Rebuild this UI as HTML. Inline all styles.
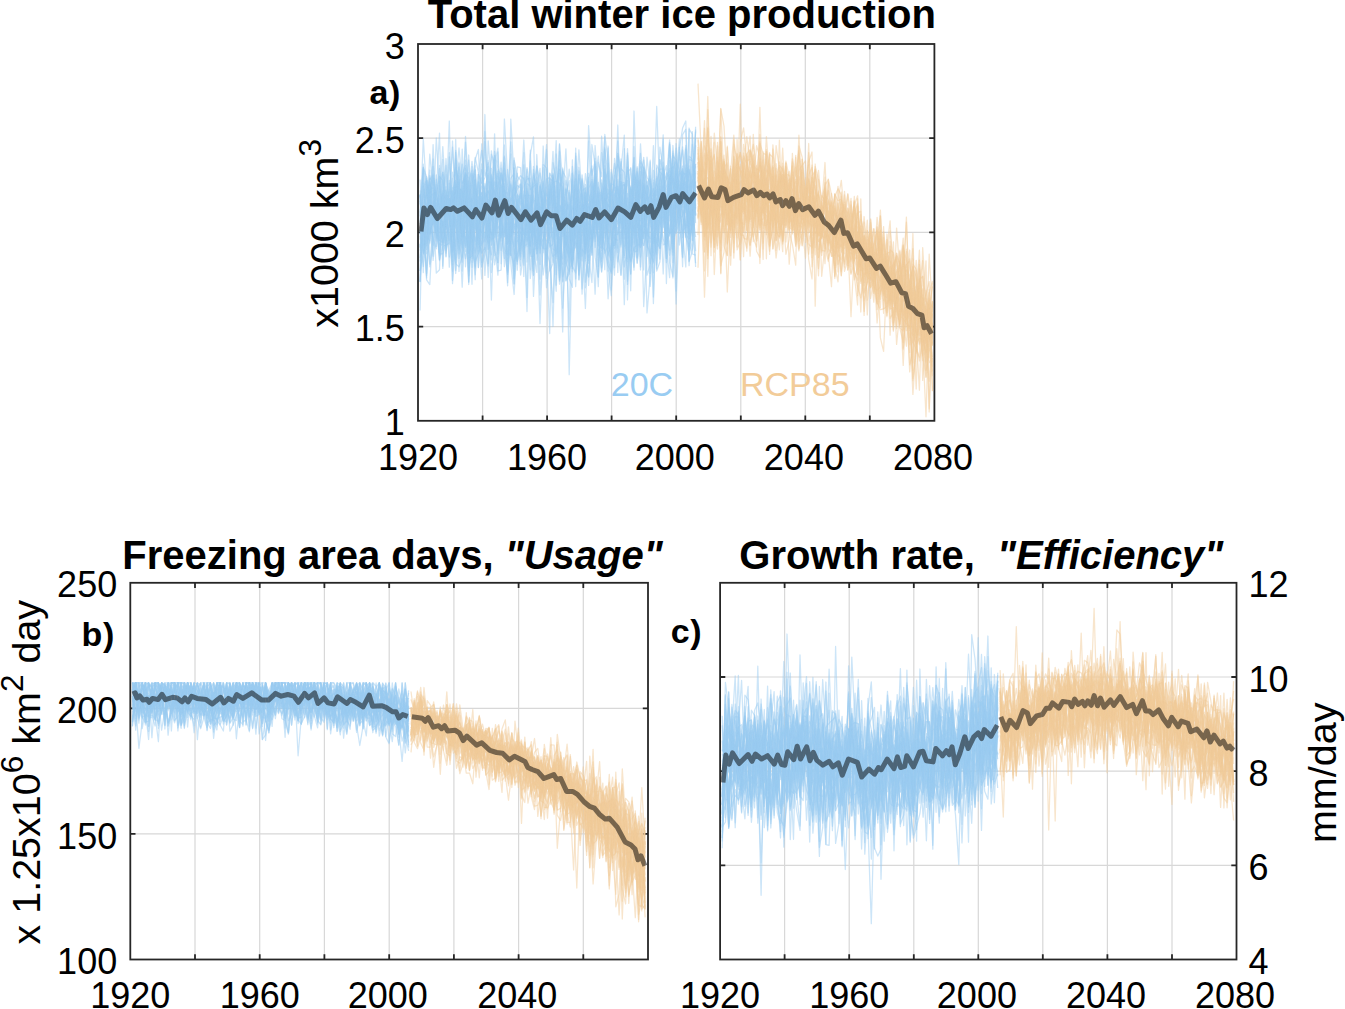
<!DOCTYPE html>
<html><head><meta charset="utf-8"><style>
html,body{margin:0;padding:0;background:#fff;}
body{width:1345px;height:1009px;overflow:hidden;}
svg{display:block;}
text{font-family:"Liberation Sans", sans-serif;fill:#000;}
.tk{font-size:36px;}
.yl{font-size:39.5px;}
.ti{font-size:40px;font-weight:bold;}
.pl{font-size:34px;font-weight:bold;letter-spacing:0.6px;}
</style></head><body>
<svg width="1345" height="1009" viewBox="0 0 1345 1009">
<rect width="1345" height="1009" fill="#fff"/>
<path d="M482.6 44V420.8M547.1 44V420.8M611.6 44V420.8M676.2 44V420.8M740.8 44V420.8M805.3 44V420.8M869.8 44V420.8M418 326.6H934.4M418 232.4H934.4M418 138.2H934.4" stroke="#d8d8d8" stroke-width="1.2" fill="none"/>
<path d="M195 582.8V959.5M259.7 582.8V959.5M324.4 582.8V959.5M389.2 582.8V959.5M453.9 582.8V959.5M518.6 582.8V959.5M583.3 582.8V959.5M130.3 833.9H648M130.3 708.4H648" stroke="#d8d8d8" stroke-width="1.2" fill="none"/>
<path d="M784.6 582.8V959.5M849.2 582.8V959.5M913.8 582.8V959.5M978.3 582.8V959.5M1042.8 582.8V959.5M1107.4 582.8V959.5M1172 582.8V959.5M720.1 865.3H1236.5M720.1 771.1H1236.5M720.1 677H1236.5" stroke="#d8d8d8" stroke-width="1.2" fill="none"/>
<path d="M482.6 420.8v-5.2M482.6 44v5.2M547.1 420.8v-5.2M547.1 44v5.2M611.6 420.8v-5.2M611.6 44v5.2M676.2 420.8v-5.2M676.2 44v5.2M740.8 420.8v-5.2M740.8 44v5.2M805.3 420.8v-5.2M805.3 44v5.2M869.8 420.8v-5.2M869.8 44v5.2M418 326.6h5.2M934.4 326.6h-5.2M418 232.4h5.2M934.4 232.4h-5.2M418 138.2h5.2M934.4 138.2h-5.2" stroke="#262626" stroke-width="1.8" fill="none"/>
<rect x="418" y="44" width="516.4" height="376.8" stroke="#262626" stroke-width="1.8" fill="none"/>
<path d="M195 959.5v-5.2M195 582.8v5.2M259.7 959.5v-5.2M259.7 582.8v5.2M324.4 959.5v-5.2M324.4 582.8v5.2M389.2 959.5v-5.2M389.2 582.8v5.2M453.9 959.5v-5.2M453.9 582.8v5.2M518.6 959.5v-5.2M518.6 582.8v5.2M583.3 959.5v-5.2M583.3 582.8v5.2M130.3 833.9h5.2M648 833.9h-5.2M130.3 708.4h5.2M648 708.4h-5.2" stroke="#262626" stroke-width="1.8" fill="none"/>
<rect x="130.3" y="582.8" width="517.7" height="376.7" stroke="#262626" stroke-width="1.8" fill="none"/>
<path d="M784.6 959.5v-5.2M784.6 582.8v5.2M849.2 959.5v-5.2M849.2 582.8v5.2M913.8 959.5v-5.2M913.8 582.8v5.2M978.3 959.5v-5.2M978.3 582.8v5.2M1042.8 959.5v-5.2M1042.8 582.8v5.2M1107.4 959.5v-5.2M1107.4 582.8v5.2M1172 959.5v-5.2M1172 582.8v5.2M720.1 865.3h5.2M1236.5 865.3h-5.2M720.1 771.1h5.2M1236.5 771.1h-5.2M720.1 677h5.2M1236.5 677h-5.2" stroke="#262626" stroke-width="1.8" fill="none"/>
<rect x="720.1" y="582.8" width="516.4" height="376.7" stroke="#262626" stroke-width="1.8" fill="none"/>
<g fill="none" stroke="rgb(153,204,242)" stroke-opacity="0.5" stroke-width="1.25" stroke-linejoin="round">
<path d="M420.1 190.2L423.3 252.9L426.6 187.9L429.8 201.6L433.1 209.3L436.3 195.4L439.5 176.3L442.8 233.1L446 220.3L449.3 152.6L452.5 283.6L455.7 240.9L459 188.5L462.2 237.7L465.5 195.8L468.7 211.1L472 241.6L475.2 174.4L478.4 231.7L481.7 262.5L484.9 250.3L488.2 199.4L491.4 241L494.6 155.6L497.9 207.3L501.1 223.7L504.4 162.8L507.6 209.2L510.8 263.8L514.1 294.5L517.3 239.8L520.6 245.6L523.8 186.8L527 179.2L530.3 178.2L533.5 234.5L536.8 237.4L540 203.8L543.2 183.2L546.5 220.3L549.7 224.5L553 211.9L556.2 256.7L559.5 224L562.7 223.2L565.9 189L569.2 226.8L572.4 268.1L575.7 222L578.9 222.6L582.1 232.1L585.4 223.8L588.6 233L591.9 234.4L595.1 230.8L598.3 193.3L601.6 224.8L604.8 165.7L608.1 224.5L611.3 183.1L614.5 212L617.8 223.5L621 197.7L624.3 214.8L627.5 166.9L630.7 192.5L634 231.3L637.2 173.2L640.5 231.9L643.7 167.6L647 184.1L650.2 175.6L653.4 216.5L656.7 228.9L659.9 174L663.2 189.5L666.4 258.6L669.6 191.6L672.9 173.2L676.1 208.3L679.4 194.5L682.6 173.4L685.8 145.3L689.1 227.6L692.3 181L695.6 192.9"/>
<path d="M420.1 200.7L423.3 254.1L426.6 237.1L429.8 240.5L433.1 208.3L436.3 231.8L439.5 244.5L442.8 245.1L446 218.7L449.3 207.5L452.5 198.1L455.7 188.1L459 182.5L462.2 220.4L465.5 202.3L468.7 155L472 211.8L475.2 244.9L478.4 205.2L481.7 163.9L484.9 204.4L488.2 233.2L491.4 218.6L494.6 190.3L497.9 271L501.1 270.1L504.4 198.9L507.6 237.6L510.8 221.1L514.1 235.7L517.3 261.4L520.6 245.3L523.8 217.4L527 195.3L530.3 195.6L533.5 216.4L536.8 250.4L540 232.5L543.2 220.5L546.5 220.3L549.7 215.7L553 233.2L556.2 183.5L559.5 169.4L562.7 212.8L565.9 187.8L569.2 274.1L572.4 220.4L575.7 212.8L578.9 175.7L582.1 227.2L585.4 196.8L588.6 252L591.9 244.2L595.1 188.5L598.3 229.5L601.6 136.2L604.8 192.6L608.1 255.8L611.3 245L614.5 219.6L617.8 207.5L621 168.6L624.3 172.2L627.5 221.6L630.7 273.7L634 146.3L637.2 226.8L640.5 230.4L643.7 238.3L647 185.2L650.2 192L653.4 217.8L656.7 182L659.9 169.2L663.2 169.1L666.4 204.6L669.6 212.8L672.9 196.2L676.1 198.4L679.4 181.1L682.6 172.9L685.8 233.3L689.1 199.8L692.3 195.1L695.6 222.9"/>
<path d="M420.1 271.1L423.3 253.2L426.6 226.2L429.8 207.6L433.1 220.7L436.3 222.6L439.5 260.7L442.8 221.7L446 229.1L449.3 208.4L452.5 252.4L455.7 150.3L459 222.7L462.2 233L465.5 175.8L468.7 281.7L472 212L475.2 206.2L478.4 181.9L481.7 245.8L484.9 215.2L488.2 190.9L491.4 219.4L494.6 224.6L497.9 250.8L501.1 216.2L504.4 173.8L507.6 195.4L510.8 141.9L514.1 189.5L517.3 238.4L520.6 233.9L523.8 211.5L527 204.4L530.3 269.8L533.5 226.2L536.8 242.4L540 235.5L543.2 199.4L546.5 261.8L549.7 178.6L553 181L556.2 203.6L559.5 205.5L562.7 209L565.9 203.8L569.2 254L572.4 226.8L575.7 231.4L578.9 174.3L582.1 193.6L585.4 249.6L588.6 181.2L591.9 255L595.1 181.1L598.3 225.9L601.6 190.6L604.8 218.5L608.1 189.8L611.3 212.3L614.5 267.6L617.8 197.5L621 274.9L624.3 198.3L627.5 180.3L630.7 219.8L634 197.4L637.2 262.9L640.5 238.7L643.7 245.7L647 230.7L650.2 286.5L653.4 241.7L656.7 228.8L659.9 180.8L663.2 168.4L666.4 212.6L669.6 232.7L672.9 232.6L676.1 168.5L679.4 218L682.6 200L685.8 165L689.1 217.8L692.3 131.7L695.6 201.3"/>
<path d="M420.1 310.6L423.3 182.9L426.6 213.8L429.8 154.2L433.1 189.6L436.3 241L439.5 185.7L442.8 211.3L446 198.4L449.3 198.3L452.5 214.6L455.7 225.4L459 249.9L462.2 235.5L465.5 193L468.7 258.1L472 256.3L475.2 165.7L478.4 234.5L481.7 244.1L484.9 239L488.2 225.6L491.4 174.5L494.6 194.9L497.9 151.9L501.1 204.7L504.4 266.7L507.6 233.4L510.8 235.3L514.1 195.8L517.3 185.4L520.6 188L523.8 218.6L527 191L530.3 200.6L533.5 253.8L536.8 165.7L540 184.8L543.2 204L546.5 209.1L549.7 210.8L553 175.2L556.2 222.3L559.5 223L562.7 236.5L565.9 189.7L569.2 374.7L572.4 232.1L575.7 200.9L578.9 214L582.1 202.1L585.4 258.3L588.6 125.6L591.9 175.3L595.1 161.5L598.3 205.4L601.6 195.5L604.8 200.2L608.1 238.9L611.3 172.3L614.5 189.5L617.8 201.9L621 174.9L624.3 223.5L627.5 225L630.7 196.8L634 157.9L637.2 258L640.5 226.2L643.7 221.4L647 212.8L650.2 207.2L653.4 242.9L656.7 211.3L659.9 186.6L663.2 217.4L666.4 208.6L669.6 178.4L672.9 170.6L676.1 233.2L679.4 221.2L682.6 257L685.8 182.1L689.1 179.8L692.3 210.5L695.6 237"/>
<path d="M420.1 250.6L423.3 226.3L426.6 273.6L429.8 187.5L433.1 175.3L436.3 195.3L439.5 206.8L442.8 224.3L446 241.4L449.3 222.2L452.5 257.2L455.7 185.9L459 271.5L462.2 185.3L465.5 246.8L468.7 185.6L472 227.3L475.2 212.5L478.4 229.8L481.7 241.7L484.9 201.8L488.2 206.1L491.4 219.8L494.6 164.8L497.9 190.7L501.1 162.2L504.4 201.9L507.6 282.7L510.8 232.3L514.1 185.6L517.3 194.4L520.6 250.3L523.8 200.9L527 167.6L530.3 189.5L533.5 186.6L536.8 183.7L540 244.5L543.2 221.1L546.5 168.9L549.7 198.9L553 182.7L556.2 181L559.5 183L562.7 281.1L565.9 212.2L569.2 240.8L572.4 252.8L575.7 208.9L578.9 237.4L582.1 235.5L585.4 222L588.6 285.5L591.9 226.3L595.1 204.3L598.3 237L601.6 272.1L604.8 244L608.1 202.1L611.3 194.8L614.5 187L617.8 189.2L621 222.1L624.3 238.7L627.5 148.6L630.7 216.8L634 177.2L637.2 228.6L640.5 240.4L643.7 185.3L647 197.4L650.2 179.8L653.4 228.8L656.7 165.1L659.9 172.2L663.2 174.9L666.4 245.9L669.6 277.7L672.9 197.5L676.1 160.2L679.4 203.3L682.6 168.6L685.8 212.1L689.1 169.1L692.3 186.8L695.6 192.5"/>
<path d="M420.1 248.1L423.3 210.2L426.6 253.7L429.8 213.1L433.1 158.9L436.3 246.4L439.5 207.5L442.8 192.9L446 256.9L449.3 180.4L452.5 210.8L455.7 189.2L459 253.8L462.2 198.3L465.5 216.9L468.7 172.5L472 262.2L475.2 179.9L478.4 242.4L481.7 253.3L484.9 247.5L488.2 266.1L491.4 178.2L494.6 215.5L497.9 216.3L501.1 222.7L504.4 236.9L507.6 215.1L510.8 184.9L514.1 207.9L517.3 264.1L520.6 184.8L523.8 217.2L527 185.8L530.3 254.6L533.5 169.4L536.8 203.4L540 219.3L543.2 222.6L546.5 287.6L549.7 264.3L553 185.8L556.2 285.2L559.5 192.1L562.7 170.9L565.9 177.7L569.2 228.9L572.4 242.1L575.7 156L578.9 234.3L582.1 210.5L585.4 237.5L588.6 204.9L591.9 246L595.1 229L598.3 182.3L601.6 261.4L604.8 219L608.1 239.3L611.3 260.1L614.5 185.8L617.8 205.9L621 185.9L624.3 184.3L627.5 222.9L630.7 228.2L634 251.8L637.2 251.1L640.5 210.5L643.7 183.6L647 312.9L650.2 276.1L653.4 213.2L656.7 106.4L659.9 192.6L663.2 203.7L666.4 242.9L669.6 231.8L672.9 210.8L676.1 188.7L679.4 206.3L682.6 184.8L685.8 199.7L689.1 198.4L692.3 214.3L695.6 138.3"/>
<path d="M420.1 221.5L423.3 204L426.6 180.4L429.8 204.1L433.1 180.9L436.3 197.6L439.5 207.6L442.8 205L446 192.1L449.3 244.6L452.5 214.9L455.7 220.2L459 218L462.2 189.5L465.5 183.8L468.7 239.7L472 206.1L475.2 159.5L478.4 149.5L481.7 224.8L484.9 186.7L488.2 206.1L491.4 196.3L494.6 190.9L497.9 206.9L501.1 173.1L504.4 201.2L507.6 243.1L510.8 230.8L514.1 160.3L517.3 176L520.6 180.4L523.8 207.4L527 241.6L530.3 229.5L533.5 166.3L536.8 215.1L540 248.7L543.2 205.8L546.5 273L549.7 195.6L553 253.2L556.2 291.3L559.5 189.7L562.7 215.8L565.9 239.5L569.2 325.2L572.4 173.2L575.7 238.2L578.9 229.4L582.1 205.9L585.4 190.7L588.6 200.8L591.9 208.5L595.1 174.1L598.3 266.7L601.6 183L604.8 199.8L608.1 196.7L611.3 207.7L614.5 217L617.8 186.4L621 202.9L624.3 266.8L627.5 248.2L630.7 209L634 238.3L637.2 184.4L640.5 218.4L643.7 166.5L647 177.3L650.2 182.3L653.4 255.9L656.7 219.1L659.9 222.4L663.2 199.6L666.4 218.4L669.6 214.2L672.9 221.4L676.1 201L679.4 174.4L682.6 170.9L685.8 236.2L689.1 246.6L692.3 215.4L695.6 145.2"/>
<path d="M420.1 281.9L423.3 222.8L426.6 211L429.8 209.7L433.1 200.7L436.3 273.1L439.5 269.8L442.8 181.5L446 203.2L449.3 219L452.5 249.3L455.7 139.4L459 240.3L462.2 262.2L465.5 199.7L468.7 211.3L472 256.1L475.2 222.6L478.4 174.2L481.7 183.4L484.9 177.7L488.2 166.5L491.4 211.6L494.6 187.2L497.9 212.8L501.1 231.5L504.4 258.5L507.6 218L510.8 154L514.1 254.8L517.3 211L520.6 255.9L523.8 201.1L527 223.5L530.3 214.7L533.5 216L536.8 253.7L540 203.4L543.2 223.6L546.5 218.6L549.7 202.7L553 151.3L556.2 226.7L559.5 143.7L562.7 181L565.9 207.3L569.2 235.6L572.4 252.1L575.7 246.1L578.9 238.9L582.1 207.1L585.4 253.3L588.6 207.8L591.9 252.7L595.1 145.5L598.3 188.1L601.6 198L604.8 211.6L608.1 146L611.3 245.3L614.5 245.3L617.8 233.1L621 194.3L624.3 257.8L627.5 198.1L630.7 245.9L634 207.1L637.2 205.7L640.5 206.2L643.7 206.8L647 245.6L650.2 253L653.4 261.6L656.7 240.4L659.9 225.8L663.2 208.7L666.4 262.6L669.6 187.5L672.9 178L676.1 196.9L679.4 152.1L682.6 186.5L685.8 195.2L689.1 171.1L692.3 180.3L695.6 214.7"/>
<path d="M420.1 224.4L423.3 214.4L426.6 245.8L429.8 190.8L433.1 177.8L436.3 215.2L439.5 229.1L442.8 159.3L446 229.2L449.3 199.7L452.5 196.1L455.7 184.4L459 204.7L462.2 239.3L465.5 225.8L468.7 238.4L472 205.4L475.2 261.5L478.4 253.7L481.7 216.8L484.9 131.5L488.2 209.7L491.4 300.1L494.6 200.8L497.9 182L501.1 263.7L504.4 183.6L507.6 227.2L510.8 232.9L514.1 167.8L517.3 218.8L520.6 257.1L523.8 205L527 235L530.3 218.3L533.5 250L536.8 272.4L540 190.9L543.2 210.4L546.5 224.6L549.7 196.1L553 191.6L556.2 205.9L559.5 218.8L562.7 206.1L565.9 231.6L569.2 248.2L572.4 248.9L575.7 241.8L578.9 258.5L582.1 178.6L585.4 211.5L588.6 222.1L591.9 234.1L595.1 164.1L598.3 276.5L601.6 189.4L604.8 220.6L608.1 239.5L611.3 254.5L614.5 194.1L617.8 192.7L621 221.6L624.3 230.4L627.5 243.6L630.7 215.7L634 189.1L637.2 168L640.5 267L643.7 168.1L647 232.9L650.2 216.4L653.4 240.8L656.7 242.4L659.9 248.2L663.2 193.1L666.4 219.5L669.6 144.2L672.9 198.4L676.1 169.7L679.4 196.6L682.6 233.5L685.8 200.9L689.1 236.5L692.3 191.8L695.6 205.8"/>
<path d="M420.1 219.6L423.3 138.8L426.6 192.6L429.8 201.5L433.1 216.7L436.3 217.1L439.5 212.5L442.8 242.9L446 228.9L449.3 197.9L452.5 236.6L455.7 152.5L459 202.5L462.2 204.8L465.5 251.3L468.7 197.5L472 173.9L475.2 216.8L478.4 267.7L481.7 211.9L484.9 205.5L488.2 202.4L491.4 214.1L494.6 244.7L497.9 275.1L501.1 224.8L504.4 199.1L507.6 271.3L510.8 212.2L514.1 213.3L517.3 204.9L520.6 210.3L523.8 222.8L527 206.4L530.3 233L533.5 220.6L536.8 231.6L540 212.3L543.2 213.5L546.5 220.3L549.7 217.2L553 219.4L556.2 254L559.5 196.1L562.7 169.3L565.9 244.9L569.2 215.9L572.4 268.7L575.7 218.1L578.9 186.9L582.1 288.9L585.4 228.2L588.6 203.4L591.9 195.9L595.1 229.5L598.3 197.1L601.6 228.1L604.8 249.9L608.1 176.1L611.3 209.8L614.5 229.8L617.8 261.9L621 239.9L624.3 198.8L627.5 261.6L630.7 207.3L634 204.9L637.2 219.2L640.5 179.7L643.7 306.6L647 249.1L650.2 214.8L653.4 200.1L656.7 178.5L659.9 217.1L663.2 217.3L666.4 195.4L669.6 195.4L672.9 215L676.1 194.4L679.4 147.4L682.6 215.4L685.8 205.5L689.1 225L692.3 175.9L695.6 131.5"/>
<path d="M420.1 195.5L423.3 222.2L426.6 279.9L429.8 284.6L433.1 221.4L436.3 174.8L439.5 206.4L442.8 226.8L446 222.9L449.3 212.5L452.5 251.5L455.7 183.9L459 147.8L462.2 183.6L465.5 175.8L468.7 284.5L472 211.1L475.2 169.6L478.4 233.1L481.7 250.1L484.9 209.9L488.2 214.4L491.4 245L494.6 219.3L497.9 191.7L501.1 228.3L504.4 231.6L507.6 222.6L510.8 236.7L514.1 229.6L517.3 208.1L520.6 214.9L523.8 234.4L527 198.3L530.3 256.1L533.5 256.3L536.8 154.5L540 221L543.2 197.1L546.5 193.7L549.7 219.2L553 210.9L556.2 234.2L559.5 237.1L562.7 332L565.9 198.5L569.2 212.4L572.4 271.8L575.7 148.2L578.9 275.3L582.1 202L585.4 252.7L588.6 140.9L591.9 205.1L595.1 238.2L598.3 221.2L601.6 247.7L604.8 186.8L608.1 199.7L611.3 200.8L614.5 230.3L617.8 223.2L621 206.2L624.3 204L627.5 206L630.7 220.2L634 181.8L637.2 205.1L640.5 207L643.7 192.3L647 194L650.2 254.7L653.4 198.5L656.7 225L659.9 248.7L663.2 218.5L666.4 207.4L669.6 233.3L672.9 155.6L676.1 160.2L679.4 189.5L682.6 187.4L685.8 194.6L689.1 261.6L692.3 251.6L695.6 191.8"/>
<path d="M420.1 239.7L423.3 186.2L426.6 223.4L429.8 170.2L433.1 256.3L436.3 201.8L439.5 233.8L442.8 174.5L446 253.2L449.3 228.8L452.5 271.2L455.7 212.1L459 163.5L462.2 186.1L465.5 173L468.7 263.4L472 198.2L475.2 189.1L478.4 232.3L481.7 226.2L484.9 223.8L488.2 193.5L491.4 154.2L494.6 163.3L497.9 148.2L501.1 250.3L504.4 230.9L507.6 200.7L510.8 228.6L514.1 232.3L517.3 235.3L520.6 236.1L523.8 243L527 216.9L530.3 154.8L533.5 136.9L536.8 253.8L540 242.1L543.2 146L546.5 217.7L549.7 189.1L553 199.8L556.2 140.6L559.5 251.4L562.7 222.7L565.9 247.3L569.2 257.3L572.4 266.4L575.7 272.9L578.9 229.7L582.1 225.2L585.4 196.4L588.6 233.1L591.9 210.4L595.1 176.9L598.3 254.9L601.6 238.2L604.8 134.3L608.1 161.8L611.3 213.4L614.5 175.1L617.8 247.9L621 215.8L624.3 230.2L627.5 244.9L630.7 260.8L634 201.5L637.2 227.3L640.5 219.7L643.7 234.1L647 228.8L650.2 253.7L653.4 234.1L656.7 198.3L659.9 209.3L663.2 162.1L666.4 217.5L669.6 250L672.9 179.7L676.1 148.2L679.4 199.1L682.6 179.5L685.8 197.9L689.1 184.7L692.3 200.6L695.6 163.7"/>
<path d="M420.1 282.1L423.3 206.4L426.6 230.3L429.8 234.2L433.1 207.6L436.3 232L439.5 209.3L442.8 199.8L446 202.7L449.3 225.6L452.5 172.1L455.7 184L459 187.6L462.2 192.9L465.5 247.3L468.7 212.5L472 208L475.2 216.2L478.4 248L481.7 196.5L484.9 241.7L488.2 140.8L491.4 187L494.6 250.9L497.9 262.8L501.1 216.4L504.4 190.2L507.6 239.1L510.8 197.6L514.1 261.6L517.3 254.1L520.6 244.9L523.8 191.2L527 246.8L530.3 213.1L533.5 211.6L536.8 202.3L540 220.8L543.2 236.4L546.5 240.8L549.7 243.3L553 326.5L556.2 207.7L559.5 265.8L562.7 207.5L565.9 217.2L569.2 190.3L572.4 265.9L575.7 230.5L578.9 226.6L582.1 216.7L585.4 246.8L588.6 203.6L591.9 232.4L595.1 294.2L598.3 214.3L601.6 199.1L604.8 184.9L608.1 244.5L611.3 224.4L614.5 194.4L617.8 186.4L621 213.3L624.3 184.8L627.5 284.4L630.7 214.1L634 206.4L637.2 206.4L640.5 160.7L643.7 168L647 202.2L650.2 209.2L653.4 182.6L656.7 268.9L659.9 222.2L663.2 238.9L666.4 247L669.6 196.6L672.9 277.9L676.1 202.5L679.4 148.4L682.6 128.1L685.8 121L689.1 232.1L692.3 202.5L695.6 251.3"/>
<path d="M420.1 225.2L423.3 233.3L426.6 239.5L429.8 181.5L433.1 224L436.3 231.3L439.5 253.8L442.8 253.9L446 243L449.3 189.5L452.5 234.7L455.7 246.9L459 214.2L462.2 235.5L465.5 236.6L468.7 253.4L472 221.3L475.2 228.7L478.4 222L481.7 222.3L484.9 192.4L488.2 200.5L491.4 181.7L494.6 199.1L497.9 236.3L501.1 231.5L504.4 228L507.6 210.4L510.8 255.4L514.1 199.5L517.3 241.7L520.6 234.6L523.8 195L527 195.9L530.3 245.3L533.5 220.6L536.8 224.2L540 323.6L543.2 239.2L546.5 218.2L549.7 240.4L553 200.4L556.2 213.1L559.5 243.3L562.7 203.6L565.9 222.5L569.2 219.2L572.4 230.9L575.7 171.1L578.9 279.4L582.1 217.9L585.4 234.9L588.6 188.3L591.9 181.6L595.1 214.3L598.3 209.2L601.6 238.4L604.8 187.6L608.1 189.6L611.3 232.8L614.5 238.9L617.8 240.3L621 211.3L624.3 222.5L627.5 193.6L630.7 261.9L634 248.2L637.2 244.6L640.5 166.9L643.7 238.5L647 191.5L650.2 225.5L653.4 232.4L656.7 253.1L659.9 201.5L663.2 186.9L666.4 179.5L669.6 168.5L672.9 217.7L676.1 171.6L679.4 224.6L682.6 184.7L685.8 182.9L689.1 234.2L692.3 227L695.6 166.1"/>
<path d="M420.1 228.4L423.3 214.1L426.6 236.4L429.8 189.6L433.1 201.1L436.3 215.2L439.5 239.9L442.8 242.7L446 194.7L449.3 267.1L452.5 223.9L455.7 188.4L459 167.2L462.2 196L465.5 142.1L468.7 220.4L472 235.8L475.2 253.2L478.4 230.8L481.7 169.7L484.9 201.3L488.2 232L491.4 150.8L494.6 180.3L497.9 233.4L501.1 212.7L504.4 145L507.6 198.4L510.8 210.8L514.1 278.7L517.3 203.6L520.6 194.2L523.8 224.1L527 226.5L530.3 238.9L533.5 264.8L536.8 212.9L540 184.6L543.2 221.8L546.5 214.2L549.7 247.1L553 244.2L556.2 196.3L559.5 253L562.7 258.8L565.9 217.3L569.2 254.4L572.4 232.1L575.7 227.5L578.9 217.6L582.1 245.6L585.4 308.5L588.6 225.1L591.9 185.2L595.1 205.9L598.3 201.1L601.6 227.3L604.8 209.7L608.1 298.8L611.3 245.3L614.5 275.2L617.8 189.5L621 205.3L624.3 279.2L627.5 167.5L630.7 223.7L634 166L637.2 257.6L640.5 171.7L643.7 200.7L647 206.9L650.2 160.1L653.4 296.9L656.7 208.4L659.9 259.2L663.2 176.1L666.4 165.7L669.6 209.3L672.9 204.5L676.1 290.9L679.4 171.8L682.6 149.9L685.8 178.3L689.1 212.6L692.3 217.1L695.6 172.6"/>
<path d="M420.1 222.7L423.3 231.4L426.6 249.4L429.8 193.1L433.1 217L436.3 138L439.5 189.1L442.8 227.3L446 209.6L449.3 205L452.5 261.3L455.7 202.6L459 179.9L462.2 216.8L465.5 217.2L468.7 180.8L472 249.6L475.2 266.7L478.4 197.2L481.7 193.5L484.9 206.7L488.2 249.2L491.4 196.9L494.6 182.6L497.9 195.9L501.1 218.3L504.4 209.8L507.6 207.7L510.8 248.4L514.1 284L517.3 199.3L520.6 253.6L523.8 224.6L527 311.6L530.3 194.8L533.5 208.4L536.8 218L540 182.7L543.2 213.9L546.5 236.2L549.7 173.7L553 221.1L556.2 274.6L559.5 210.5L562.7 200.3L565.9 148.8L569.2 220.4L572.4 178.9L575.7 239.2L578.9 274.3L582.1 237.3L585.4 193.1L588.6 238.3L591.9 204.7L595.1 179.3L598.3 202.9L601.6 224.1L604.8 202.7L608.1 234L611.3 289.6L614.5 234.9L617.8 233.8L621 191.5L624.3 255.4L627.5 226.9L630.7 250.8L634 187.7L637.2 215.3L640.5 143.8L643.7 198.5L647 186.9L650.2 179.1L653.4 272.8L656.7 168.1L659.9 201.4L663.2 191.4L666.4 224.6L669.6 234L672.9 151.1L676.1 180.9L679.4 181.2L682.6 216.9L685.8 228.1L689.1 190.2L692.3 182.4L695.6 164.1"/>
<path d="M420.1 243.9L423.3 266.5L426.6 225.9L429.8 189.2L433.1 187.8L436.3 196.7L439.5 168.6L442.8 268.4L446 211.5L449.3 200.1L452.5 280.5L455.7 217.4L459 258.4L462.2 218L465.5 245.1L468.7 215.6L472 206L475.2 224.4L478.4 236.6L481.7 253L484.9 214.8L488.2 201.2L491.4 201.7L494.6 212.9L497.9 198.1L501.1 200.1L504.4 219.4L507.6 230.7L510.8 225.1L514.1 189.4L517.3 173.3L520.6 228.2L523.8 218.6L527 203.6L530.3 226.1L533.5 244.7L536.8 207.7L540 236L543.2 190.8L546.5 205.9L549.7 190.7L553 174L556.2 230.3L559.5 144.6L562.7 223.6L565.9 246.3L569.2 235.4L572.4 180.3L575.7 228L578.9 167.4L582.1 192.7L585.4 260.9L588.6 221.3L591.9 255.1L595.1 179.3L598.3 156.1L601.6 193.5L604.8 253.3L608.1 245.6L611.3 254.1L614.5 209.9L617.8 205.9L621 204L624.3 304.7L627.5 217.4L630.7 274.1L634 204.3L637.2 251.1L640.5 179.9L643.7 193.6L647 222.2L650.2 191.1L653.4 204.8L656.7 207.5L659.9 189.6L663.2 244.9L666.4 243.4L669.6 160.6L672.9 252.3L676.1 195.3L679.4 200.6L682.6 189.5L685.8 226L689.1 224.8L692.3 182.9L695.6 195.2"/>
<path d="M420.1 194.1L423.3 272.6L426.6 189.1L429.8 184L433.1 191.3L436.3 222.1L439.5 240.8L442.8 202.8L446 210.4L449.3 121L452.5 250.7L455.7 218.1L459 162.1L462.2 257.1L465.5 221.1L468.7 275.6L472 199.4L475.2 197.4L478.4 209.1L481.7 177.8L484.9 198.2L488.2 249.4L491.4 235.7L494.6 133.8L497.9 254.2L501.1 221.9L504.4 229.1L507.6 214L510.8 215.8L514.1 213.7L517.3 217.7L520.6 190L523.8 249.2L527 222.4L530.3 232.6L533.5 229.4L536.8 205.5L540 222.2L543.2 181.1L546.5 221.6L549.7 224.6L553 209.8L556.2 167.2L559.5 270.7L562.7 221.2L565.9 221.7L569.2 214.4L572.4 208.8L575.7 209.4L578.9 189.1L582.1 202.3L585.4 282.2L588.6 255.1L591.9 282.5L595.1 194L598.3 162.5L601.6 176.7L604.8 136.7L608.1 251.9L611.3 260.2L614.5 218.7L617.8 221.7L621 222.8L624.3 209.4L627.5 239L630.7 189L634 197.5L637.2 203.5L640.5 162.8L643.7 179.7L647 225.6L650.2 219.7L653.4 145.7L656.7 242.3L659.9 217.3L663.2 220.6L666.4 205.9L669.6 220.8L672.9 160.4L676.1 190.7L679.4 171.1L682.6 179.8L685.8 236.1L689.1 254.7L692.3 199.8L695.6 181.1"/>
<path d="M420.1 257.7L423.3 228.3L426.6 275.8L429.8 230.5L433.1 144.6L436.3 219.9L439.5 207.7L442.8 190.1L446 214.2L449.3 212.3L452.5 199.3L455.7 259.2L459 223.6L462.2 223L465.5 215.6L468.7 253L472 185.1L475.2 250.7L478.4 207.4L481.7 266.4L484.9 254.7L488.2 225.2L491.4 200.1L494.6 212.9L497.9 224.4L501.1 168.1L504.4 193.4L507.6 192.4L510.8 253.7L514.1 266.3L517.3 194.9L520.6 204.9L523.8 177.5L527 223.8L530.3 246.2L533.5 275.6L536.8 177.2L540 253.8L543.2 215.6L546.5 192.2L549.7 205.5L553 194.6L556.2 231.4L559.5 227.8L562.7 264.1L565.9 206.8L569.2 169.2L572.4 197.3L575.7 232L578.9 178.5L582.1 197.4L585.4 232.9L588.6 177.3L591.9 245.1L595.1 222.7L598.3 200.3L601.6 214.7L604.8 198.5L608.1 205.2L611.3 211L614.5 215.4L617.8 206.5L621 189L624.3 184L627.5 281.2L630.7 186.2L634 205.5L637.2 245.8L640.5 243.5L643.7 187.6L647 275.2L650.2 264.5L653.4 207.9L656.7 176.7L659.9 225.8L663.2 190.2L666.4 198.9L669.6 178.1L672.9 180.3L676.1 201.9L679.4 230.4L682.6 134.6L685.8 129.4L689.1 232.9L692.3 173.8L695.6 215.7"/>
<path d="M420.1 235.7L423.3 253L426.6 242.9L429.8 201.8L433.1 207.5L436.3 227.8L439.5 240.5L442.8 194.9L446 165.5L449.3 213.3L452.5 207.9L455.7 206L459 182.3L462.2 228.9L465.5 160.1L468.7 199.5L472 258.4L475.2 179.5L478.4 227.3L481.7 232.9L484.9 222.5L488.2 160.4L491.4 245.2L494.6 208.1L497.9 228.5L501.1 220L504.4 204.6L507.6 251.4L510.8 255.4L514.1 157.8L517.3 193.2L520.6 215.1L523.8 152.7L527 262L530.3 197.6L533.5 236.1L536.8 221.3L540 217.5L543.2 190.6L546.5 202.5L549.7 218.5L553 241.8L556.2 211.1L559.5 216.2L562.7 219L565.9 263.8L569.2 232.8L572.4 206.5L575.7 184.6L578.9 209.4L582.1 192.8L585.4 203.8L588.6 260.5L591.9 240.4L595.1 219.4L598.3 230.3L601.6 271.3L604.8 180.3L608.1 231.3L611.3 214.8L614.5 219.6L617.8 211.8L621 201.6L624.3 230L627.5 153L630.7 227.7L634 232L637.2 180.1L640.5 183.9L643.7 269.9L647 185.6L650.2 197.5L653.4 195L656.7 195.1L659.9 186.5L663.2 134.8L666.4 283.6L669.6 180.8L672.9 210.1L676.1 194.6L679.4 245L682.6 216.9L685.8 234.4L689.1 239.6L692.3 225.3L695.6 195"/>
<path d="M420.1 261.5L423.3 167.5L426.6 242.5L429.8 232.4L433.1 222.1L436.3 179.4L439.5 259.4L442.8 193.8L446 229.6L449.3 156.8L452.5 204.2L455.7 192.1L459 188.9L462.2 190.5L465.5 266.8L468.7 212.7L472 228.1L475.2 279.7L478.4 172.8L481.7 267.3L484.9 198.2L488.2 190.8L491.4 201.1L494.6 151.3L497.9 168.5L501.1 177.4L504.4 186.3L507.6 235.1L510.8 244L514.1 200.8L517.3 227.5L520.6 233.7L523.8 208.8L527 222.3L530.3 202.8L533.5 235.6L536.8 207.5L540 224.9L543.2 227.7L546.5 217.4L549.7 194.5L553 177.5L556.2 214.8L559.5 211L562.7 210.5L565.9 218.7L569.2 202.5L572.4 239.9L575.7 233.5L578.9 194.9L582.1 230.6L585.4 187.8L588.6 239.7L591.9 237.6L595.1 211.2L598.3 245.2L601.6 248.3L604.8 226.8L608.1 163.5L611.3 224.4L614.5 220.9L617.8 234.5L621 181.8L624.3 234.5L627.5 226.1L630.7 230.7L634 173.9L637.2 182.2L640.5 247.6L643.7 234.6L647 208.4L650.2 242.3L653.4 225L656.7 200.1L659.9 159.6L663.2 227.3L666.4 202.9L669.6 208.5L672.9 145.3L676.1 180.5L679.4 210.6L682.6 186.8L685.8 176.3L689.1 169.5L692.3 204.3L695.6 182.4"/>
<path d="M420.1 221.8L423.3 204.1L426.6 194.6L429.8 199.6L433.1 193.8L436.3 217.7L439.5 176.4L442.8 180.7L446 209.5L449.3 204.4L452.5 213.3L455.7 273.5L459 234.1L462.2 244.6L465.5 222.5L468.7 209.3L472 193.3L475.2 157.3L478.4 172.4L481.7 150.4L484.9 175.7L488.2 162.3L491.4 184.2L494.6 201.9L497.9 200L501.1 237.2L504.4 230.1L507.6 243.8L510.8 235.7L514.1 219L517.3 200L520.6 233.2L523.8 207.4L527 208.4L530.3 232L533.5 185.7L536.8 166.4L540 233.1L543.2 275L546.5 247.4L549.7 333.6L553 175.3L556.2 197.4L559.5 160.5L562.7 200.4L565.9 281.1L569.2 273.5L572.4 195.8L575.7 210.8L578.9 196.6L582.1 179.5L585.4 207.9L588.6 206.6L591.9 220.2L595.1 219.2L598.3 238.4L601.6 258.7L604.8 209.9L608.1 209.9L611.3 219.9L614.5 228.1L617.8 204.6L621 181.3L624.3 196.7L627.5 237.8L630.7 187.8L634 235L637.2 166.7L640.5 230.4L643.7 226.5L647 204.4L650.2 206.7L653.4 209.6L656.7 265L659.9 192.3L663.2 173.8L666.4 218.6L669.6 235.9L672.9 207.5L676.1 191.7L679.4 233.4L682.6 172L685.8 175L689.1 165.9L692.3 235.8L695.6 129.5"/>
<path d="M420.1 194.5L423.3 220.3L426.6 226.1L429.8 264.1L433.1 224.9L436.3 202.7L439.5 259.7L442.8 246.1L446 245.3L449.3 243L452.5 224.6L455.7 168.2L459 180.2L462.2 271.1L465.5 210.7L468.7 160.1L472 218L475.2 241.3L478.4 225.6L481.7 218.1L484.9 141.5L488.2 209.9L491.4 208.1L494.6 255.6L497.9 211.9L501.1 207.7L504.4 189L507.6 207.9L510.8 217L514.1 195.9L517.3 189.4L520.6 183.4L523.8 218.2L527 203.9L530.3 209.8L533.5 173.4L536.8 189.9L540 168.4L543.2 248.7L546.5 249L549.7 227.1L553 212.1L556.2 230.4L559.5 183.8L562.7 186.8L565.9 258L569.2 192.3L572.4 223.2L575.7 200.5L578.9 149.9L582.1 198.5L585.4 240.5L588.6 257.1L591.9 144.5L595.1 165.5L598.3 199.3L601.6 246.2L604.8 250.4L608.1 265.8L611.3 272.6L614.5 201.5L617.8 179.6L621 238.6L624.3 203.9L627.5 215L630.7 206.7L634 197.6L637.2 235.3L640.5 181.7L643.7 157.3L647 189.9L650.2 210.1L653.4 207L656.7 207.2L659.9 147.1L663.2 168.9L666.4 240.1L669.6 195.2L672.9 176.6L676.1 230.8L679.4 184L682.6 216.7L685.8 203.2L689.1 213.3L692.3 229.4L695.6 263.3"/>
<path d="M420.1 270.9L423.3 187.1L426.6 180.2L429.8 198.6L433.1 205.4L436.3 237.8L439.5 215.7L442.8 217.4L446 158.5L449.3 206.6L452.5 224L455.7 262.7L459 234.2L462.2 210.5L465.5 174L468.7 211.4L472 215.2L475.2 205.5L478.4 216.7L481.7 232.3L484.9 220.7L488.2 277.5L491.4 182.5L494.6 156L497.9 222.8L501.1 172.4L504.4 194.3L507.6 207.7L510.8 183.7L514.1 234.3L517.3 233.7L520.6 221.8L523.8 232.2L527 240.2L530.3 208.6L533.5 234.3L536.8 215.9L540 221.2L543.2 203.8L546.5 265.7L549.7 223.1L553 173L556.2 229.9L559.5 151.3L562.7 231.8L565.9 243.6L569.2 265.6L572.4 229.7L575.7 198L578.9 280.1L582.1 249.2L585.4 254.1L588.6 207L591.9 235.4L595.1 158.3L598.3 229.4L601.6 152.5L604.8 180.6L608.1 171.6L611.3 254L614.5 241.3L617.8 189.5L621 247L624.3 212L627.5 155.2L630.7 204.2L634 157.4L637.2 206.9L640.5 220.4L643.7 184.5L647 234.1L650.2 238.7L653.4 188.4L656.7 227.7L659.9 200L663.2 184.6L666.4 258.3L669.6 178.4L672.9 184.6L676.1 192.1L679.4 217.1L682.6 216.4L685.8 168.3L689.1 243.1L692.3 254L695.6 255.2"/>
<path d="M420.1 234.9L423.3 196L426.6 180.4L429.8 218.3L433.1 207.6L436.3 213.4L439.5 196.3L442.8 146.6L446 198.7L449.3 202.6L452.5 196.2L455.7 167.1L459 200.9L462.2 202.9L465.5 175L468.7 231.7L472 213.7L475.2 213.5L478.4 224.1L481.7 208.8L484.9 114.5L488.2 223.4L491.4 234.8L494.6 229.6L497.9 205.1L501.1 232.3L504.4 236.7L507.6 169.5L510.8 195.4L514.1 208.6L517.3 213.6L520.6 275L523.8 251.1L527 209.1L530.3 214.6L533.5 175.5L536.8 183.6L540 264.5L543.2 167.7L546.5 230.9L549.7 193L553 205.7L556.2 212.1L559.5 284.1L562.7 234.9L565.9 236.3L569.2 253.9L572.4 159.8L575.7 278.9L578.9 171L582.1 196.6L585.4 236.1L588.6 179.7L591.9 165.9L595.1 247.5L598.3 206.6L601.6 244.6L604.8 227.1L608.1 209.8L611.3 273.4L614.5 206.1L617.8 272.5L621 183.5L624.3 182.3L627.5 194.2L630.7 224.5L634 176L637.2 186.2L640.5 257L643.7 213.6L647 247.3L650.2 219.1L653.4 199.3L656.7 189.5L659.9 210.8L663.2 197L666.4 191.6L669.6 184.7L672.9 243.3L676.1 229.3L679.4 210.7L682.6 184.1L685.8 185.4L689.1 265.6L692.3 180.4L695.6 266.9"/>
<path d="M420.1 212.6L423.3 169.6L426.6 277.9L429.8 206L433.1 260.4L436.3 231.1L439.5 209.2L442.8 242.6L446 200.4L449.3 223.3L452.5 204.5L455.7 159L459 223.2L462.2 193.5L465.5 205.2L468.7 226L472 175.3L475.2 228.1L478.4 231.7L481.7 279L484.9 234.2L488.2 218.9L491.4 193.3L494.6 201.9L497.9 171L501.1 222.1L504.4 195.8L507.6 200.8L510.8 208.7L514.1 224.8L517.3 222.8L520.6 184.6L523.8 256.4L527 214.8L530.3 229.2L533.5 216.8L536.8 185.7L540 230.7L543.2 206.9L546.5 186.9L549.7 217.8L553 239L556.2 234.7L559.5 232.1L562.7 206.8L565.9 211.1L569.2 217.8L572.4 183.3L575.7 244.9L578.9 222.4L582.1 180.8L585.4 261.6L588.6 276.5L591.9 179.4L595.1 205.2L598.3 191.6L601.6 238.7L604.8 172L608.1 230.6L611.3 231L614.5 248.3L617.8 153.2L621 186.9L624.3 204.9L627.5 243.8L630.7 219.2L634 232L637.2 220.2L640.5 184.5L643.7 203.7L647 198.1L650.2 197.4L653.4 189L656.7 234.6L659.9 213.4L663.2 139.1L666.4 228.9L669.6 183.6L672.9 153.3L676.1 233.1L679.4 199.3L682.6 203.8L685.8 192.4L689.1 199.2L692.3 144.5L695.6 215.6"/>
<path d="M420.1 209.2L423.3 211.8L426.6 209.6L429.8 180.2L433.1 174.3L436.3 211.3L439.5 255.1L442.8 192.3L446 190.2L449.3 211L452.5 190.7L455.7 250.2L459 223.9L462.2 287.2L465.5 215.2L468.7 282.3L472 198.5L475.2 217.2L478.4 182L481.7 205.9L484.9 198.4L488.2 226.9L491.4 254.8L494.6 194.8L497.9 169.9L501.1 209L504.4 196.5L507.6 197.3L510.8 235.7L514.1 246.6L517.3 194.8L520.6 198.7L523.8 140L527 196.3L530.3 246L533.5 191L536.8 242.6L540 244.8L543.2 239.1L546.5 232.9L549.7 212.9L553 249.1L556.2 250.7L559.5 238.8L562.7 225.1L565.9 263.7L569.2 271.3L572.4 207.9L575.7 248L578.9 223.5L582.1 294.1L585.4 206.9L588.6 199.4L591.9 192.1L595.1 241.5L598.3 187.2L601.6 237.2L604.8 198.7L608.1 260.2L611.3 271.3L614.5 251.9L617.8 153.5L621 169.1L624.3 135.1L627.5 299.9L630.7 201.5L634 198.7L637.2 209.7L640.5 231.9L643.7 199.6L647 214L650.2 208.6L653.4 180L656.7 271.1L659.9 261.7L663.2 197.2L666.4 204.3L669.6 262.4L672.9 276.5L676.1 199.3L679.4 222L682.6 183.5L685.8 209.8L689.1 129.1L692.3 134.2L695.6 209.2"/>
<path d="M420.1 227.7L423.3 227.1L426.6 217.7L429.8 230.4L433.1 221.7L436.3 213.8L439.5 231.6L442.8 195.1L446 256.1L449.3 183.1L452.5 199.1L455.7 241.1L459 202.1L462.2 242L465.5 258.6L468.7 240.6L472 206L475.2 274.6L478.4 230.7L481.7 192.3L484.9 275.4L488.2 216.9L491.4 234.9L494.6 234.5L497.9 199.7L501.1 241.2L504.4 168.5L507.6 185.9L510.8 200L514.1 283.7L517.3 237.3L520.6 259.5L523.8 205L527 234.7L530.3 160.8L533.5 212.8L536.8 230.7L540 209.6L543.2 164.4L546.5 167.7L549.7 238.3L553 262.3L556.2 208.3L559.5 281.2L562.7 190.4L565.9 244.3L569.2 235.3L572.4 261.9L575.7 179.3L578.9 255.4L582.1 224.8L585.4 192.5L588.6 205.4L591.9 213.4L595.1 222.7L598.3 193.9L601.6 192.3L604.8 217.4L608.1 217L611.3 237.9L614.5 245.2L617.8 156.2L621 208.8L624.3 220.9L627.5 217.6L630.7 187.5L634 233.6L637.2 263.1L640.5 207.2L643.7 185.9L647 236.4L650.2 209L653.4 221L656.7 219.9L659.9 192.4L663.2 195.1L666.4 186.3L669.6 144.2L672.9 231L676.1 205.8L679.4 199.5L682.6 237.7L685.8 193.4L689.1 238.1L692.3 224.6L695.6 184.9"/>
<path d="M420.1 195.4L423.3 228.3L426.6 220.9L429.8 242.1L433.1 166.7L436.3 213.6L439.5 223.9L442.8 223.8L446 212.9L449.3 219.6L452.5 141L455.7 201.1L459 191.3L462.2 164.1L465.5 213.4L468.7 201.7L472 182.8L475.2 170.4L478.4 223.9L481.7 143.8L484.9 205.5L488.2 175.6L491.4 216.7L494.6 264.8L497.9 245.1L501.1 207.8L504.4 250.6L507.6 272.6L510.8 241L514.1 270.9L517.3 222.4L520.6 240.1L523.8 212.7L527 203.7L530.3 220.6L533.5 195L536.8 211.1L540 295L543.2 242.6L546.5 207.1L549.7 271L553 263.2L556.2 185.5L559.5 207L562.7 282L565.9 225.1L569.2 229.2L572.4 210.4L575.7 188.4L578.9 258.3L582.1 195.3L585.4 233.3L588.6 277.1L591.9 235.5L595.1 205.6L598.3 237.6L601.6 234.2L604.8 199.5L608.1 225.4L611.3 184.9L614.5 163.3L617.8 193L621 158.9L624.3 193.7L627.5 211.4L630.7 223.9L634 270.1L637.2 180L640.5 198.1L643.7 194.6L647 181.1L650.2 273.4L653.4 193.6L656.7 204.9L659.9 199.8L663.2 274L666.4 197.7L669.6 178.2L672.9 237.1L676.1 176.4L679.4 138.8L682.6 230.5L685.8 227.6L689.1 159.1L692.3 160.8L695.6 191.6"/>
<path d="M420.1 202.6L423.3 167.2L426.6 177.3L429.8 266.8L433.1 245.9L436.3 184.6L439.5 210.7L442.8 214.9L446 197.8L449.3 207.2L452.5 264.6L455.7 189.9L459 186.5L462.2 206.3L465.5 188.1L468.7 198.4L472 201.9L475.2 179.9L478.4 251.2L481.7 196.5L484.9 249.7L488.2 181.3L491.4 183.4L494.6 209.1L497.9 202.4L501.1 235.2L504.4 222.1L507.6 285.8L510.8 119.2L514.1 178L517.3 211.9L520.6 211L523.8 211.3L527 297.4L530.3 150.1L533.5 237.6L536.8 204.7L540 221.4L543.2 252.6L546.5 208.5L549.7 238.7L553 256.4L556.2 253.6L559.5 169.2L562.7 203.9L565.9 180.4L569.2 197.1L572.4 217.4L575.7 286.6L578.9 199.1L582.1 207.3L585.4 207.8L588.6 263.3L591.9 198.4L595.1 223.6L598.3 241.1L601.6 231.7L604.8 149.3L608.1 174.5L611.3 239.3L614.5 158.4L617.8 198.8L621 161.7L624.3 221.4L627.5 209.9L630.7 167.6L634 198.4L637.2 171.5L640.5 191L643.7 245.3L647 215.8L650.2 214.6L653.4 262.9L656.7 211.3L659.9 244.1L663.2 203.8L666.4 211.6L669.6 186.4L672.9 168.5L676.1 161.6L679.4 169.7L682.6 207L685.8 206.9L689.1 172.9L692.3 233.9L695.6 170.5"/>
<path d="M420.1 216.4L423.3 168.1L426.6 184.8L429.8 233.9L433.1 222.1L436.3 194.7L439.5 252.6L442.8 207L446 207.6L449.3 240.1L452.5 219.9L455.7 196.7L459 175.9L462.2 247.3L465.5 136.3L468.7 191.2L472 161.3L475.2 190.2L478.4 237.2L481.7 204.5L484.9 192.1L488.2 203.3L491.4 272.5L494.6 243.9L497.9 215.7L501.1 187.1L504.4 186.8L507.6 219.1L510.8 198.4L514.1 204L517.3 181L520.6 175.7L523.8 179.1L527 218.6L530.3 188.9L533.5 296.4L536.8 228.3L540 241.2L543.2 248.5L546.5 178.8L549.7 177.6L553 206.7L556.2 233L559.5 242.5L562.7 276.7L565.9 264.9L569.2 255.1L572.4 260.7L575.7 228L578.9 247.6L582.1 209.8L585.4 202.6L588.6 246.8L591.9 169.1L595.1 257L598.3 277.4L601.6 202L604.8 237.9L608.1 223L611.3 192.6L614.5 227.9L617.8 227.6L621 244.8L624.3 204.1L627.5 221.4L630.7 201.7L634 244.3L637.2 206.1L640.5 241.6L643.7 190.4L647 216.9L650.2 183.4L653.4 196.9L656.7 250.2L659.9 201.8L663.2 194.5L666.4 232.9L669.6 179.4L672.9 262.2L676.1 175.5L679.4 191.8L682.6 266.7L685.8 149.4L689.1 261L692.3 212.6L695.6 212"/>
<path d="M420.1 203L423.3 220.5L426.6 178.3L429.8 243.7L433.1 206.3L436.3 199.7L439.5 203.6L442.8 209.6L446 242.2L449.3 223L452.5 187.8L455.7 186L459 181.9L462.2 236.1L465.5 226.5L468.7 181.7L472 170.1L475.2 210.4L478.4 197.5L481.7 235.9L484.9 205.6L488.2 221.2L491.4 239.2L494.6 237.3L497.9 206.4L501.1 233.2L504.4 119L507.6 177.1L510.8 216.6L514.1 250L517.3 261.2L520.6 217.7L523.8 164.9L527 225.1L530.3 213.3L533.5 237.6L536.8 248.2L540 210.4L543.2 198.3L546.5 200.8L549.7 194.8L553 186.8L556.2 223L559.5 205.3L562.7 216.9L565.9 211.3L569.2 204.5L572.4 244.2L575.7 206.4L578.9 217.6L582.1 243.4L585.4 210.3L588.6 173.4L591.9 203L595.1 196.7L598.3 235.9L601.6 267.7L604.8 217.8L608.1 211.4L611.3 265.7L614.5 193.2L617.8 217.2L621 224.2L624.3 209.4L627.5 208.3L630.7 222.2L634 256.8L637.2 224.1L640.5 193.2L643.7 216.2L647 240.3L650.2 263.3L653.4 241.1L656.7 217.1L659.9 248.1L663.2 222.1L666.4 210.4L669.6 180.8L672.9 198.7L676.1 225.2L679.4 169.3L682.6 146.8L685.8 212.8L689.1 156.2L692.3 159.1L695.6 186"/>
<path d="M420.1 223.6L423.3 213L426.6 217.2L429.8 224.6L433.1 207.3L436.3 191.7L439.5 133.1L442.8 250.3L446 232.1L449.3 227.4L452.5 206.2L455.7 182.8L459 223.8L462.2 205L465.5 168.4L468.7 243.5L472 173.4L475.2 196.5L478.4 267.1L481.7 192.4L484.9 211.5L488.2 239.5L491.4 210.2L494.6 159.9L497.9 195.5L501.1 205.6L504.4 156.2L507.6 254.6L510.8 216.1L514.1 230.7L517.3 220.6L520.6 228.3L523.8 201.7L527 169.2L530.3 237.6L533.5 215.5L536.8 260.2L540 186.7L543.2 221L546.5 278.3L549.7 173L553 178.6L556.2 220.1L559.5 277.5L562.7 187.9L565.9 219.9L569.2 214.1L572.4 205.9L575.7 209.7L578.9 255.8L582.1 219.1L585.4 173.7L588.6 195L591.9 216.7L595.1 167.1L598.3 192.9L601.6 200.1L604.8 147.9L608.1 271.2L611.3 169.5L614.5 212.3L617.8 199.8L621 188.7L624.3 246.4L627.5 212.6L630.7 189.6L634 242.6L637.2 220.3L640.5 177.5L643.7 160.1L647 234.7L650.2 199.8L653.4 170.3L656.7 225.3L659.9 159.6L663.2 171.1L666.4 179.3L669.6 139.8L672.9 214.9L676.1 304L679.4 217.6L682.6 202.9L685.8 186.4L689.1 195.9L692.3 202.6L695.6 209.1"/>
<path d="M420.1 213.6L423.3 210.4L426.6 203.8L429.8 223.6L433.1 238.3L436.3 248.9L439.5 200.4L442.8 195.8L446 228.1L449.3 199.4L452.5 200.1L455.7 222.4L459 220.5L462.2 249.3L465.5 172.4L468.7 247L472 201.2L475.2 230.9L478.4 174.2L481.7 212.6L484.9 188.7L488.2 263.5L491.4 183.4L494.6 238L497.9 187.4L501.1 175.8L504.4 210.5L507.6 244.4L510.8 205.9L514.1 228.9L517.3 221.5L520.6 216.6L523.8 258.2L527 213.7L530.3 246.3L533.5 183L536.8 207.3L540 252.6L543.2 205L546.5 149.4L549.7 238.2L553 233.9L556.2 207.5L559.5 230L562.7 215.3L565.9 233.4L569.2 257.7L572.4 235L575.7 217.5L578.9 206.3L582.1 213.6L585.4 200.4L588.6 247.3L591.9 186.7L595.1 194.2L598.3 227.7L601.6 226.2L604.8 220.5L608.1 204L611.3 226.5L614.5 172.9L617.8 164.5L621 172.9L624.3 224.3L627.5 258.7L630.7 205.4L634 193.6L637.2 198.8L640.5 269.9L643.7 215.6L647 214.6L650.2 192L653.4 233.3L656.7 254.6L659.9 212.2L663.2 172.5L666.4 250L669.6 201.4L672.9 255.2L676.1 166.5L679.4 197.9L682.6 203.7L685.8 147.8L689.1 205.8L692.3 218.5L695.6 190.4"/>
<path d="M420.1 246.9L423.3 219.4L426.6 189.8L429.8 233.4L433.1 190.7L436.3 209L439.5 195.5L442.8 233.7L446 195.9L449.3 196.3L452.5 147.2L455.7 202.5L459 243.1L462.2 149.1L465.5 221.8L468.7 212.2L472 166.6L475.2 199.3L478.4 244.1L481.7 218L484.9 219.8L488.2 244L491.4 203.3L494.6 230.9L497.9 176.4L501.1 184.9L504.4 248.5L507.6 255.4L510.8 239.1L514.1 168.1L517.3 209.1L520.6 194.1L523.8 276.5L527 176.2L530.3 183.2L533.5 200.9L536.8 224.8L540 207.1L543.2 211.2L546.5 222.6L549.7 216.6L553 162.7L556.2 181L559.5 279.9L562.7 228L565.9 280.3L569.2 270.2L572.4 261.7L575.7 223.8L578.9 270.8L582.1 206.7L585.4 287.8L588.6 236.8L591.9 238.3L595.1 201.9L598.3 202.2L601.6 210.4L604.8 199.8L608.1 193.5L611.3 191.4L614.5 223.3L617.8 249.4L621 275.3L624.3 239.4L627.5 214.6L630.7 240.5L634 267.1L637.2 214.9L640.5 247L643.7 224.2L647 218.8L650.2 194.9L653.4 243.2L656.7 191.8L659.9 180L663.2 209.9L666.4 241.8L669.6 234.4L672.9 227.9L676.1 191L679.4 201L682.6 233.6L685.8 267L689.1 128L692.3 240.1L695.6 204.1"/>
<path d="M420.1 233.9L423.3 195L426.6 198.6L429.8 178.1L433.1 223.8L436.3 192.3L439.5 214L442.8 172.5L446 250L449.3 234.3L452.5 178.1L455.7 227.8L459 202.2L462.2 186.9L465.5 214.9L468.7 242.8L472 267.4L475.2 222.6L478.4 253.6L481.7 242.4L484.9 232.7L488.2 242.3L491.4 175.9L494.6 194.1L497.9 262.4L501.1 173.5L504.4 180.2L507.6 274.4L510.8 181.8L514.1 217.4L517.3 226.1L520.6 213L523.8 246.8L527 244.2L530.3 201.2L533.5 275L536.8 191.8L540 212L543.2 216.5L546.5 220.3L549.7 184.3L553 225L556.2 154L559.5 213.5L562.7 200.1L565.9 201.5L569.2 220.4L572.4 232.9L575.7 198.7L578.9 221L582.1 174.8L585.4 203.7L588.6 245.1L591.9 196.9L595.1 201.4L598.3 215L601.6 239.9L604.8 222.9L608.1 210.3L611.3 190.1L614.5 220.6L617.8 125L621 221.9L624.3 189.1L627.5 233.4L630.7 214.4L634 250.4L637.2 187.2L640.5 153.3L643.7 207.3L647 195.2L650.2 203.3L653.4 252.2L656.7 184.6L659.9 224.5L663.2 221.1L666.4 238.8L669.6 142.4L672.9 200L676.1 174.7L679.4 192.9L682.6 169.1L685.8 186.7L689.1 229.4L692.3 250L695.6 213.3"/>
<path d="M420.1 195.1L423.3 250.2L426.6 176.6L429.8 197L433.1 245.5L436.3 198.8L439.5 237L442.8 203.4L446 174.5L449.3 214.5L452.5 191.9L455.7 263.8L459 266.9L462.2 256.8L465.5 179.1L468.7 271.2L472 224.8L475.2 225.6L478.4 218.2L481.7 201L484.9 210.9L488.2 234.6L491.4 259.8L494.6 219.5L497.9 211.3L501.1 194.7L504.4 191.7L507.6 261.6L510.8 229.2L514.1 216.9L517.3 166.9L520.6 167.6L523.8 234.8L527 233L530.3 253.2L533.5 222.3L536.8 193.6L540 172.9L543.2 191.5L546.5 144.7L549.7 222.7L553 229.5L556.2 258.4L559.5 173.3L562.7 183.6L565.9 239.3L569.2 231.5L572.4 166.3L575.7 198.5L578.9 222L582.1 205.8L585.4 225.3L588.6 215.7L591.9 199.8L595.1 221.6L598.3 212.7L601.6 250.4L604.8 169.1L608.1 207.8L611.3 198.7L614.5 205.5L617.8 219.6L621 228.6L624.3 148.6L627.5 249.6L630.7 232.8L634 224.2L637.2 207.3L640.5 239.6L643.7 219.4L647 157.2L650.2 186.7L653.4 207.5L656.7 199.8L659.9 190.4L663.2 212.4L666.4 172.9L669.6 177.6L672.9 166.7L676.1 193.5L679.4 213.2L682.6 166.1L685.8 208L689.1 184.1L692.3 240.6L695.6 126.7"/>
<path d="M420.1 229.5L423.3 247.2L426.6 201L429.8 175.6L433.1 184.8L436.3 232.8L439.5 198.7L442.8 244.4L446 208.7L449.3 191.8L452.5 194.5L455.7 223.6L459 241.5L462.2 184.3L465.5 173.9L468.7 177.8L472 230.2L475.2 267.9L478.4 197.1L481.7 238.1L484.9 195.6L488.2 236.7L491.4 168.3L494.6 220.8L497.9 173.3L501.1 183.9L504.4 211.5L507.6 203.9L510.8 205.8L514.1 226.7L517.3 220.4L520.6 265.9L523.8 238L527 188.8L530.3 216.4L533.5 200.5L536.8 200.9L540 279.2L543.2 195.6L546.5 252.1L549.7 262.1L553 302.6L556.2 215.8L559.5 234.5L562.7 234.3L565.9 210.2L569.2 278.8L572.4 287.4L575.7 153.1L578.9 210.6L582.1 256L585.4 184.5L588.6 195.5L591.9 217.7L595.1 210.1L598.3 210.4L601.6 210.5L604.8 269.7L608.1 147.8L611.3 204.2L614.5 180.1L617.8 215.2L621 196.1L624.3 226.3L627.5 214L630.7 290.8L634 170.1L637.2 191.9L640.5 238.6L643.7 196L647 214.5L650.2 161.9L653.4 238.4L656.7 207.2L659.9 222.1L663.2 167L666.4 189.7L669.6 174.6L672.9 249.3L676.1 143.5L679.4 213.5L682.6 200.8L685.8 237.2L689.1 209.2L692.3 166.1L695.6 208.1"/>
<path d="M420.1 179.6L423.3 245.2L426.6 208.7L429.8 186L433.1 195.5L436.3 234.3L439.5 165.5L442.8 266.1L446 186.6L449.3 257L452.5 212.5L455.7 270.5L459 173.4L462.2 235.8L465.5 206.2L468.7 192.8L472 242L475.2 202.5L478.4 190.2L481.7 209.8L484.9 183.7L488.2 200L491.4 209.3L494.6 236.1L497.9 207.6L501.1 185L504.4 224.6L507.6 199.2L510.8 178.4L514.1 173.5L517.3 270.2L520.6 214.1L523.8 265.2L527 183.6L530.3 186.2L533.5 271.1L536.8 204L540 215.5L543.2 210.4L546.5 179.9L549.7 245.7L553 178.1L556.2 238.8L559.5 193.2L562.7 308.2L565.9 242.6L569.2 256.4L572.4 173.2L575.7 229.5L578.9 199.8L582.1 190.6L585.4 188.2L588.6 240.9L591.9 216.6L595.1 194.4L598.3 196.6L601.6 194.3L604.8 194.3L608.1 205.8L611.3 183.9L614.5 185.3L617.8 140.9L621 206.8L624.3 228.1L627.5 197.9L630.7 260.3L634 111L637.2 205.8L640.5 246.7L643.7 213.8L647 185.2L650.2 217L653.4 202.7L656.7 246L659.9 227.8L663.2 186.4L666.4 221.8L669.6 255.2L672.9 231.7L676.1 222L679.4 193.9L682.6 174.9L685.8 173.7L689.1 233L692.3 164.2L695.6 204.3"/>
<path d="M420.1 281.6L423.3 164.2L426.6 222.9L429.8 178.4L433.1 206.2L436.3 232L439.5 185.4L442.8 172.1L446 195.3L449.3 214.4L452.5 195.4L455.7 180.3L459 231L462.2 174.3L465.5 165.5L468.7 214.5L472 284.3L475.2 194.5L478.4 209.1L481.7 186.1L484.9 188.6L488.2 173.3L491.4 219.4L494.6 181.2L497.9 187.2L501.1 237.8L504.4 157.5L507.6 239.9L510.8 201.7L514.1 182.3L517.3 212.5L520.6 209.4L523.8 223.2L527 206.4L530.3 278.5L533.5 249.7L536.8 248L540 186.1L543.2 207.3L546.5 249L549.7 232.4L553 215L556.2 212.3L559.5 259.3L562.7 168L565.9 194.6L569.2 180.7L572.4 261.1L575.7 178.5L578.9 211.3L582.1 260.9L585.4 205L588.6 224.3L591.9 217.2L595.1 232L598.3 286.6L601.6 179.9L604.8 209.8L608.1 268.6L611.3 295.7L614.5 206.9L617.8 252.4L621 230.7L624.3 231.3L627.5 172L630.7 168.8L634 212.9L637.2 202.4L640.5 207.5L643.7 172.5L647 256.5L650.2 201.3L653.4 303.6L656.7 204.3L659.9 216.3L663.2 218.5L666.4 195.9L669.6 170.7L672.9 179.7L676.1 195.8L679.4 185.7L682.6 257.8L685.8 181.7L689.1 226L692.3 223.4L695.6 198.6"/>
</g>
<g fill="none" stroke="rgb(242,204,153)" stroke-opacity="0.5" stroke-width="1.25" stroke-linejoin="round">
<path d="M698 152.8L701.2 207.6L704.5 228.4L707.8 195.8L711 195.7L714.3 133.2L717.5 165.2L720.8 183.5L724 194.7L727.3 221L730.6 190.2L733.8 202.3L737.1 167L740.3 213.1L743.6 211.3L746.8 188.6L750.1 219.1L753.3 181.9L756.6 181.7L759.9 184.7L763.1 249.2L766.4 151.1L769.6 202.9L772.9 184.9L776.1 204.4L779.4 161.9L782.7 224.4L785.9 217.4L789.2 199.4L792.4 189.4L795.7 211.6L798.9 227.4L802.2 172.3L805.5 242.4L808.7 199.6L812 231.3L815.2 196L818.5 257.5L821.7 223.9L825 263.7L828.3 212.1L831.5 215.5L834.8 257.5L838 241.9L841.3 230.2L844.5 262L847.8 243.7L851 234.1L854.3 205.6L857.6 195.8L860.8 266.1L864.1 269.8L867.3 239.7L870.6 273.4L873.8 260.7L877.1 270.1L880.4 291.6L883.6 237.7L886.9 287.1L890.1 297L893.4 279.1L896.6 288.9L899.9 262.5L903.2 298.8L906.4 316.7L909.7 330.7L912.9 291.4L916.2 337.7L919.4 325.1L922.7 341.7L926 326.8L929.2 351L932.5 341.7"/>
<path d="M698 267.7L701.2 183.5L704.5 236.3L707.8 191.3L711 152.5L714.3 213.4L717.5 237L720.8 213.9L724 214.5L727.3 176.3L730.6 209.6L733.8 159.4L737.1 249.9L740.3 241.5L743.6 162.8L746.8 182.3L750.1 159.1L753.3 170.9L756.6 184.3L759.9 162.2L763.1 183.9L766.4 212.5L769.6 191.3L772.9 214.1L776.1 198.3L779.4 203.6L782.7 174.3L785.9 225.3L789.2 178.5L792.4 191.9L795.7 179.4L798.9 217.1L802.2 184.6L805.5 223L808.7 254.1L812 220.2L815.2 164L818.5 235.4L821.7 222.4L825 237.7L828.3 235.5L831.5 256.3L834.8 255.4L838 225.2L841.3 196.3L844.5 232.5L847.8 251.9L851 201.4L854.3 250.3L857.6 206.4L860.8 277.7L864.1 301L867.3 281L870.6 251.2L873.8 285.1L877.1 302.6L880.4 309.7L883.6 308.9L886.9 306.3L890.1 261.1L893.4 281.6L896.6 297.5L899.9 292.3L903.2 245.6L906.4 294.7L909.7 289.9L912.9 316.4L916.2 324.3L919.4 276L922.7 299.9L926 333.2L929.2 300.2L932.5 334.4"/>
<path d="M698 161.8L701.2 171.4L704.5 228.2L707.8 188L711 180.2L714.3 247.1L717.5 189.5L720.8 189.5L724 191L727.3 292L730.6 219.6L733.8 224.4L737.1 187L740.3 221L743.6 224.6L746.8 160.7L750.1 205.5L753.3 237.9L756.6 247.2L759.9 200.9L763.1 259.5L766.4 177.6L769.6 227.2L772.9 209.9L776.1 175.8L779.4 227.8L782.7 174.6L785.9 185.8L789.2 205.3L792.4 171.8L795.7 240.9L798.9 194.5L802.2 180.7L805.5 216.2L808.7 208.2L812 187.4L815.2 203.9L818.5 233.9L821.7 238.2L825 189L828.3 249L831.5 252.8L834.8 259.1L838 217L841.3 207.1L844.5 232.9L847.8 220.8L851 236.8L854.3 234.3L857.6 240L860.8 240.9L864.1 258.1L867.3 264.4L870.6 255.3L873.8 254L877.1 309.7L880.4 291.6L883.6 285.9L886.9 259L890.1 300.6L893.4 280.5L896.6 301.2L899.9 297.8L903.2 365.4L906.4 300.2L909.7 282.4L912.9 342.4L916.2 348.7L919.4 357.1L922.7 247.6L926 301.3L929.2 307.3L932.5 286.3"/>
<path d="M698 191.7L701.2 214.5L704.5 234.8L707.8 109.6L711 197.5L714.3 247.7L717.5 206.6L720.8 108.5L724 180.8L727.3 177.4L730.6 210.1L733.8 185.8L737.1 187.3L740.3 235.7L743.6 169.5L746.8 153.9L750.1 198.8L753.3 208.3L756.6 191.9L759.9 192.3L763.1 179L766.4 158.5L769.6 177.1L772.9 165.6L776.1 233.3L779.4 192.8L782.7 241.3L785.9 196.6L789.2 182.4L792.4 204.1L795.7 214.4L798.9 236.1L802.2 159.3L805.5 197.5L808.7 215.9L812 192.9L815.2 217L818.5 204L821.7 250.1L825 251.1L828.3 179L831.5 194.7L834.8 213.9L838 223.4L841.3 217.9L844.5 221.7L847.8 246.5L851 260.2L854.3 247.4L857.6 237.5L860.8 250.3L864.1 236.7L867.3 278L870.6 279.1L873.8 243.4L877.1 303.8L880.4 264.9L883.6 292L886.9 276.5L890.1 277.7L893.4 300.9L896.6 259.2L899.9 282.8L903.2 262.7L906.4 311.1L909.7 300.5L912.9 299.5L916.2 297.4L919.4 333.5L922.7 327.5L926 319.7L929.2 315.4L932.5 390.8"/>
<path d="M698 235.1L701.2 156.9L704.5 237L707.8 207.2L711 204.8L714.3 210.4L717.5 157.1L720.8 265.8L724 252.3L727.3 199.5L730.6 199.4L733.8 201.7L737.1 177.1L740.3 210.7L743.6 189.3L746.8 161.8L750.1 178L753.3 172L756.6 178.2L759.9 183L763.1 211.6L766.4 182.4L769.6 154L772.9 231.4L776.1 185.5L779.4 236.7L782.7 211.1L785.9 213.9L789.2 184.1L792.4 201.6L795.7 199.9L798.9 201.6L802.2 219.8L805.5 198.3L808.7 226.1L812 177.5L815.2 189.4L818.5 220.8L821.7 228.9L825 246.6L828.3 261.4L831.5 238.6L834.8 248L838 230.7L841.3 224.9L844.5 230.8L847.8 235.4L851 228.2L854.3 242.1L857.6 262.9L860.8 261.4L864.1 282.5L867.3 248L870.6 251.2L873.8 274.6L877.1 249L880.4 246.3L883.6 286.8L886.9 269.8L890.1 304L893.4 284.2L896.6 272.1L899.9 263L903.2 325.5L906.4 294.6L909.7 282.7L912.9 267.5L916.2 277.2L919.4 301.8L922.7 356L926 298.5L929.2 336.9L932.5 338.9"/>
<path d="M698 83.6L701.2 150.8L704.5 221.8L707.8 127.3L711 228.5L714.3 194.9L717.5 145.8L720.8 244.1L724 182.8L727.3 243.5L730.6 202.5L733.8 173.2L737.1 226.4L740.3 244.6L743.6 224.7L746.8 156.3L750.1 206.7L753.3 155.4L756.6 176.2L759.9 227.1L763.1 154.2L766.4 258.8L769.6 154.1L772.9 157.2L776.1 218.6L779.4 192L782.7 199.1L785.9 174.4L789.2 221.9L792.4 202.9L795.7 205.3L798.9 181.4L802.2 170.2L805.5 205.4L808.7 152.7L812 193.3L815.2 227.2L818.5 224.9L821.7 205.6L825 162.5L828.3 235.2L831.5 246.6L834.8 230.5L838 251.8L841.3 242.7L844.5 194.9L847.8 225.9L851 227.6L854.3 279.9L857.6 267.4L860.8 250.1L864.1 266.5L867.3 277.4L870.6 241.4L873.8 258L877.1 263.6L880.4 254.7L883.6 262L886.9 280.2L890.1 249.9L893.4 252.7L896.6 301.4L899.9 328.4L903.2 342.6L906.4 249.2L909.7 314.7L912.9 283L916.2 294.5L919.4 305L922.7 328.6L926 340.6L929.2 254.2L932.5 312.1"/>
<path d="M698 218L701.2 191.5L704.5 145.8L707.8 157.5L711 167.8L714.3 225.4L717.5 249L720.8 153.5L724 201.1L727.3 186.4L730.6 212.8L733.8 187L737.1 160.6L740.3 173L743.6 168.5L746.8 230.2L750.1 167.3L753.3 202.2L756.6 168.5L759.9 170.8L763.1 197.7L766.4 175.3L769.6 246.7L772.9 225.5L776.1 168.3L779.4 209.8L782.7 241L785.9 166.5L789.2 192.3L792.4 233.9L795.7 186.2L798.9 216.1L802.2 203.7L805.5 209.3L808.7 179L812 206.3L815.2 201.6L818.5 249.6L821.7 229.1L825 222L828.3 221.6L831.5 241.5L834.8 193.9L838 200.9L841.3 199L844.5 212.9L847.8 194.4L851 249.1L854.3 232.1L857.6 270.6L860.8 244L864.1 243.9L867.3 265.5L870.6 266.2L873.8 254.6L877.1 278.7L880.4 294.2L883.6 258.2L886.9 306.2L890.1 274.3L893.4 301.4L896.6 278.4L899.9 276.1L903.2 297.3L906.4 264.7L909.7 260.8L912.9 303.4L916.2 301.5L919.4 278.8L922.7 380.4L926 334.5L929.2 303.6L932.5 345.5"/>
<path d="M698 198.7L701.2 174.8L704.5 186.2L707.8 130.5L711 197.6L714.3 252.2L717.5 228.8L720.8 216.9L724 167.9L727.3 162.9L730.6 221.4L733.8 201.7L737.1 186.3L740.3 181.9L743.6 213.6L746.8 205.7L750.1 174.8L753.3 183L756.6 145.7L759.9 156.8L763.1 206.6L766.4 178L769.6 170.8L772.9 197.5L776.1 230.8L779.4 174.4L782.7 193.5L785.9 190.4L789.2 264.2L792.4 221.9L795.7 213L798.9 165.6L802.2 223.9L805.5 218.5L808.7 198.7L812 190.2L815.2 201.1L818.5 170.3L821.7 205.3L825 209L828.3 201.9L831.5 218.7L834.8 194.4L838 247.3L841.3 215.1L844.5 204.7L847.8 247.2L851 249.8L854.3 231.4L857.6 212.5L860.8 245L864.1 262.7L867.3 270.1L870.6 277.8L873.8 281.3L877.1 232L880.4 265.5L883.6 226.6L886.9 297.4L890.1 288.6L893.4 303.2L896.6 280.1L899.9 285.2L903.2 275.4L906.4 222.1L909.7 297.4L912.9 378.8L916.2 345.5L919.4 303.8L922.7 324.9L926 335.4L929.2 307.8L932.5 328.9"/>
<path d="M698 191.8L701.2 171.5L704.5 207.8L707.8 225.2L711 216.9L714.3 201L717.5 188.1L720.8 207L724 169.6L727.3 176L730.6 233.1L733.8 182.8L737.1 154.2L740.3 215.6L743.6 207.3L746.8 220.1L750.1 185.4L753.3 218.5L756.6 188.1L759.9 162.1L763.1 186.9L766.4 197.6L769.6 165.8L772.9 186.2L776.1 204.9L779.4 186L782.7 204.6L785.9 197L789.2 183.1L792.4 205.5L795.7 221.4L798.9 152.8L802.2 190.2L805.5 225.3L808.7 215L812 165.1L815.2 218L818.5 241.5L821.7 235.3L825 238L828.3 220.8L831.5 228.8L834.8 205.4L838 224.1L841.3 271.3L844.5 231.1L847.8 211.9L851 250.8L854.3 200.5L857.6 295.6L860.8 262.7L864.1 248.1L867.3 249.1L870.6 238L873.8 265.5L877.1 267.5L880.4 230.9L883.6 294.9L886.9 267.6L890.1 256.2L893.4 305.4L896.6 301.5L899.9 274L903.2 275.6L906.4 326.6L909.7 295.2L912.9 313L916.2 351.2L919.4 279.7L922.7 276.2L926 300.9L929.2 311.4L932.5 333.4"/>
<path d="M698 216.5L701.2 177.3L704.5 251.4L707.8 196.4L711 136.4L714.3 195.2L717.5 218.8L720.8 222.2L724 168.1L727.3 194.8L730.6 265.2L733.8 201.2L737.1 170L740.3 152.4L743.6 178L746.8 202L750.1 161.4L753.3 227.6L756.6 174.7L759.9 141.6L763.1 212.4L766.4 195.1L769.6 191.6L772.9 227.4L776.1 186.1L779.4 218L782.7 192.1L785.9 242L789.2 206.2L792.4 200.7L795.7 224.7L798.9 202L802.2 220.1L805.5 202.9L808.7 221.8L812 212.9L815.2 202.8L818.5 224.8L821.7 228.5L825 199.5L828.3 218.9L831.5 193.3L834.8 234.2L838 244.2L841.3 275.9L844.5 240L847.8 257.1L851 274.4L854.3 262.7L857.6 204.9L860.8 240.2L864.1 263.7L867.3 265.9L870.6 262.5L873.8 245.1L877.1 227.7L880.4 275.9L883.6 300.7L886.9 266.7L890.1 296.8L893.4 270.5L896.6 280.1L899.9 275.7L903.2 316.2L906.4 274.6L909.7 311.5L912.9 335.2L916.2 312.2L919.4 281.2L922.7 332L926 321.7L929.2 292.6L932.5 328.8"/>
<path d="M698 177.3L701.2 211.4L704.5 184.1L707.8 194L711 214.6L714.3 142.5L717.5 228L720.8 190L724 161.2L727.3 202.6L730.6 230.2L733.8 178.5L737.1 181.1L740.3 234.6L743.6 235.4L746.8 248.2L750.1 193.3L753.3 165.1L756.6 170L759.9 184.4L763.1 169.3L766.4 206.1L769.6 231.2L772.9 167L776.1 239.9L779.4 177.5L782.7 188.5L785.9 166.8L789.2 224.5L792.4 198.3L795.7 211L798.9 135.2L802.2 195.3L805.5 215.8L808.7 143.5L812 257.4L815.2 222.6L818.5 236.9L821.7 211.1L825 243.7L828.3 254.4L831.5 286.6L834.8 210.4L838 271.9L841.3 200.1L844.5 237.9L847.8 226L851 238.1L854.3 205.8L857.6 239.5L860.8 225.6L864.1 252.4L867.3 266.3L870.6 262.4L873.8 263.6L877.1 303.7L880.4 276.4L883.6 288.4L886.9 312.5L890.1 282.7L893.4 287.3L896.6 303L899.9 284.9L903.2 329.7L906.4 283.6L909.7 303.6L912.9 307L916.2 306L919.4 316.4L922.7 308.7L926 260.9L929.2 412L932.5 323.1"/>
<path d="M698 212L701.2 161.4L704.5 218.8L707.8 154.6L711 243L714.3 194.9L717.5 186.3L720.8 108.9L724 126.1L727.3 185.3L730.6 182.3L733.8 180.7L737.1 182.5L740.3 223.3L743.6 180L746.8 181.4L750.1 171.9L753.3 161.7L756.6 205.6L759.9 181.6L763.1 185.5L766.4 202.3L769.6 199.5L772.9 214.8L776.1 221L779.4 167.5L782.7 186L785.9 225.2L789.2 196.9L792.4 215.9L795.7 189.1L798.9 146L802.2 157.3L805.5 192.4L808.7 197.2L812 266.8L815.2 232.9L818.5 228.1L821.7 239.1L825 188.2L828.3 227.2L831.5 227.5L834.8 275.9L838 211.7L841.3 192L844.5 235.9L847.8 230.1L851 243.8L854.3 252.1L857.6 249.3L860.8 237.4L864.1 247.1L867.3 314.9L870.6 247.1L873.8 278.1L877.1 247.7L880.4 230.4L883.6 295.8L886.9 283.9L890.1 318.4L893.4 312.5L896.6 292.7L899.9 274L903.2 349.6L906.4 303.2L909.7 371.9L912.9 333.5L916.2 344.1L919.4 338.3L922.7 339.6L926 326.4L929.2 408.8L932.5 313.8"/>
<path d="M698 147L701.2 207.9L704.5 185.2L707.8 228.6L711 196.6L714.3 240.8L717.5 207.3L720.8 173.3L724 186.2L727.3 225.9L730.6 188L733.8 180.1L737.1 197.1L740.3 210.1L743.6 231.6L746.8 209.9L750.1 221.7L753.3 190.8L756.6 251.3L759.9 257.4L763.1 183.5L766.4 206.2L769.6 199.9L772.9 207.8L776.1 199L779.4 187.5L782.7 178.1L785.9 193.1L789.2 211.4L792.4 230.4L795.7 228.7L798.9 198.7L802.2 198.1L805.5 177.8L808.7 227.5L812 217.8L815.2 233.3L818.5 233L821.7 234.1L825 224.5L828.3 222.8L831.5 211.5L834.8 221.9L838 238.6L841.3 275.3L844.5 228.3L847.8 242.1L851 316.6L854.3 251.5L857.6 240.5L860.8 253.7L864.1 253.2L867.3 220.1L870.6 282.3L873.8 228.6L877.1 258.4L880.4 259.4L883.6 285.1L886.9 274.1L890.1 273.4L893.4 264.2L896.6 291.1L899.9 282.4L903.2 276.5L906.4 264.7L909.7 285.4L912.9 313.4L916.2 270.7L919.4 318.7L922.7 322.6L926 361.6L929.2 309.5L932.5 304.6"/>
<path d="M698 182.1L701.2 179L704.5 120.6L707.8 227.2L711 201.6L714.3 200.2L717.5 173.1L720.8 199L724 179.9L727.3 244.7L730.6 218.6L733.8 237.9L737.1 161.1L740.3 169.8L743.6 178.1L746.8 174.1L750.1 235.5L753.3 199.2L756.6 165.6L759.9 184.7L763.1 243.1L766.4 185.4L769.6 212.9L772.9 149L776.1 186.4L779.4 195.2L782.7 198.3L785.9 199.8L789.2 213.9L792.4 227.4L795.7 167.2L798.9 204.4L802.2 225L805.5 212.9L808.7 233L812 207.4L815.2 204.3L818.5 192.1L821.7 237.3L825 193.7L828.3 215L831.5 227.2L834.8 244.2L838 218.5L841.3 201.2L844.5 245.2L847.8 208L851 224L854.3 201.9L857.6 247L860.8 251.5L864.1 216.5L867.3 252L870.6 270.7L873.8 248.1L877.1 230L880.4 262.3L883.6 284.4L886.9 234L890.1 301.6L893.4 278.7L896.6 304.9L899.9 262L903.2 316L906.4 303.7L909.7 326.3L912.9 308L916.2 338.2L919.4 307.3L922.7 305.1L926 294.6L929.2 281.7L932.5 333.1"/>
<path d="M698 172.9L701.2 185.4L704.5 186.9L707.8 198.5L711 193.9L714.3 177.4L717.5 217.8L720.8 250.7L724 161.8L727.3 183.6L730.6 213L733.8 174.9L737.1 223.5L740.3 174.2L743.6 155.8L746.8 164.4L750.1 219.4L753.3 134.3L756.6 197L759.9 134.5L763.1 213.5L766.4 203.7L769.6 214.1L772.9 248.8L776.1 199.6L779.4 229.5L782.7 220.9L785.9 227.5L789.2 188.4L792.4 228.6L795.7 203.8L798.9 241.3L802.2 233.4L805.5 211.9L808.7 223.2L812 226.3L815.2 222.9L818.5 275.8L821.7 201.8L825 195.7L828.3 199.4L831.5 226.7L834.8 233.7L838 243.7L841.3 247L844.5 242.2L847.8 240.1L851 224.2L854.3 272.4L857.6 280.2L860.8 251.1L864.1 276.3L867.3 248.6L870.6 263L873.8 271.1L877.1 293.4L880.4 238.6L883.6 277.6L886.9 303.8L890.1 295.5L893.4 304.2L896.6 228.1L899.9 272.3L903.2 286.5L906.4 282L909.7 250L912.9 343.1L916.2 323.3L919.4 264.4L922.7 309.3L926 330.9L929.2 362.7L932.5 358"/>
<path d="M698 158.2L701.2 174.4L704.5 208.1L707.8 224.7L711 184.6L714.3 181.1L717.5 217.7L720.8 195.7L724 233L727.3 215L730.6 231L733.8 144.1L737.1 160L740.3 154.2L743.6 173.1L746.8 203.2L750.1 185.5L753.3 205.4L756.6 175.8L759.9 220.2L763.1 219L766.4 149.3L769.6 170.3L772.9 178.6L776.1 223.3L779.4 220.4L782.7 251.7L785.9 163L789.2 211.6L792.4 199.6L795.7 203.2L798.9 200.4L802.2 159.2L805.5 215.1L808.7 196.6L812 181.7L815.2 247.7L818.5 195.2L821.7 222.3L825 206.7L828.3 190.6L831.5 218.4L834.8 238L838 203.6L841.3 232.5L844.5 271.3L847.8 259.8L851 233.4L854.3 228.2L857.6 265.7L860.8 219.4L864.1 232.5L867.3 300.1L870.6 268.7L873.8 276.7L877.1 262.1L880.4 337.9L883.6 351.4L886.9 274.6L890.1 305.2L893.4 277.1L896.6 297.3L899.9 327.9L903.2 331.1L906.4 293.4L909.7 321L912.9 394.4L916.2 344L919.4 361L922.7 340.7L926 326.6L929.2 300.2L932.5 307.4"/>
<path d="M698 138.2L701.2 161.3L704.5 174.6L707.8 217.5L711 148.7L714.3 213.6L717.5 142.4L720.8 273.8L724 175.2L727.3 206L730.6 255.6L733.8 194.6L737.1 202L740.3 202.2L743.6 209.8L746.8 180.7L750.1 245L753.3 225.5L756.6 202L759.9 229.5L763.1 195.2L766.4 182.8L769.6 197.7L772.9 209.4L776.1 163.7L779.4 194.2L782.7 219.9L785.9 175.1L789.2 217L792.4 174.7L795.7 217.4L798.9 204.3L802.2 219.7L805.5 192.8L808.7 161.9L812 152L815.2 306.2L818.5 179.3L821.7 199.2L825 186.8L828.3 258.9L831.5 247.1L834.8 252.6L838 202.4L841.3 246.6L844.5 218.1L847.8 263.5L851 240L854.3 196.4L857.6 243.3L860.8 231.7L864.1 315.5L867.3 230.1L870.6 253.6L873.8 259L877.1 250.1L880.4 250.8L883.6 271.2L886.9 286.9L890.1 273.1L893.4 276.7L896.6 283.9L899.9 266.2L903.2 287.7L906.4 299.1L909.7 337.7L912.9 329.5L916.2 328L919.4 343.2L922.7 297.9L926 362.9L929.2 318.9L932.5 329.8"/>
<path d="M698 173.5L701.2 213.6L704.5 178.8L707.8 209.9L711 184.9L714.3 182.2L717.5 210L720.8 163.9L724 226.3L727.3 177.4L730.6 185.1L733.8 233.3L737.1 153.6L740.3 221.2L743.6 192L746.8 194.1L750.1 197L753.3 164.5L756.6 240.9L759.9 207.1L763.1 212.5L766.4 215.7L769.6 223.1L772.9 201.8L776.1 176.2L779.4 165.7L782.7 169.7L785.9 188.2L789.2 230.6L792.4 166.4L795.7 200.4L798.9 217.6L802.2 199.5L805.5 200.8L808.7 180.2L812 213.8L815.2 200L818.5 193.9L821.7 206.8L825 229.6L828.3 245.9L831.5 202.3L834.8 241.1L838 200.4L841.3 180.3L844.5 217.4L847.8 232.8L851 237.8L854.3 252.7L857.6 198.8L860.8 281.3L864.1 273.4L867.3 272.9L870.6 222.5L873.8 273.9L877.1 255.4L880.4 254.1L883.6 270.5L886.9 239.6L890.1 308.8L893.4 307.9L896.6 303.2L899.9 326.2L903.2 249.1L906.4 288.5L909.7 296.6L912.9 273.9L916.2 335.1L919.4 390.2L922.7 288.7L926 343.2L929.2 330.8L932.5 337.5"/>
<path d="M698 188L701.2 212.7L704.5 178.3L707.8 177.7L711 247.2L714.3 196.6L717.5 196.4L720.8 137.5L724 202.8L727.3 216.1L730.6 206.5L733.8 243.3L737.1 139.5L740.3 220L743.6 144.3L746.8 161.8L750.1 136.1L753.3 211.9L756.6 190.3L759.9 179.3L763.1 194.4L766.4 136.7L769.6 179.6L772.9 197.4L776.1 184L779.4 196.2L782.7 163.1L785.9 202.6L789.2 196.1L792.4 203L795.7 246.3L798.9 203.2L802.2 192L805.5 215.1L808.7 178.2L812 247.5L815.2 212.4L818.5 209L821.7 226.1L825 192.1L828.3 222L831.5 221.3L834.8 276.6L838 254.5L841.3 259.8L844.5 231.3L847.8 233.5L851 261.7L854.3 228L857.6 221.6L860.8 283.4L864.1 263.3L867.3 266.5L870.6 218.8L873.8 251.8L877.1 254.6L880.4 247.6L883.6 276.2L886.9 253.2L890.1 252.1L893.4 329.9L896.6 292.2L899.9 260.8L903.2 348.2L906.4 309.7L909.7 313.5L912.9 233.5L916.2 353.2L919.4 316.6L922.7 354.7L926 377.1L929.2 289.6L932.5 391.2"/>
<path d="M698 211.2L701.2 193.1L704.5 128.4L707.8 252.2L711 204.3L714.3 215.4L717.5 162L720.8 207L724 205.8L727.3 242.9L730.6 172L733.8 135.1L737.1 177.9L740.3 166.2L743.6 197.2L746.8 186.4L750.1 196.6L753.3 224.8L756.6 240.8L759.9 193.2L763.1 151.8L766.4 192.8L769.6 191.1L772.9 190.6L776.1 196.3L779.4 197.7L782.7 148.2L785.9 212.7L789.2 216.8L792.4 206.3L795.7 205L798.9 223.5L802.2 166.4L805.5 203.4L808.7 218.2L812 198.2L815.2 210.7L818.5 232.1L821.7 211L825 200.6L828.3 212.1L831.5 234.4L834.8 206.9L838 223.1L841.3 210.7L844.5 231.8L847.8 247.3L851 254.3L854.3 244.4L857.6 246.7L860.8 265.3L864.1 236L867.3 259.3L870.6 231.9L873.8 291.3L877.1 267.7L880.4 235.9L883.6 258.7L886.9 292.8L890.1 286.6L893.4 241.8L896.6 326.5L899.9 292.6L903.2 300.7L906.4 287.2L909.7 283.6L912.9 266.5L916.2 314.1L919.4 311.3L922.7 310.1L926 346.8L929.2 336.7L932.5 301"/>
<path d="M698 170.9L701.2 224.5L704.5 155.1L707.8 255.3L711 177.1L714.3 274.5L717.5 208.8L720.8 141.7L724 200.8L727.3 199L730.6 185.5L733.8 197.1L737.1 196L740.3 104.1L743.6 209.8L746.8 182.5L750.1 190.9L753.3 208.3L756.6 193.5L759.9 158.9L763.1 215.6L766.4 184.5L769.6 202.5L772.9 174.4L776.1 196.4L779.4 173.7L782.7 244L785.9 173.3L789.2 228.8L792.4 153.3L795.7 215.1L798.9 196L802.2 231.5L805.5 212.8L808.7 259.5L812 278.9L815.2 201.7L818.5 226.4L821.7 195.7L825 200.7L828.3 223.1L831.5 248L834.8 245.4L838 221.1L841.3 246L844.5 208L847.8 213.6L851 238.5L854.3 206.6L857.6 275L860.8 246.6L864.1 247.8L867.3 268.5L870.6 230L873.8 261.6L877.1 230.9L880.4 262.6L883.6 274.5L886.9 316.7L890.1 282.4L893.4 317.5L896.6 282.8L899.9 250.2L903.2 313.9L906.4 299.5L909.7 292L912.9 335.3L916.2 283.9L919.4 303.8L922.7 341L926 352.3L929.2 310.4L932.5 343.1"/>
<path d="M698 188.1L701.2 211.1L704.5 191L707.8 128.4L711 184.3L714.3 244.1L717.5 173.1L720.8 183.1L724 214.1L727.3 191.7L730.6 168.5L733.8 196.3L737.1 190.5L740.3 170.8L743.6 186.1L746.8 153.9L750.1 149.3L753.3 159.7L756.6 190.1L759.9 192.7L763.1 179.2L766.4 223.1L769.6 213.4L772.9 195.5L776.1 230.9L779.4 238.1L782.7 223.6L785.9 186.9L789.2 227.4L792.4 229.6L795.7 220.6L798.9 201.6L802.2 216L805.5 216.8L808.7 164.8L812 248.8L815.2 216.5L818.5 257.7L821.7 219.5L825 205.5L828.3 244.3L831.5 231.5L834.8 251.8L838 216.9L841.3 212.8L844.5 219.4L847.8 219.1L851 250.6L854.3 219L857.6 248.9L860.8 275.7L864.1 235L867.3 253.9L870.6 242.6L873.8 256L877.1 271.6L880.4 283.4L883.6 293.5L886.9 262.1L890.1 299.4L893.4 268L896.6 255.7L899.9 265.7L903.2 244.7L906.4 298.1L909.7 258.9L912.9 313.6L916.2 389L919.4 288.3L922.7 260.6L926 337.1L929.2 298.5L932.5 331.8"/>
<path d="M698 184.8L701.2 197.8L704.5 270.9L707.8 200L711 203.1L714.3 194.1L717.5 176.2L720.8 171.1L724 159.1L727.3 224.4L730.6 195L733.8 217.3L737.1 206.1L740.3 260L743.6 188.6L746.8 210.1L750.1 176.2L753.3 223.2L756.6 191L759.9 194.9L763.1 160.2L766.4 210.4L769.6 243L772.9 230.9L776.1 175.3L779.4 224.4L782.7 189.4L785.9 161.2L789.2 176.9L792.4 232.8L795.7 204.2L798.9 176.4L802.2 219.2L805.5 217.9L808.7 201.3L812 224.5L815.2 208L818.5 241.6L821.7 236.8L825 222.8L828.3 234.8L831.5 250.6L834.8 230.8L838 238.4L841.3 220.5L844.5 227.6L847.8 193.7L851 214.9L854.3 224.8L857.6 246.4L860.8 312L864.1 235.4L867.3 249.2L870.6 231.5L873.8 255.9L877.1 263.1L880.4 283.4L883.6 241L886.9 289.4L890.1 288.4L893.4 275.3L896.6 253.3L899.9 263.3L903.2 287.8L906.4 313.1L909.7 303.8L912.9 288.1L916.2 320.2L919.4 285.2L922.7 343.4L926 416.8L929.2 312.4L932.5 366.6"/>
<path d="M698 156.4L701.2 193.9L704.5 215.2L707.8 229.3L711 196.3L714.3 239.8L717.5 160.9L720.8 183.2L724 189.3L727.3 201.3L730.6 195.8L733.8 252.7L737.1 185.7L740.3 224.9L743.6 203.3L746.8 251.1L750.1 186.6L753.3 211.1L756.6 212L759.9 107.3L763.1 207.2L766.4 223.3L769.6 239.6L772.9 167.7L776.1 197.9L779.4 233.1L782.7 178.5L785.9 181.9L789.2 222.5L792.4 218.8L795.7 244.9L798.9 233.2L802.2 215.8L805.5 185.2L808.7 193.4L812 212.9L815.2 225.6L818.5 214.4L821.7 237.8L825 207.7L828.3 217.6L831.5 202.8L834.8 278.5L838 224L841.3 245.9L844.5 264.1L847.8 243.5L851 238.8L854.3 237L857.6 241L860.8 214.6L864.1 245.9L867.3 279.4L870.6 268.8L873.8 287.2L877.1 290.4L880.4 286.7L883.6 277.2L886.9 284.5L890.1 308.9L893.4 276.4L896.6 253.2L899.9 314.9L903.2 297L906.4 330.7L909.7 292.4L912.9 267L916.2 310.2L919.4 299.2L922.7 295.1L926 377.1L929.2 341.2L932.5 301.2"/>
<path d="M698 140.1L701.2 190.7L704.5 219.8L707.8 202.3L711 235.2L714.3 210.1L717.5 215.1L720.8 136.7L724 231.3L727.3 185.3L730.6 229.9L733.8 156.2L737.1 173.4L740.3 232.2L743.6 158.9L746.8 199.5L750.1 183.8L753.3 241.6L756.6 208.6L759.9 230.9L763.1 197.1L766.4 152L769.6 254.4L772.9 182L776.1 205.7L779.4 201.7L782.7 168.1L785.9 221.4L789.2 199L792.4 158.9L795.7 176L798.9 151L802.2 192.2L805.5 205.4L808.7 186.1L812 211.9L815.2 208.2L818.5 224.6L821.7 218.6L825 220L828.3 208.4L831.5 204.3L834.8 213.1L838 234.7L841.3 212.4L844.5 267.2L847.8 252.6L851 212.1L854.3 256.8L857.6 274.4L860.8 236.5L864.1 285.5L867.3 243.3L870.6 298.5L873.8 278.4L877.1 263.8L880.4 230.2L883.6 269.9L886.9 260.7L890.1 292.6L893.4 262.4L896.6 296.7L899.9 278.3L903.2 310.2L906.4 321.6L909.7 312.9L912.9 324L916.2 345.9L919.4 288.8L922.7 339.2L926 335.2L929.2 381.3L932.5 329.5"/>
<path d="M698 219.3L701.2 141.3L704.5 239.8L707.8 205.4L711 208.8L714.3 226.7L717.5 161.8L720.8 183.7L724 192.9L727.3 190.5L730.6 185.5L733.8 227.1L737.1 198.2L740.3 189.3L743.6 192.9L746.8 230.8L750.1 245.7L753.3 221.8L756.6 210.1L759.9 157.6L763.1 181L766.4 170.5L769.6 173.8L772.9 226.5L776.1 186.9L779.4 236.5L782.7 209.4L785.9 198.3L789.2 201.9L792.4 165.7L795.7 200.9L798.9 225.7L802.2 226.7L805.5 213L808.7 224.1L812 215.8L815.2 225.3L818.5 268.5L821.7 221.6L825 185.1L828.3 179.7L831.5 214L834.8 237.2L838 248.3L841.3 222.1L844.5 237.2L847.8 247.8L851 220.5L854.3 245.5L857.6 253.2L860.8 242.2L864.1 238.2L867.3 272.2L870.6 286.9L873.8 267.1L877.1 217.3L880.4 249.8L883.6 263L886.9 288.8L890.1 272.1L893.4 273L896.6 309.9L899.9 324.2L903.2 295.9L906.4 269.8L909.7 275.4L912.9 327.5L916.2 291.4L919.4 313.8L922.7 314.5L926 331.1L929.2 340L932.5 302.8"/>
<path d="M698 166.1L701.2 196.9L704.5 198.5L707.8 150.2L711 255.7L714.3 156L717.5 229.5L720.8 141.7L724 218.2L727.3 147.3L730.6 226L733.8 201.8L737.1 218.9L740.3 173.5L743.6 197.4L746.8 198.2L750.1 195.8L753.3 174.4L756.6 232L759.9 143.4L763.1 153.4L766.4 154.7L769.6 234.7L772.9 170.3L776.1 182L779.4 180.6L782.7 196.8L785.9 193.5L789.2 193.2L792.4 161.8L795.7 219.6L798.9 203.2L802.2 245.1L805.5 217.7L808.7 204.4L812 177.4L815.2 216.3L818.5 224.8L821.7 255.5L825 231.2L828.3 242.9L831.5 242.1L834.8 267.7L838 250.5L841.3 222.7L844.5 202.1L847.8 270.1L851 242.3L854.3 228.1L857.6 213L860.8 211.2L864.1 261.2L867.3 254.5L870.6 266.3L873.8 293.7L877.1 254.2L880.4 273.2L883.6 259.5L886.9 257.1L890.1 230.8L893.4 263.7L896.6 311.8L899.9 276.2L903.2 301.1L906.4 300.4L909.7 364.8L912.9 351L916.2 294.5L919.4 302.2L922.7 354.6L926 333.8L929.2 332.9L932.5 371.5"/>
<path d="M698 204.7L701.2 196.6L704.5 297.2L707.8 204.3L711 156.2L714.3 208.3L717.5 206.5L720.8 242.5L724 200.1L727.3 181L730.6 211.1L733.8 163.3L737.1 186.5L740.3 206L743.6 167.3L746.8 136.6L750.1 163.6L753.3 168.2L756.6 211.1L759.9 179.9L763.1 193.1L766.4 169L769.6 199.2L772.9 177.3L776.1 215.8L779.4 205.5L782.7 241.9L785.9 214.8L789.2 197.1L792.4 177.6L795.7 214.3L798.9 220.8L802.2 245.8L805.5 194.1L808.7 174.8L812 167.6L815.2 190.6L818.5 205.5L821.7 209.6L825 214L828.3 222.5L831.5 234.7L834.8 193.9L838 224.6L841.3 216.3L844.5 227.4L847.8 221.7L851 198.3L854.3 254.1L857.6 231.8L860.8 245L864.1 260.1L867.3 257L870.6 266.6L873.8 272.1L877.1 245.4L880.4 238.8L883.6 289.3L886.9 257.3L890.1 335.1L893.4 254.2L896.6 284.5L899.9 284.9L903.2 297.3L906.4 270.7L909.7 312.9L912.9 362.9L916.2 294.2L919.4 250.2L922.7 335.6L926 335.5L929.2 346.6L932.5 306"/>
<path d="M698 195.1L701.2 216L704.5 179.9L707.8 188.3L711 207.6L714.3 216.6L717.5 187.1L720.8 191.4L724 246.1L727.3 255.7L730.6 166.1L733.8 258.1L737.1 182.2L740.3 222.2L743.6 153.2L746.8 183.1L750.1 170.7L753.3 209.4L756.6 197.3L759.9 201.1L763.1 202.3L766.4 196.1L769.6 218.4L772.9 193.9L776.1 196L779.4 180.3L782.7 179.3L785.9 183.8L789.2 211.7L792.4 221.8L795.7 203.6L798.9 249L802.2 235.6L805.5 205.9L808.7 211.8L812 207.4L815.2 170L818.5 226.9L821.7 219.1L825 182.7L828.3 241.7L831.5 213.8L834.8 223.5L838 186.4L841.3 217.9L844.5 239.4L847.8 220.9L851 237.1L854.3 202L857.6 252.9L860.8 245.3L864.1 250.9L867.3 270.6L870.6 280.1L873.8 259L877.1 286.1L880.4 307.5L883.6 244.1L886.9 275.2L890.1 241.5L893.4 287L896.6 314.9L899.9 281.7L903.2 260.3L906.4 279.3L909.7 313.6L912.9 264.2L916.2 269.4L919.4 322.9L922.7 276.5L926 323.4L929.2 293.2L932.5 280.8"/>
<path d="M698 206.4L701.2 222.1L704.5 169.6L707.8 258.7L711 195L714.3 208.5L717.5 198.1L720.8 153.5L724 216.1L727.3 198.4L730.6 210.2L733.8 197.8L737.1 181.5L740.3 259.6L743.6 199.6L746.8 182.3L750.1 207.2L753.3 154.1L756.6 202L759.9 263.5L763.1 174.1L766.4 204.4L769.6 163.7L772.9 192.1L776.1 227.6L779.4 171L782.7 179L785.9 227.3L789.2 209.9L792.4 213.7L795.7 220.4L798.9 170L802.2 165.4L805.5 160.9L808.7 215.9L812 175.6L815.2 171.5L818.5 196L821.7 211.3L825 225.8L828.3 182.6L831.5 256L834.8 208.7L838 225.9L841.3 218.1L844.5 209.3L847.8 239.3L851 245.5L854.3 269L857.6 286.6L860.8 297.8L864.1 275.3L867.3 272.2L870.6 249L873.8 228.9L877.1 275.9L880.4 251.2L883.6 263.4L886.9 263.8L890.1 290.5L893.4 270.5L896.6 344.4L899.9 310.5L903.2 277.9L906.4 305.3L909.7 344.6L912.9 274.1L916.2 316L919.4 297.1L922.7 319L926 309.7L929.2 332.5L932.5 345.7"/>
<path d="M698 203.7L701.2 143.9L704.5 218.3L707.8 189L711 174L714.3 193L717.5 245.6L720.8 182.3L724 161.8L727.3 217.8L730.6 191.4L733.8 216.5L737.1 202.3L740.3 233.5L743.6 172L746.8 179.8L750.1 221.5L753.3 236.9L756.6 199.8L759.9 225L763.1 207L766.4 193.5L769.6 152.6L772.9 248.8L776.1 231.2L779.4 140.1L782.7 225L785.9 184.5L789.2 179.4L792.4 184.7L795.7 227.3L798.9 201.3L802.2 202.6L805.5 203.1L808.7 196.6L812 222.7L815.2 166.5L818.5 179.7L821.7 212.4L825 195.1L828.3 227.5L831.5 219.5L834.8 239.2L838 220.7L841.3 234.2L844.5 232.1L847.8 248.9L851 232L854.3 206.7L857.6 244L860.8 249.8L864.1 244L867.3 282.4L870.6 271.8L873.8 302.2L877.1 259.8L880.4 257.8L883.6 284.8L886.9 315.4L890.1 266.7L893.4 296.1L896.6 282.9L899.9 282.5L903.2 319.4L906.4 323.3L909.7 328.4L912.9 292.1L916.2 313.4L919.4 268.8L922.7 337.5L926 290.3L929.2 322.8L932.5 362.3"/>
<path d="M698 179.8L701.2 197.6L704.5 179.5L707.8 276.3L711 160.8L714.3 181.7L717.5 195.1L720.8 272.9L724 174.9L727.3 202.6L730.6 226.1L733.8 139.7L737.1 225.6L740.3 208.8L743.6 238L746.8 239.5L750.1 210L753.3 225.4L756.6 181.5L759.9 165.9L763.1 193.2L766.4 203.9L769.6 193.9L772.9 209.9L776.1 222.7L779.4 249.8L782.7 206.1L785.9 193.4L789.2 222.8L792.4 210.4L795.7 229.4L798.9 250.8L802.2 194L805.5 231.2L808.7 244.4L812 246.9L815.2 185.6L818.5 209L821.7 252L825 227.4L828.3 239.9L831.5 231.1L834.8 265.2L838 235.4L841.3 219.9L844.5 240L847.8 269.6L851 254.3L854.3 214.6L857.6 203.2L860.8 270.1L864.1 222.2L867.3 265.2L870.6 246.4L873.8 272.4L877.1 254.3L880.4 216L883.6 308.7L886.9 277.7L890.1 279.7L893.4 325.1L896.6 303L899.9 320.6L903.2 289L906.4 302.2L909.7 321L912.9 293.4L916.2 337.8L919.4 328.5L922.7 312.1L926 315.8L929.2 357.9L932.5 329.7"/>
<path d="M698 200L701.2 201.6L704.5 193L707.8 96.5L711 207.3L714.3 223.5L717.5 179.8L720.8 170.9L724 217.1L727.3 165.2L730.6 237.3L733.8 215.2L737.1 237.8L740.3 195.1L743.6 195L746.8 201.3L750.1 151.2L753.3 167.7L756.6 227.1L759.9 175.9L763.1 171.1L766.4 204.4L769.6 235.4L772.9 194.2L776.1 196L779.4 200.7L782.7 217.8L785.9 162.8L789.2 216.5L792.4 211.5L795.7 237.2L798.9 231.7L802.2 226.2L805.5 258.2L808.7 208.8L812 210.4L815.2 254.8L818.5 216L821.7 206.3L825 212.4L828.3 226.7L831.5 201.7L834.8 255.4L838 234L841.3 252L844.5 213.3L847.8 227.4L851 228.5L854.3 259.6L857.6 255.2L860.8 269.3L864.1 273.8L867.3 236.8L870.6 267.8L873.8 268.3L877.1 269.4L880.4 280.7L883.6 231.9L886.9 263.3L890.1 277.6L893.4 264.5L896.6 257.1L899.9 315.7L903.2 318.5L906.4 346.2L909.7 284L912.9 248.6L916.2 332.4L919.4 305.6L922.7 290L926 342.4L929.2 326.9L932.5 282.5"/>
<path d="M698 187.9L701.2 141.9L704.5 214L707.8 152.9L711 149.9L714.3 218.1L717.5 224.9L720.8 180.4L724 155.1L727.3 214.8L730.6 201.4L733.8 202.7L737.1 183.8L740.3 152.3L743.6 175.9L746.8 230.4L750.1 172.3L753.3 185.6L756.6 192.1L759.9 216.5L763.1 201.2L766.4 181.8L769.6 245.4L772.9 197.2L776.1 208.1L779.4 181.9L782.7 166.2L785.9 210.6L789.2 196.3L792.4 206.5L795.7 155.3L798.9 243.2L802.2 208.7L805.5 226.2L808.7 181L812 212.4L815.2 217.4L818.5 235.7L821.7 234.1L825 177.2L828.3 228.9L831.5 230.9L834.8 224L838 229.3L841.3 233.7L844.5 253.6L847.8 208.3L851 221.8L854.3 245.7L857.6 258.7L860.8 228.6L864.1 254.6L867.3 230.6L870.6 259.2L873.8 259.6L877.1 279.4L880.4 299.1L883.6 254L886.9 286.6L890.1 246.2L893.4 289.6L896.6 328.7L899.9 251.5L903.2 279.8L906.4 217.1L909.7 318L912.9 370.2L916.2 286.7L919.4 323.5L922.7 360.7L926 304.1L929.2 335.2L932.5 310.7"/>
<path d="M698 171L701.2 191.5L704.5 225.4L707.8 197.4L711 193.8L714.3 191.9L717.5 230.4L720.8 204.4L724 201.5L727.3 146.1L730.6 193.1L733.8 167.4L737.1 246.9L740.3 214.2L743.6 232L746.8 169.5L750.1 150.6L753.3 168.8L756.6 212.9L759.9 174.8L763.1 214.8L766.4 230.6L769.6 189.6L772.9 220.3L776.1 145.7L779.4 169L782.7 190.8L785.9 192.8L789.2 171.4L792.4 191.5L795.7 236.1L798.9 225L802.2 219.8L805.5 187.4L808.7 241.1L812 227.2L815.2 192.6L818.5 234.7L821.7 210.4L825 235.7L828.3 234.4L831.5 242.9L834.8 265.6L838 281.8L841.3 231.7L844.5 237.3L847.8 233.7L851 252.5L854.3 261L857.6 218.2L860.8 254L864.1 311.5L867.3 278.9L870.6 287.4L873.8 265.3L877.1 323L880.4 283.3L883.6 266.9L886.9 262.6L890.1 296.9L893.4 331.1L896.6 269.9L899.9 267.8L903.2 238.1L906.4 319.8L909.7 281.2L912.9 291.3L916.2 285.8L919.4 292.1L922.7 345.4L926 306.2L929.2 336.6L932.5 313.8"/>
<path d="M698 176.2L701.2 214.2L704.5 220.5L707.8 157.6L711 197.4L714.3 171L717.5 220.7L720.8 172.5L724 163.7L727.3 224.3L730.6 184.1L733.8 202L737.1 217.9L740.3 180.9L743.6 182.5L746.8 209.6L750.1 256.2L753.3 207.4L756.6 216.2L759.9 194.2L763.1 194.8L766.4 234.7L769.6 179.1L772.9 176.6L776.1 240.6L779.4 180.8L782.7 174.7L785.9 213.5L789.2 231.7L792.4 244.3L795.7 265.2L798.9 150.3L802.2 205L805.5 201.5L808.7 216.4L812 192.3L815.2 216.6L818.5 218.6L821.7 222.7L825 204.6L828.3 231.3L831.5 210.9L834.8 214.2L838 220.7L841.3 240.4L844.5 191.3L847.8 232.5L851 273L854.3 249.9L857.6 233.5L860.8 256.5L864.1 293.6L867.3 255.4L870.6 244.4L873.8 283.6L877.1 262.8L880.4 251.4L883.6 292.8L886.9 258.6L890.1 275.7L893.4 317.9L896.6 287.6L899.9 324.3L903.2 248.9L906.4 259.3L909.7 286.7L912.9 305.3L916.2 260.4L919.4 321.1L922.7 304.4L926 311.5L929.2 330.4L932.5 326.1"/>
<path d="M698 149.3L701.2 184.1L704.5 162.1L707.8 232.7L711 181.4L714.3 189.1L717.5 178L720.8 189.7L724 196L727.3 194.3L730.6 169.2L733.8 230.3L737.1 195.2L740.3 142.2L743.6 127.9L746.8 160.5L750.1 159.3L753.3 144.4L756.6 168.5L759.9 201.1L763.1 228.5L766.4 199.8L769.6 206.2L772.9 223.7L776.1 258L779.4 229.2L782.7 220.6L785.9 196.9L789.2 180.5L792.4 210.2L795.7 239.3L798.9 211.1L802.2 195.5L805.5 222L808.7 204.4L812 196.9L815.2 169.1L818.5 223.6L821.7 202.1L825 248.8L828.3 210.8L831.5 230.5L834.8 219.2L838 264.3L841.3 251.9L844.5 232.7L847.8 265.5L851 213.5L854.3 260.5L857.6 232.1L860.8 246.6L864.1 245.1L867.3 272.6L870.6 219.8L873.8 253.9L877.1 301.7L880.4 216L883.6 266.8L886.9 246.8L890.1 220.9L893.4 292.8L896.6 271.4L899.9 323.9L903.2 246.2L906.4 308L909.7 352.5L912.9 259L916.2 331.5L919.4 335.5L922.7 326.3L926 370.3L929.2 351.1L932.5 312.7"/>
<path d="M698 162.8L701.2 187.5L704.5 252.1L707.8 187.1L711 224.4L714.3 193.5L717.5 217.9L720.8 206.6L724 227.9L727.3 255.2L730.6 185.8L733.8 165.7L737.1 194.9L740.3 195L743.6 199.5L746.8 222L750.1 181.5L753.3 191.7L756.6 196.9L759.9 224.7L763.1 185.1L766.4 228.2L769.6 251.1L772.9 190.1L776.1 240.6L779.4 216.1L782.7 205.8L785.9 254.3L789.2 239.7L792.4 194.4L795.7 226.4L798.9 189.6L802.2 177.8L805.5 236.3L808.7 209.3L812 253.2L815.2 221.2L818.5 220.3L821.7 217.3L825 229L828.3 210.1L831.5 226.3L834.8 196.3L838 188.9L841.3 194.7L844.5 221.9L847.8 233.2L851 238.6L854.3 275.2L857.6 304.9L860.8 198.9L864.1 292.2L867.3 283.2L870.6 248.3L873.8 270L877.1 226.5L880.4 262.9L883.6 313.3L886.9 251.7L890.1 270L893.4 286.9L896.6 303.1L899.9 292.3L903.2 281.4L906.4 317.7L909.7 293.1L912.9 380.7L916.2 351.2L919.4 319.5L922.7 298.4L926 311.7L929.2 309.4L932.5 325.3"/>
<path d="M698 201.5L701.2 153.6L704.5 204.9L707.8 192.3L711 168.3L714.3 239.3L717.5 213.9L720.8 200.5L724 173.9L727.3 178.4L730.6 201.5L733.8 156.8L737.1 207.9L740.3 164.1L743.6 190.9L746.8 211.9L750.1 185.3L753.3 173.3L756.6 175.5L759.9 197.3L763.1 165.8L766.4 193.4L769.6 224L772.9 144.9L776.1 181.3L779.4 207.3L782.7 177.3L785.9 174.4L789.2 175.3L792.4 221.3L795.7 157.4L798.9 200.5L802.2 203.5L805.5 208L808.7 187.8L812 212.2L815.2 202.2L818.5 191L821.7 276.3L825 244.8L828.3 200.4L831.5 212.7L834.8 240.3L838 256.3L841.3 216.7L844.5 248.3L847.8 236.7L851 266.5L854.3 233L857.6 226.9L860.8 255.4L864.1 260.8L867.3 258.6L870.6 287.9L873.8 280.3L877.1 269.9L880.4 239.9L883.6 287.9L886.9 297.8L890.1 266.9L893.4 279.7L896.6 256L899.9 291.8L903.2 287L906.4 251.5L909.7 306.3L912.9 299.1L916.2 302.4L919.4 344.8L922.7 333.8L926 352.8L929.2 319.5L932.5 376.1"/>
<path d="M698 162.1L701.2 214.6L704.5 153.2L707.8 197.1L711 164.9L714.3 154.3L717.5 217.8L720.8 194.6L724 204.1L727.3 199.1L730.6 206.8L733.8 196L737.1 191.4L740.3 198.2L743.6 256.6L746.8 164.1L750.1 150.9L753.3 165.3L756.6 177.2L759.9 207.6L763.1 225.2L766.4 225.3L769.6 192.6L772.9 213.7L776.1 250.5L779.4 217.4L782.7 240L785.9 177.6L789.2 229.6L792.4 221.3L795.7 181.5L798.9 206.1L802.2 225.4L805.5 188.5L808.7 229.7L812 235.5L815.2 223.2L818.5 210L821.7 214.2L825 232.3L828.3 251.7L831.5 200.7L834.8 236.8L838 231.9L841.3 204.2L844.5 206.6L847.8 229.1L851 205.1L854.3 251.3L857.6 238.8L860.8 226.4L864.1 255.9L867.3 240.2L870.6 243.7L873.8 293.2L877.1 251.2L880.4 210.1L883.6 279.2L886.9 253.6L890.1 261.7L893.4 322.8L896.6 281.2L899.9 311.4L903.2 258.2L906.4 270.5L909.7 284.6L912.9 329L916.2 293.5L919.4 260.2L922.7 341.9L926 310.6L929.2 331.4L932.5 357.1"/>
</g>
<g fill="none" stroke="rgb(153,204,242)" stroke-opacity="0.5" stroke-width="1.25" stroke-linejoin="round">
<path d="M132.4 726.3L135.7 693.2L138.9 720L142.2 682.8L145.4 701.6L148.6 705.6L151.9 682.8L155.1 683.6L158.4 687.7L161.6 701.8L164.9 690.9L168.1 691.9L171.4 687L174.6 704L177.9 697.2L181.1 699.5L184.4 694.7L187.6 711.1L190.9 686.4L194.1 696.6L197.4 698.5L200.6 704.5L203.9 714.5L207.1 705.5L210.4 682.8L213.6 718.1L216.9 718.8L220.1 717.2L223.4 715.5L226.6 682.8L229.9 698L233.1 713.7L236.4 708.3L239.6 695.8L242.9 701.2L246.1 682.8L249.4 701.4L252.6 682.8L255.9 693.6L259.1 713.7L262.4 683.2L265.6 720.3L268.9 730.4L272.1 705.7L275.4 687L278.6 688.9L281.9 682.8L285.1 707.5L288.4 682.8L291.6 699.7L294.9 682.8L298.1 711.3L301.3 682.8L304.6 692.9L307.8 687.6L311.1 712.4L314.3 688.4L317.6 701.1L320.8 719.2L324.1 682.8L327.3 684.7L330.6 703.6L333.8 689.7L337.1 723.9L340.3 701.9L343.6 705.9L346.8 699.4L350.1 682.8L353.3 721.1L356.6 701.8L359.8 682.8L363.1 691.3L366.3 701.1L369.6 715.4L372.8 712L376.1 712.2L379.3 711.5L382.6 693.3L385.8 698.1L389.1 710.4L392.3 692.1L395.6 713L398.8 728.7L402.1 682.8L405.3 712.7L408.6 712.8"/>
<path d="M132.4 696.1L135.7 721.2L138.9 682.8L142.2 728.7L145.4 710.4L148.6 739.5L151.9 694.1L155.1 705L158.4 698L161.6 703L164.9 686L168.1 687.5L171.4 695.7L174.6 707.8L177.9 682.8L181.1 696.5L184.4 689.6L187.6 706L190.9 710.3L194.1 682.8L197.4 683.6L200.6 694L203.9 684.4L207.1 722L210.4 728.5L213.6 714.5L216.9 708.3L220.1 682.8L223.4 687.7L226.6 706.7L229.9 721.8L233.1 695.9L236.4 699.6L239.6 720.8L242.9 724.7L246.1 682.8L249.4 698.6L252.6 704.9L255.9 682.8L259.1 691L262.4 703L265.6 692.1L268.9 707.6L272.1 690.8L275.4 682.8L278.6 682.8L281.9 682.8L285.1 682.8L288.4 702.9L291.6 699.3L294.9 704.4L298.1 720.8L301.3 682.8L304.6 685.3L307.8 698.4L311.1 720.3L314.3 696.7L317.6 699.5L320.8 704.7L324.1 683.5L327.3 682.8L330.6 709.8L333.8 696.7L337.1 703.7L340.3 682.8L343.6 686.7L346.8 714L350.1 702.2L353.3 714.6L356.6 691.7L359.8 705.1L363.1 716.4L366.3 713.5L369.6 694.6L372.8 709.8L376.1 703.9L379.3 702.8L382.6 704.5L385.8 713.4L389.1 688.4L392.3 710.1L395.6 695.5L398.8 717.2L402.1 710.2L405.3 716.9L408.6 711.2"/>
<path d="M132.4 690.3L135.7 682.8L138.9 715.9L142.2 682.8L145.4 682.8L148.6 705L151.9 706.2L155.1 695.8L158.4 692.4L161.6 682.8L164.9 724.9L168.1 682.8L171.4 730.9L174.6 682.8L177.9 682.8L181.1 695.4L184.4 690L187.6 706.6L190.9 682.8L194.1 690.1L197.4 682.8L200.6 714.8L203.9 692.9L207.1 687.1L210.4 701.2L213.6 714.8L216.9 704.1L220.1 685.4L223.4 702.8L226.6 703.9L229.9 704.3L233.1 695.2L236.4 704.3L239.6 682.8L242.9 699.2L246.1 683.2L249.4 694.4L252.6 683.8L255.9 705.2L259.1 691.4L262.4 717.3L265.6 685.4L268.9 714.6L272.1 683.3L275.4 682.8L278.6 682.8L281.9 708.5L285.1 697.6L288.4 701.3L291.6 689.1L294.9 701.9L298.1 686.3L301.3 723.5L304.6 716.8L307.8 703.5L311.1 686.7L314.3 683L317.6 711.3L320.8 706.1L324.1 684.2L327.3 713.1L330.6 716.4L333.8 712.5L337.1 703.9L340.3 702.7L343.6 701.5L346.8 699.3L350.1 691.2L353.3 720.1L356.6 682.8L359.8 707L363.1 720.3L366.3 735.8L369.6 691.5L372.8 727.5L376.1 726L379.3 720.9L382.6 734.8L385.8 683.5L389.1 725.4L392.3 711.4L395.6 719.8L398.8 717.4L402.1 704.1L405.3 689L408.6 724.1"/>
<path d="M132.4 691.9L135.7 682.8L138.9 696L142.2 683.6L145.4 687.7L148.6 705.4L151.9 711.9L155.1 682.8L158.4 698.9L161.6 704.6L164.9 682.8L168.1 694.7L171.4 703.2L174.6 712.2L177.9 682.8L181.1 682.8L184.4 689.7L187.6 693.8L190.9 697.1L194.1 698.1L197.4 682.8L200.6 709.8L203.9 682.8L207.1 705.6L210.4 710.3L213.6 709.3L216.9 704.9L220.1 703.1L223.4 690.2L226.6 687.7L229.9 731.2L233.1 724.9L236.4 715.6L239.6 708.9L242.9 682.8L246.1 724.8L249.4 691.2L252.6 693.2L255.9 707.5L259.1 688.1L262.4 719.9L265.6 682.8L268.9 718.3L272.1 704.5L275.4 682.8L278.6 707.7L281.9 713.6L285.1 707.2L288.4 708.8L291.6 691.7L294.9 713.2L298.1 717.7L301.3 717.4L304.6 703.3L307.8 682.8L311.1 703.6L314.3 682.8L317.6 690.2L320.8 698.5L324.1 699.9L327.3 696.9L330.6 707.5L333.8 710.8L337.1 699.5L340.3 699L343.6 705.3L346.8 712.7L350.1 684.7L353.3 682.8L356.6 717.4L359.8 705.3L363.1 682.8L366.3 716L369.6 711.7L372.8 682.8L376.1 686.3L379.3 696.2L382.6 685.8L385.8 696L389.1 706.6L392.3 724.7L395.6 682.8L398.8 717.6L402.1 730L405.3 682.8L408.6 719.5"/>
<path d="M132.4 691.3L135.7 684L138.9 706.5L142.2 717.6L145.4 714.9L148.6 731.3L151.9 686.9L155.1 682.8L158.4 689.8L161.6 696.1L164.9 715.4L168.1 705.8L171.4 687.4L174.6 717.3L177.9 704.3L181.1 703.6L184.4 694.6L187.6 706.4L190.9 705.2L194.1 696.7L197.4 682.8L200.6 684.6L203.9 705.1L207.1 723.4L210.4 719.9L213.6 719L216.9 726.1L220.1 707.4L223.4 721.7L226.6 715.3L229.9 702.5L233.1 687.1L236.4 682.8L239.6 702.8L242.9 682.8L246.1 694.6L249.4 705.4L252.6 682.8L255.9 709.7L259.1 699.2L262.4 686.5L265.6 709.1L268.9 710.9L272.1 689.4L275.4 701.5L278.6 682.8L281.9 698.1L285.1 700L288.4 682.8L291.6 697.4L294.9 719.9L298.1 692.4L301.3 682.8L304.6 682.8L307.8 685.7L311.1 682.8L314.3 682.8L317.6 704.3L320.8 706.4L324.1 683.5L327.3 703.6L330.6 718.3L333.8 710.1L337.1 701.2L340.3 710L343.6 691.8L346.8 717.9L350.1 729.3L353.3 692L356.6 682.8L359.8 694.6L363.1 692.4L366.3 705.1L369.6 715.6L372.8 716L376.1 733.5L379.3 714L382.6 708.6L385.8 682.8L389.1 716.7L392.3 703.1L395.6 704.9L398.8 715.2L402.1 741.2L405.3 730.1L408.6 718"/>
<path d="M132.4 682.8L135.7 689.1L138.9 693.8L142.2 713.6L145.4 709.3L148.6 710.9L151.9 686L155.1 714.8L158.4 741.7L161.6 682.8L164.9 684.2L168.1 700.9L171.4 713.7L174.6 702.6L177.9 701.1L181.1 724.7L184.4 683.2L187.6 682.8L190.9 682.8L194.1 710.3L197.4 713.7L200.6 693.6L203.9 682.8L207.1 687.5L210.4 708.8L213.6 717.9L216.9 690.9L220.1 685.1L223.4 687.9L226.6 690.7L229.9 709.3L233.1 703.7L236.4 700.4L239.6 697.6L242.9 701L246.1 682.8L249.4 682.8L252.6 698.4L255.9 701.6L259.1 714.4L262.4 698.7L265.6 686.5L268.9 696.4L272.1 692.8L275.4 701.6L278.6 692.2L281.9 703.9L285.1 703.6L288.4 703L291.6 704.8L294.9 682.8L298.1 719.8L301.3 724.1L304.6 707.1L307.8 722.8L311.1 703.7L314.3 686.5L317.6 712.2L320.8 702.2L324.1 697.9L327.3 728.5L330.6 692L333.8 723.3L337.1 691.3L340.3 682.8L343.6 714.6L346.8 707.5L350.1 705.7L353.3 707.6L356.6 722.1L359.8 713.3L363.1 706.1L366.3 702.6L369.6 706.3L372.8 701.3L376.1 715.5L379.3 682.8L382.6 707.9L385.8 710.6L389.1 723.7L392.3 698.8L395.6 712.2L398.8 728.4L402.1 761.4L405.3 721.8L408.6 729.1"/>
<path d="M132.4 689.5L135.7 730.2L138.9 696.7L142.2 698.9L145.4 705.3L148.6 685.4L151.9 687.3L155.1 696.9L158.4 690.2L161.6 712.6L164.9 694.3L168.1 735.1L171.4 704.6L174.6 689.4L177.9 703.7L181.1 714.2L184.4 701.3L187.6 710.3L190.9 696.5L194.1 687.9L197.4 699.3L200.6 727.1L203.9 695.5L207.1 701.4L210.4 682.8L213.6 695L216.9 707L220.1 694.3L223.4 720.9L226.6 716.3L229.9 694.2L233.1 701L236.4 706.5L239.6 703.2L242.9 695.3L246.1 682.8L249.4 716.3L252.6 695.3L255.9 699.8L259.1 689.1L262.4 723.6L265.6 699.9L268.9 703.8L272.1 682.8L275.4 688.1L278.6 695.3L281.9 703L285.1 706.6L288.4 692.8L291.6 711.8L294.9 696.6L298.1 700.4L301.3 698.9L304.6 682.8L307.8 682.8L311.1 723.7L314.3 682.8L317.6 693.8L320.8 710.1L324.1 688.5L327.3 719L330.6 682.8L333.8 706.3L337.1 707.2L340.3 731.5L343.6 723.3L346.8 692.9L350.1 713L353.3 705.5L356.6 684.9L359.8 697.3L363.1 722.6L366.3 696.5L369.6 682.8L372.8 696.9L376.1 687.3L379.3 682.8L382.6 711.4L385.8 714L389.1 724.7L392.3 688.4L395.6 694.9L398.8 723.9L402.1 716.9L405.3 712.4L408.6 698.2"/>
<path d="M132.4 688.9L135.7 682.8L138.9 718.6L142.2 708.7L145.4 684.4L148.6 719.2L151.9 683.2L155.1 706.8L158.4 700.9L161.6 688.1L164.9 718L168.1 682.8L171.4 691.9L174.6 691.8L177.9 682.8L181.1 682.8L184.4 699.5L187.6 704L190.9 682.8L194.1 704.5L197.4 704.4L200.6 709.3L203.9 694.8L207.1 698L210.4 710.8L213.6 693.7L216.9 687.1L220.1 682.8L223.4 708.7L226.6 718.1L229.9 682.8L233.1 696.4L236.4 705.5L239.6 718L242.9 702.3L246.1 684.6L249.4 705.2L252.6 728L255.9 702.1L259.1 709.4L262.4 726.5L265.6 682.8L268.9 712.9L272.1 719.8L275.4 709.8L278.6 699.3L281.9 692.6L285.1 688.9L288.4 682.8L291.6 690.1L294.9 682.8L298.1 702.3L301.3 696.6L304.6 686.6L307.8 692.9L311.1 698.3L314.3 682.8L317.6 713L320.8 705.1L324.1 708.1L327.3 698.9L330.6 702.1L333.8 707.7L337.1 701L340.3 694.9L343.6 698.1L346.8 697.5L350.1 696.3L353.3 692L356.6 692.9L359.8 692.2L363.1 728.4L366.3 692.7L369.6 696.3L372.8 693.7L376.1 709.8L379.3 725.3L382.6 697.4L385.8 711.3L389.1 710.2L392.3 725.8L395.6 712.5L398.8 718.3L402.1 713.7L405.3 689.3L408.6 732.5"/>
<path d="M132.4 719.7L135.7 684.2L138.9 710.8L142.2 701L145.4 722.6L148.6 696.2L151.9 707.8L155.1 720.4L158.4 709.6L161.6 700.3L164.9 700.8L168.1 692.7L171.4 702.4L174.6 686.6L177.9 725.1L181.1 712L184.4 699.5L187.6 682.8L190.9 715.7L194.1 719.6L197.4 708.1L200.6 714.9L203.9 715.3L207.1 703.4L210.4 702.5L213.6 708.1L216.9 721.6L220.1 693.2L223.4 683.3L226.6 705.5L229.9 704.4L233.1 703.4L236.4 701.2L239.6 683.2L242.9 689.7L246.1 694.3L249.4 696.8L252.6 704L255.9 709.4L259.1 704.3L262.4 701.3L265.6 689.4L268.9 696.2L272.1 682.8L275.4 686.5L278.6 703.7L281.9 706.8L285.1 683.6L288.4 714L291.6 682.8L294.9 707.5L298.1 704.5L301.3 698.4L304.6 701.6L307.8 693.8L311.1 730L314.3 689.1L317.6 700L320.8 707.7L324.1 682.8L327.3 702.5L330.6 685.8L333.8 725.4L337.1 693L340.3 699.2L343.6 682.8L346.8 731.1L350.1 682.8L353.3 682.8L356.6 694.2L359.8 682.8L363.1 689.8L366.3 696.5L369.6 712.7L372.8 723.5L376.1 691.2L379.3 699.3L382.6 717.1L385.8 725.6L389.1 699L392.3 709.3L395.6 713L398.8 721.4L402.1 713L405.3 742.3L408.6 714.6"/>
<path d="M132.4 712.4L135.7 703.4L138.9 748.3L142.2 721.7L145.4 682.8L148.6 712.5L151.9 682.8L155.1 720L158.4 696.7L161.6 682.8L164.9 686.3L168.1 695.4L171.4 719.8L174.6 700.5L177.9 706.9L181.1 692.9L184.4 693L187.6 682.8L190.9 692.7L194.1 694.2L197.4 698.2L200.6 687.6L203.9 696.6L207.1 694.2L210.4 706.4L213.6 693.7L216.9 691.5L220.1 684.7L223.4 691.8L226.6 695.6L229.9 684L233.1 718.3L236.4 709.3L239.6 701L242.9 708.7L246.1 682.8L249.4 684.6L252.6 686.1L255.9 698.6L259.1 709.1L262.4 711.8L265.6 682.8L268.9 698.4L272.1 712.2L275.4 689.3L278.6 701.1L281.9 682.8L285.1 695.2L288.4 690.3L291.6 682.8L294.9 708.3L298.1 721.1L301.3 709.3L304.6 687.9L307.8 694.7L311.1 685.9L314.3 701.4L317.6 708.6L320.8 721.1L324.1 697.5L327.3 715.1L330.6 699.8L333.8 693.4L337.1 697.2L340.3 686.1L343.6 688.3L346.8 713.7L350.1 709.5L353.3 689.3L356.6 689.3L359.8 701.4L363.1 695.4L366.3 710.3L369.6 690.6L372.8 686.6L376.1 693L379.3 711.1L382.6 734.9L385.8 713.9L389.1 688.9L392.3 697.6L395.6 713.3L398.8 714.6L402.1 716.4L405.3 743.5L408.6 700.4"/>
<path d="M132.4 682.8L135.7 692.6L138.9 696.1L142.2 701L145.4 710.6L148.6 700.4L151.9 713.5L155.1 700.8L158.4 703.9L161.6 682.8L164.9 685.5L168.1 692.4L171.4 706.3L174.6 687.6L177.9 683.9L181.1 689.5L184.4 722.6L187.6 682.8L190.9 700L194.1 697.2L197.4 718.4L200.6 708.3L203.9 694.1L207.1 712.1L210.4 720.9L213.6 697.4L216.9 682.8L220.1 682.8L223.4 702.4L226.6 685.2L229.9 700.8L233.1 717L236.4 697.8L239.6 727.5L242.9 696.2L246.1 682.8L249.4 697L252.6 707.4L255.9 682.8L259.1 704.6L262.4 723.7L265.6 703.1L268.9 725.9L272.1 682.8L275.4 701.6L278.6 682.8L281.9 682.8L285.1 682.8L288.4 709.6L291.6 699.7L294.9 717.2L298.1 689.3L301.3 682.8L304.6 705.6L307.8 686.8L311.1 682.8L314.3 703.9L317.6 716.9L320.8 689.4L324.1 699.7L327.3 709.7L330.6 689.4L333.8 691.8L337.1 701.4L340.3 722.3L343.6 686.7L346.8 715L350.1 708.2L353.3 703.8L356.6 699.9L359.8 692.6L363.1 716.6L366.3 699.1L369.6 682.8L372.8 711.1L376.1 694.5L379.3 703.9L382.6 735.9L385.8 712.5L389.1 682.8L392.3 705.3L395.6 695.1L398.8 732.8L402.1 682.8L405.3 723.9L408.6 717.1"/>
<path d="M132.4 688.9L135.7 700.5L138.9 723.1L142.2 682.8L145.4 692.2L148.6 701.4L151.9 699.8L155.1 695.5L158.4 706.6L161.6 697.2L164.9 692.9L168.1 682.8L171.4 708.3L174.6 720L177.9 716.8L181.1 708.2L184.4 717.3L187.6 682.8L190.9 710.4L194.1 703.6L197.4 698.8L200.6 717.2L203.9 698.1L207.1 696.1L210.4 689.1L213.6 682.8L216.9 694.9L220.1 725L223.4 731L226.6 692.6L229.9 703L233.1 725.2L236.4 682.8L239.6 691L242.9 682.8L246.1 721.8L249.4 686.3L252.6 689.4L255.9 696.6L259.1 686.7L262.4 739.7L265.6 718.8L268.9 732.8L272.1 682.8L275.4 706.7L278.6 694L281.9 682.8L285.1 698.2L288.4 720.7L291.6 715L294.9 691.6L298.1 755.8L301.3 717.5L304.6 683.4L307.8 686.7L311.1 688.5L314.3 694.3L317.6 696.8L320.8 693.6L324.1 714.9L327.3 694.9L330.6 708.1L333.8 697.4L337.1 696.8L340.3 719.7L343.6 704.5L346.8 718.2L350.1 701.9L353.3 721.2L356.6 705.5L359.8 725.3L363.1 690.6L366.3 720.8L369.6 706.1L372.8 695.5L376.1 699L379.3 682.8L382.6 705L385.8 712.9L389.1 704.2L392.3 730.1L395.6 682.8L398.8 717.1L402.1 698.6L405.3 710L408.6 731.4"/>
<path d="M132.4 695.9L135.7 718.7L138.9 693.1L142.2 691L145.4 697.3L148.6 682.8L151.9 687.8L155.1 699.6L158.4 714.8L161.6 682.8L164.9 686.4L168.1 682.8L171.4 682.8L174.6 697.4L177.9 699.8L181.1 706.5L184.4 695L187.6 717.4L190.9 682.8L194.1 697L197.4 708.4L200.6 694.1L203.9 706.1L207.1 697.2L210.4 697.3L213.6 705.6L216.9 690.9L220.1 697.6L223.4 711.5L226.6 684L229.9 710L233.1 719.2L236.4 720.5L239.6 692.1L242.9 716.2L246.1 682.8L249.4 682.8L252.6 695.1L255.9 682.8L259.1 684.5L262.4 685.2L265.6 695.6L268.9 690.2L272.1 682.8L275.4 693.2L278.6 687.1L281.9 696.2L285.1 699.9L288.4 703L291.6 692.4L294.9 691.1L298.1 695.7L301.3 682.8L304.6 700.3L307.8 696.4L311.1 711.4L314.3 697.6L317.6 694.9L320.8 713.6L324.1 693.6L327.3 701L330.6 710.2L333.8 707.5L337.1 686.3L340.3 709.1L343.6 706.8L346.8 703L350.1 696.9L353.3 704.5L356.6 682.8L359.8 724L363.1 682.8L366.3 685.6L369.6 682.8L372.8 711.7L376.1 706.3L379.3 710.7L382.6 687.8L385.8 724.6L389.1 722.3L392.3 682.8L395.6 714.2L398.8 688.9L402.1 706.4L405.3 723L408.6 715.9"/>
<path d="M132.4 682.8L135.7 684.2L138.9 711.6L142.2 700.7L145.4 709.4L148.6 682.8L151.9 706L155.1 701L158.4 684.5L161.6 714.7L164.9 697.5L168.1 710.9L171.4 689.6L174.6 702.8L177.9 705.7L181.1 698.8L184.4 699.7L187.6 705.1L190.9 695.5L194.1 682.8L197.4 702.9L200.6 696.7L203.9 702.6L207.1 688.1L210.4 724.5L213.6 715.7L216.9 720.1L220.1 724.8L223.4 716.3L226.6 695.7L229.9 682.8L233.1 717.5L236.4 699.1L239.6 708.5L242.9 717.6L246.1 693.9L249.4 682.8L252.6 699.3L255.9 689.4L259.1 686L262.4 705.6L265.6 696.4L268.9 707.1L272.1 682.8L275.4 691.9L278.6 691.1L281.9 695.6L285.1 686.4L288.4 704.1L291.6 682.8L294.9 703.7L298.1 717.6L301.3 697.8L304.6 694.5L307.8 685.9L311.1 699.4L314.3 699.3L317.6 704.7L320.8 706.2L324.1 705.7L327.3 705.2L330.6 682.8L333.8 687.7L337.1 696L340.3 729.7L343.6 716.5L346.8 703L350.1 696.9L353.3 694.7L356.6 711.1L359.8 700.3L363.1 707.5L366.3 688L369.6 689.7L372.8 691.9L376.1 694.6L379.3 700.7L382.6 722.9L385.8 712.3L389.1 724.4L392.3 704.8L395.6 715.6L398.8 709.2L402.1 712.3L405.3 713.1L408.6 693"/>
<path d="M132.4 694.5L135.7 682.8L138.9 703.3L142.2 689.7L145.4 682.8L148.6 684.4L151.9 686.2L155.1 719.2L158.4 682.8L161.6 689L164.9 700.9L168.1 695.9L171.4 696.4L174.6 707.1L177.9 688.1L181.1 725.4L184.4 717.7L187.6 703.7L190.9 716.4L194.1 698.6L197.4 692.1L200.6 682.8L203.9 689.4L207.1 708.2L210.4 707L213.6 725.2L216.9 722.1L220.1 710L223.4 703.5L226.6 725.2L229.9 698.3L233.1 682.8L236.4 691L239.6 702.6L242.9 706.1L246.1 704.3L249.4 705.2L252.6 682.8L255.9 728.1L259.1 705.8L262.4 701L265.6 682.8L268.9 711.2L272.1 682.8L275.4 682.8L278.6 702.8L281.9 703.3L285.1 692.8L288.4 682.8L291.6 701L294.9 697.6L298.1 706.1L301.3 703.3L304.6 682.8L307.8 702.7L311.1 682.8L314.3 698.9L317.6 695.9L320.8 692.7L324.1 720.3L327.3 704.1L330.6 705.1L333.8 714.1L337.1 727.9L340.3 682.8L343.6 707.6L346.8 703.4L350.1 715.5L353.3 700.8L356.6 701.4L359.8 712.7L363.1 705.8L366.3 687.6L369.6 696L372.8 732.6L376.1 714.2L379.3 682.8L382.6 703.8L385.8 692.9L389.1 722.6L392.3 694.7L395.6 710.1L398.8 724.9L402.1 726.8L405.3 706.2L408.6 719.9"/>
<path d="M132.4 726.4L135.7 684.2L138.9 696.7L142.2 686.1L145.4 696.6L148.6 708.5L151.9 699.7L155.1 708.4L158.4 682.8L161.6 696.8L164.9 694.1L168.1 682.8L171.4 713.7L174.6 699.2L177.9 689.8L181.1 716.6L184.4 706.4L187.6 682.8L190.9 704.2L194.1 732.6L197.4 703L200.6 711.3L203.9 682.8L207.1 682.8L210.4 682.8L213.6 718.8L216.9 714L220.1 682.8L223.4 715.3L226.6 682.8L229.9 682.8L233.1 699.5L236.4 684.8L239.6 695.5L242.9 701.4L246.1 713.6L249.4 687.1L252.6 683.5L255.9 685.1L259.1 733.9L262.4 717.5L265.6 718.1L268.9 708.4L272.1 700.7L275.4 715.2L278.6 694.2L281.9 682.8L285.1 682.8L288.4 732.5L291.6 682.8L294.9 687.5L298.1 699.7L301.3 714.1L304.6 682.8L307.8 694L311.1 701.6L314.3 682.8L317.6 703.4L320.8 717.4L324.1 701.6L327.3 703.5L330.6 710.9L333.8 703L337.1 691L340.3 690.8L343.6 713.6L346.8 682.8L350.1 682.8L353.3 712.8L356.6 720.4L359.8 706L363.1 693.8L366.3 682.8L369.6 704.6L372.8 708.5L376.1 710.6L379.3 711.5L382.6 689.8L385.8 695.1L389.1 706.9L392.3 707.8L395.6 686.4L398.8 698.2L402.1 711L405.3 735.1L408.6 750.9"/>
<path d="M132.4 696.5L135.7 688L138.9 699.6L142.2 698.7L145.4 685.3L148.6 682.8L151.9 700.5L155.1 688.3L158.4 697L161.6 682.8L164.9 692.4L168.1 699.8L171.4 682.8L174.6 685.7L177.9 706.7L181.1 711.7L184.4 682.8L187.6 712.3L190.9 716.2L194.1 702.9L197.4 704.7L200.6 700.4L203.9 704.7L207.1 692.8L210.4 721.6L213.6 702.1L216.9 682.8L220.1 705.2L223.4 715.1L226.6 705.8L229.9 683.8L233.1 709.9L236.4 682.8L239.6 721.3L242.9 706.2L246.1 682.8L249.4 682.8L252.6 728.6L255.9 698.7L259.1 686.6L262.4 704.5L265.6 696.1L268.9 696.1L272.1 700.7L275.4 697.3L278.6 682.8L281.9 699.9L285.1 697.7L288.4 682.8L291.6 709.3L294.9 704.8L298.1 685.9L301.3 724.5L304.6 701.2L307.8 717.4L311.1 684.2L314.3 685.6L317.6 703.8L320.8 692.1L324.1 694.4L327.3 682.8L330.6 733.8L333.8 711.5L337.1 717.1L340.3 724.6L343.6 700L346.8 733.1L350.1 682.8L353.3 694.9L356.6 694L359.8 703.6L363.1 688.9L366.3 713.3L369.6 725.1L372.8 709.1L376.1 714.4L379.3 682.8L382.6 694.3L385.8 712.7L389.1 698.6L392.3 715.5L395.6 705.2L398.8 722.8L402.1 693.7L405.3 722.7L408.6 737.4"/>
<path d="M132.4 704L135.7 725.8L138.9 694.8L142.2 711.9L145.4 682.8L148.6 715.7L151.9 706.6L155.1 695.1L158.4 716.2L161.6 682.8L164.9 694.9L168.1 703.3L171.4 682.8L174.6 682.8L177.9 713.4L181.1 695.7L184.4 683L187.6 693.8L190.9 688.5L194.1 685.6L197.4 703.5L200.6 682.8L203.9 682.8L207.1 700.9L210.4 701.3L213.6 720.8L216.9 682.8L220.1 688.7L223.4 716.8L226.6 705L229.9 690.2L233.1 688.2L236.4 704.8L239.6 695.1L242.9 685.3L246.1 689.1L249.4 687.7L252.6 706.7L255.9 682.8L259.1 688.7L262.4 717.3L265.6 682.8L268.9 694.5L272.1 708.2L275.4 682.8L278.6 685.6L281.9 682.8L285.1 696.5L288.4 683.6L291.6 682.8L294.9 697.4L298.1 703.7L301.3 713.6L304.6 686.2L307.8 693.4L311.1 685.9L314.3 709.3L317.6 718.9L320.8 687.7L324.1 682.8L327.3 729.6L330.6 682.8L333.8 682.8L337.1 688.2L340.3 725.7L343.6 716.4L346.8 698.3L350.1 708.9L353.3 697.1L356.6 718L359.8 696.9L363.1 729.2L366.3 708L369.6 686.2L372.8 682.8L376.1 721.7L379.3 712.2L382.6 690.2L385.8 692.4L389.1 700.6L392.3 704.8L395.6 707.6L398.8 716.1L402.1 713.5L405.3 705.4L408.6 745.2"/>
<path d="M132.4 688.2L135.7 682.9L138.9 702.9L142.2 684.3L145.4 704.5L148.6 702L151.9 712.8L155.1 683L158.4 682.8L161.6 710.7L164.9 694.5L168.1 723L171.4 707L174.6 689.3L177.9 702.2L181.1 682.8L184.4 682.8L187.6 699.9L190.9 697.9L194.1 682.8L197.4 708.6L200.6 705.3L203.9 713.6L207.1 682.8L210.4 710.1L213.6 692.6L216.9 692.1L220.1 712.1L223.4 701.9L226.6 707.7L229.9 711.5L233.1 716.9L236.4 682.8L239.6 682.8L242.9 702.9L246.1 703.9L249.4 683.2L252.6 699L255.9 682.8L259.1 693.8L262.4 698.3L265.6 703.3L268.9 709.7L272.1 692.1L275.4 696.4L278.6 683.3L281.9 707.7L285.1 704.5L288.4 687.9L291.6 725L294.9 697.9L298.1 699.8L301.3 693.9L304.6 701.2L307.8 701.6L311.1 688.9L314.3 702.5L317.6 720L320.8 724.9L324.1 708.9L327.3 700.7L330.6 695.8L333.8 715.4L337.1 719.6L340.3 734.9L343.6 700.4L346.8 691.5L350.1 689.5L353.3 710L356.6 716.1L359.8 697.8L363.1 693.2L366.3 682.8L369.6 709.7L372.8 686.7L376.1 716.9L379.3 705.6L382.6 682.8L385.8 692.5L389.1 725.6L392.3 713.3L395.6 710.1L398.8 737.4L402.1 716.1L405.3 718.4L408.6 719.4"/>
<path d="M132.4 696.6L135.7 711.5L138.9 690.1L142.2 716.3L145.4 723.3L148.6 695.4L151.9 707.4L155.1 683.4L158.4 701.7L161.6 714L164.9 713.9L168.1 694.2L171.4 707.5L174.6 706.2L177.9 701.6L181.1 704.7L184.4 728.5L187.6 682.8L190.9 690L194.1 711.4L197.4 698L200.6 705.2L203.9 705L207.1 698.3L210.4 704.2L213.6 693.1L216.9 701.3L220.1 709.9L223.4 717.9L226.6 709L229.9 696.8L233.1 696.6L236.4 682.8L239.6 694.7L242.9 685.6L246.1 687.3L249.4 690.4L252.6 695.4L255.9 698.8L259.1 699.3L262.4 684.7L265.6 694.4L268.9 710.5L272.1 696L275.4 700.4L278.6 696.6L281.9 718.7L285.1 720.2L288.4 733L291.6 691.4L294.9 710.3L298.1 684.5L301.3 709.8L304.6 701.5L307.8 693L311.1 718.3L314.3 697L317.6 682.8L320.8 724L324.1 701L327.3 715.4L330.6 695.7L333.8 694.6L337.1 682.8L340.3 684.9L343.6 713.2L346.8 713L350.1 682.8L353.3 702.6L356.6 704.6L359.8 695.1L363.1 712.3L366.3 690.5L369.6 711.1L372.8 702.9L376.1 709.2L379.3 682.8L382.6 699.5L385.8 707.6L389.1 700L392.3 708L395.6 697.6L398.8 729.8L402.1 699.5L405.3 710.1L408.6 736"/>
<path d="M132.4 709.8L135.7 692.7L138.9 682.8L142.2 682.8L145.4 704.4L148.6 703.4L151.9 693.6L155.1 693.4L158.4 728.5L161.6 706.5L164.9 697.9L168.1 694.6L171.4 691.7L174.6 701.4L177.9 693.8L181.1 701.6L184.4 691.4L187.6 711.2L190.9 700.1L194.1 682.8L197.4 739.7L200.6 702.3L203.9 692L207.1 682.8L210.4 703.3L213.6 693.4L216.9 724.4L220.1 704.8L223.4 692.9L226.6 682.8L229.9 710.5L233.1 682.8L236.4 701.8L239.6 697.8L242.9 682.8L246.1 692.2L249.4 717.9L252.6 682.8L255.9 682.8L259.1 682.8L262.4 698.2L265.6 703.7L268.9 711.3L272.1 699.9L275.4 682.8L278.6 687.8L281.9 691.9L285.1 692.1L288.4 682.8L291.6 704.2L294.9 712.6L298.1 699.2L301.3 699.6L304.6 682.8L307.8 699.6L311.1 683.4L314.3 682.8L317.6 713.4L320.8 702.3L324.1 690.4L327.3 682.8L330.6 703.1L333.8 727.6L337.1 702L340.3 701.9L343.6 718.7L346.8 734.3L350.1 708.3L353.3 716.3L356.6 705.9L359.8 712.3L363.1 713.8L366.3 717.5L369.6 689.6L372.8 711.5L376.1 711.2L379.3 705.2L382.6 698L385.8 720.1L389.1 704.6L392.3 689.5L395.6 723.3L398.8 697.7L402.1 727.5L405.3 682.8L408.6 717.4"/>
<path d="M132.4 721.6L135.7 692.2L138.9 714.8L142.2 694.2L145.4 689.4L148.6 698.5L151.9 714.3L155.1 719.2L158.4 721.4L161.6 709.1L164.9 699.6L168.1 682.8L171.4 687.6L174.6 721L177.9 682.8L181.1 709.2L184.4 706L187.6 682.8L190.9 703.3L194.1 692.1L197.4 702.1L200.6 698L203.9 696.8L207.1 687.3L210.4 682.8L213.6 729.7L216.9 687.9L220.1 694.3L223.4 696.9L226.6 696.3L229.9 688.6L233.1 709.8L236.4 695.6L239.6 689.6L242.9 690L246.1 704.5L249.4 682.8L252.6 702L255.9 716.3L259.1 714.8L262.4 709.3L265.6 682.8L268.9 711.6L272.1 701.8L275.4 715.2L278.6 687.9L281.9 690.6L285.1 718.3L288.4 684.2L291.6 714.2L294.9 704L298.1 682.8L301.3 692.8L304.6 687.8L307.8 682.8L311.1 682.8L314.3 695.4L317.6 688L320.8 691.9L324.1 684.8L327.3 699.4L330.6 711.8L333.8 717L337.1 706.4L340.3 694.4L343.6 699.6L346.8 713L350.1 719.4L353.3 700.7L356.6 684.4L359.8 710.1L363.1 717.2L366.3 694.7L369.6 714.8L372.8 700L376.1 707L379.3 712.3L382.6 731.1L385.8 690.6L389.1 718.4L392.3 724.2L395.6 711L398.8 734.3L402.1 706.3L405.3 698.9L408.6 698.6"/>
<path d="M132.4 684.6L135.7 682.8L138.9 704.9L142.2 699.9L145.4 682.8L148.6 726.1L151.9 703.7L155.1 682.8L158.4 682.8L161.6 696.6L164.9 720.1L168.1 694.9L171.4 713L174.6 722.9L177.9 710.3L181.1 697L184.4 682.8L187.6 692L190.9 718.2L194.1 698.4L197.4 684.3L200.6 693.5L203.9 697.1L207.1 718.2L210.4 694.8L213.6 732L216.9 704.6L220.1 704L223.4 686L226.6 707.2L229.9 704.1L233.1 712.9L236.4 685.4L239.6 700.5L242.9 682.8L246.1 682.8L249.4 730.5L252.6 687.2L255.9 684.8L259.1 712.3L262.4 698.1L265.6 740.5L268.9 701.5L272.1 708.1L275.4 690.3L278.6 712.9L281.9 697.3L285.1 737.3L288.4 684.4L291.6 703.1L294.9 709L298.1 685.2L301.3 690.6L304.6 682.8L307.8 682.8L311.1 700.9L314.3 682.8L317.6 682.8L320.8 683.7L324.1 702.3L327.3 699.9L330.6 719.3L333.8 722.4L337.1 700.3L340.3 684.1L343.6 712L346.8 692.3L350.1 695L353.3 701.7L356.6 725.5L359.8 745.5L363.1 725.9L366.3 694L369.6 710.8L372.8 726.2L376.1 693.6L379.3 708.8L382.6 696.6L385.8 698.7L389.1 711.6L392.3 714.6L395.6 700.9L398.8 719.2L402.1 697.2L405.3 713.8L408.6 719.3"/>
<path d="M132.4 687.7L135.7 682.8L138.9 685.5L142.2 705.5L145.4 714.9L148.6 716.7L151.9 715.2L155.1 726L158.4 693.3L161.6 712.8L164.9 687.3L168.1 725.7L171.4 713.1L174.6 683L177.9 709.6L181.1 716.8L184.4 687L187.6 706.9L190.9 711.2L194.1 725.9L197.4 690.7L200.6 722.9L203.9 684.8L207.1 688.5L210.4 723.7L213.6 714.9L216.9 689.5L220.1 721.6L223.4 710.4L226.6 703.8L229.9 695.7L233.1 682.8L236.4 696L239.6 711.3L242.9 698.3L246.1 708L249.4 693.6L252.6 715L255.9 682.8L259.1 706.1L262.4 686.7L265.6 703.8L268.9 710.3L272.1 714.8L275.4 706.5L278.6 713.7L281.9 682.8L285.1 697.9L288.4 682.8L291.6 701.2L294.9 682.8L298.1 718.5L301.3 701.5L304.6 689.5L307.8 687.7L311.1 698.9L314.3 684.3L317.6 682.8L320.8 707.1L324.1 685.1L327.3 709.4L330.6 689.1L333.8 685.7L337.1 731.5L340.3 708L343.6 719.5L346.8 699.5L350.1 699.3L353.3 700.9L356.6 732.5L359.8 715L363.1 708.3L366.3 700.1L369.6 697L372.8 722.2L376.1 706.8L379.3 707L382.6 726.9L385.8 722.4L389.1 721.9L392.3 741.7L395.6 710.8L398.8 701.4L402.1 691.2L405.3 715L408.6 720.4"/>
<path d="M132.4 709.2L135.7 682.8L138.9 682.8L142.2 696L145.4 695.5L148.6 682.8L151.9 696.6L155.1 709.6L158.4 695.6L161.6 730.1L164.9 709.7L168.1 686.4L171.4 694.2L174.6 682.8L177.9 730.9L181.1 696.6L184.4 693.6L187.6 711.8L190.9 692L194.1 686.6L197.4 696.9L200.6 713.7L203.9 714.2L207.1 682.8L210.4 682.8L213.6 709L216.9 694.8L220.1 689.9L223.4 717.3L226.6 706.2L229.9 690.8L233.1 709.7L236.4 683.2L239.6 687.9L242.9 726.1L246.1 692.1L249.4 702.2L252.6 688.9L255.9 690.4L259.1 682.8L262.4 682.8L265.6 718.8L268.9 732.8L272.1 706.7L275.4 702.2L278.6 686.4L281.9 694.9L285.1 718L288.4 734.1L291.6 706.2L294.9 703.5L298.1 718.8L301.3 700.4L304.6 682.8L307.8 683.9L311.1 691.8L314.3 687.1L317.6 682.8L320.8 682.8L324.1 710.3L327.3 716.8L330.6 715.9L333.8 700.6L337.1 687.5L340.3 698.2L343.6 706.1L346.8 696.1L350.1 716.6L353.3 690.7L356.6 682.8L359.8 715.2L363.1 720.6L366.3 698.1L369.6 712L372.8 724.5L376.1 682.8L379.3 712.3L382.6 687.9L385.8 718.1L389.1 713.6L392.3 724.6L395.6 708L398.8 709.1L402.1 719.7L405.3 752.9L408.6 723.3"/>
<path d="M132.4 682.8L135.7 694.1L138.9 693L142.2 718.8L145.4 702L148.6 697.2L151.9 702.3L155.1 688.6L158.4 706.9L161.6 682.8L164.9 692.3L168.1 702.4L171.4 682.8L174.6 682.8L177.9 687.2L181.1 723.9L184.4 712.1L187.6 702.7L190.9 713.4L194.1 711.1L197.4 689.9L200.6 682.8L203.9 718.5L207.1 691.1L210.4 713.3L213.6 682.8L216.9 699.8L220.1 682.8L223.4 712.9L226.6 712.7L229.9 706.1L233.1 713.9L236.4 687.7L239.6 703.3L242.9 708.3L246.1 683.9L249.4 704.6L252.6 698.6L255.9 703.8L259.1 695.3L262.4 700.1L265.6 708.3L268.9 702.4L272.1 706.3L275.4 682.8L278.6 710.2L281.9 684.7L285.1 712L288.4 682.8L291.6 686.8L294.9 702L298.1 708.7L301.3 691.8L304.6 682.8L307.8 707.2L311.1 712.3L314.3 682.8L317.6 684.5L320.8 692.4L324.1 696.6L327.3 682.8L330.6 688.4L333.8 714.6L337.1 686.1L340.3 686.9L343.6 724.8L346.8 720.5L350.1 725.9L353.3 701.7L356.6 701.3L359.8 699.1L363.1 685.1L366.3 682.8L369.6 695.4L372.8 695L376.1 716.3L379.3 721.4L382.6 683.6L385.8 687.1L389.1 713.6L392.3 733.8L395.6 736.6L398.8 708.4L402.1 717.1L405.3 738.4L408.6 705.9"/>
<path d="M132.4 682.8L135.7 715.8L138.9 686.7L142.2 682.8L145.4 725L148.6 696.2L151.9 694.2L155.1 709.2L158.4 723.5L161.6 708.3L164.9 704L168.1 706.8L171.4 705.8L174.6 703.6L177.9 682.8L181.1 707.4L184.4 682.8L187.6 691.5L190.9 701L194.1 697.1L197.4 705.6L200.6 700.2L203.9 708.3L207.1 729.8L210.4 687.5L213.6 721.2L216.9 730L220.1 692.8L223.4 698.2L226.6 700.2L229.9 707.8L233.1 691.9L236.4 691.2L239.6 697.4L242.9 701L246.1 719.6L249.4 688.5L252.6 707.7L255.9 709.5L259.1 702.8L262.4 704L265.6 689.5L268.9 690.7L272.1 704.1L275.4 699.2L278.6 692.7L281.9 715.5L285.1 699.2L288.4 697.5L291.6 695L294.9 715.4L298.1 712.2L301.3 704.7L304.6 682.8L307.8 724.6L311.1 682.8L314.3 701L317.6 686.1L320.8 682.8L324.1 682.8L327.3 705.3L330.6 708.7L333.8 699.1L337.1 691.1L340.3 682.8L343.6 700.6L346.8 699.3L350.1 682.8L353.3 693.8L356.6 697.6L359.8 687.7L363.1 723.3L366.3 682.8L369.6 725.2L372.8 723.3L376.1 698.7L379.3 730.3L382.6 723L385.8 726.1L389.1 712.1L392.3 696.6L395.6 682.8L398.8 722.2L402.1 713.4L405.3 706.5L408.6 747.5"/>
<path d="M132.4 701.6L135.7 682.8L138.9 694.5L142.2 706.8L145.4 682.8L148.6 704.9L151.9 694L155.1 682.8L158.4 705.5L161.6 705.2L164.9 682.8L168.1 705.6L171.4 689.1L174.6 692.6L177.9 682.8L181.1 686.2L184.4 725.4L187.6 712L190.9 695.1L194.1 698.7L197.4 686.1L200.6 697.2L203.9 686.6L207.1 704.4L210.4 685.9L213.6 706L216.9 712.2L220.1 693L223.4 705.1L226.6 704.5L229.9 691.3L233.1 682.8L236.4 711.5L239.6 697.9L242.9 694.1L246.1 715.6L249.4 682.8L252.6 686.1L255.9 685.5L259.1 682.9L262.4 698.2L265.6 690.8L268.9 721.2L272.1 687.1L275.4 712.6L278.6 682.8L281.9 691.5L285.1 696.2L288.4 682.8L291.6 706L294.9 688.9L298.1 692.3L301.3 708.8L304.6 682.8L307.8 706.9L311.1 712.2L314.3 705.4L317.6 723.8L320.8 695.1L324.1 717L327.3 694.5L330.6 682.8L333.8 701.7L337.1 727.3L340.3 684.2L343.6 728.1L346.8 682.8L350.1 713.7L353.3 708.8L356.6 696.3L359.8 682.8L363.1 717.1L366.3 710.6L369.6 703.8L372.8 721.1L376.1 694.1L379.3 736.1L382.6 720L385.8 696.1L389.1 742.5L392.3 712.1L395.6 719L398.8 731L402.1 702.5L405.3 702.4L408.6 714.2"/>
<path d="M132.4 682.8L135.7 691.5L138.9 717.5L142.2 682.8L145.4 701.1L148.6 693.3L151.9 711.9L155.1 682.8L158.4 682.8L161.6 692.3L164.9 729L168.1 684.2L171.4 682.8L174.6 682.8L177.9 708.7L181.1 714.4L184.4 697.2L187.6 704.4L190.9 682.8L194.1 702.5L197.4 695.4L200.6 688.8L203.9 713.6L207.1 715.4L210.4 694.8L213.6 705.5L216.9 682.8L220.1 682.8L223.4 720.7L226.6 682.8L229.9 684.4L233.1 716.9L236.4 682.8L239.6 685L242.9 708.5L246.1 688.6L249.4 682.8L252.6 682.8L255.9 697.9L259.1 682.9L262.4 703.6L265.6 696.7L268.9 698.9L272.1 712.4L275.4 685.6L278.6 682.8L281.9 695.1L285.1 698.3L288.4 691.1L291.6 682.8L294.9 706.7L298.1 682.8L301.3 682.8L304.6 706.8L307.8 719.1L311.1 690.9L314.3 682.8L317.6 722.4L320.8 682.8L324.1 697L327.3 692.9L330.6 711.9L333.8 708.2L337.1 685.7L340.3 715.1L343.6 711.9L346.8 703.2L350.1 695.2L353.3 699.8L356.6 683.7L359.8 701.1L363.1 702.9L366.3 708.8L369.6 692.9L372.8 699.9L376.1 709.7L379.3 720.2L382.6 714.6L385.8 705.4L389.1 702.8L392.3 731.9L395.6 712L398.8 699.9L402.1 718.4L405.3 689L408.6 708.4"/>
<path d="M132.4 703.7L135.7 691.8L138.9 691.6L142.2 710L145.4 717.1L148.6 687.2L151.9 682.8L155.1 688.4L158.4 682.8L161.6 701.9L164.9 709.8L168.1 697.2L171.4 682.8L174.6 682.8L177.9 696L181.1 689.2L184.4 705.1L187.6 682.8L190.9 688.9L194.1 691.1L197.4 713.6L200.6 710.3L203.9 706.3L207.1 703.3L210.4 712.7L213.6 682.8L216.9 713.6L220.1 693.9L223.4 724.1L226.6 713.7L229.9 717.3L233.1 691L236.4 738.8L239.6 705.3L242.9 703.1L246.1 688.3L249.4 700.2L252.6 682.8L255.9 716.4L259.1 706.1L262.4 700L265.6 721.2L268.9 708.4L272.1 704.3L275.4 686.8L278.6 700.8L281.9 682.8L285.1 682.8L288.4 697.8L291.6 687.3L294.9 682.8L298.1 700L301.3 682.8L304.6 717.6L307.8 684.5L311.1 683.3L314.3 717L317.6 682.8L320.8 682.8L324.1 698.5L327.3 698.6L330.6 719.1L333.8 703.6L337.1 682.8L340.3 700.9L343.6 697.8L346.8 722.5L350.1 704.9L353.3 687.7L356.6 693L359.8 705.5L363.1 701.1L366.3 704.4L369.6 700.6L372.8 689.3L376.1 710L379.3 718.7L382.6 688.8L385.8 686.4L389.1 721.4L392.3 720.5L395.6 726.5L398.8 745L402.1 714.1L405.3 700.6L408.6 720.4"/>
<path d="M132.4 684.8L135.7 700.7L138.9 708.3L142.2 701.3L145.4 709L148.6 702.6L151.9 704L155.1 682.8L158.4 725.3L161.6 685.6L164.9 693.5L168.1 688.9L171.4 694.7L174.6 691.8L177.9 682.8L181.1 725.1L184.4 704.9L187.6 697.6L190.9 697.7L194.1 713.3L197.4 711.6L200.6 704L203.9 713.4L207.1 682.8L210.4 716L213.6 699.9L216.9 689.2L220.1 682.8L223.4 703.5L226.6 682.8L229.9 704.3L233.1 689.6L236.4 706.1L239.6 682.8L242.9 704.2L246.1 689.7L249.4 682.8L252.6 711.8L255.9 712.1L259.1 683.9L262.4 695.3L265.6 721.6L268.9 700.8L272.1 686.8L275.4 682.8L278.6 682.8L281.9 704.1L285.1 708.4L288.4 688.3L291.6 682.8L294.9 684.4L298.1 682.8L301.3 703.8L304.6 692L307.8 712.1L311.1 728.3L314.3 711.9L317.6 694.7L320.8 694.4L324.1 682.8L327.3 682.8L330.6 730L333.8 706.1L337.1 682.8L340.3 707.4L343.6 682.8L346.8 698L350.1 699.4L353.3 689.1L356.6 692.6L359.8 714.3L363.1 696.5L366.3 715.6L369.6 682.8L372.8 697.6L376.1 729.4L379.3 688L382.6 688.5L385.8 705.2L389.1 700L392.3 712.7L395.6 724.4L398.8 724L402.1 715.8L405.3 707L408.6 717"/>
<path d="M132.4 705.4L135.7 682.8L138.9 687.5L142.2 682.8L145.4 697L148.6 701.5L151.9 688.5L155.1 682.8L158.4 685.4L161.6 702.4L164.9 688L168.1 709.1L171.4 686.3L174.6 683.9L177.9 708.2L181.1 686.9L184.4 713.7L187.6 682.8L190.9 695.5L194.1 687.1L197.4 690.4L200.6 700.9L203.9 682.8L207.1 730.6L210.4 694.1L213.6 738.3L216.9 711L220.1 699.1L223.4 682.8L226.6 724.6L229.9 707.5L233.1 717.6L236.4 682.8L239.6 682.8L242.9 690.7L246.1 702.8L249.4 704.8L252.6 710.4L255.9 682.8L259.1 682.8L262.4 709.7L265.6 683L268.9 697.2L272.1 726.4L275.4 685.5L278.6 699L281.9 698.4L285.1 693.7L288.4 699L291.6 701.7L294.9 696.8L298.1 723.6L301.3 711.1L304.6 682.8L307.8 717.9L311.1 696.5L314.3 689.3L317.6 689L320.8 711.4L324.1 696L327.3 688.7L330.6 689.3L333.8 720L337.1 691.4L340.3 691.5L343.6 738.2L346.8 707.4L350.1 708.7L353.3 702L356.6 701.2L359.8 688.9L363.1 716.5L366.3 704L369.6 682.8L372.8 703.7L376.1 731.7L379.3 709.2L382.6 706L385.8 696.8L389.1 699.7L392.3 718.8L395.6 723.9L398.8 720.1L402.1 728.1L405.3 702.1L408.6 709.2"/>
<path d="M132.4 698.4L135.7 710.8L138.9 688.4L142.2 712.4L145.4 682.8L148.6 717.3L151.9 717.7L155.1 693.3L158.4 703.6L161.6 705.2L164.9 687.8L168.1 691.9L171.4 690.4L174.6 705.1L177.9 711.6L181.1 686.6L184.4 687L187.6 710.2L190.9 687.2L194.1 693.7L197.4 710.1L200.6 699.1L203.9 714.6L207.1 701.3L210.4 700.5L213.6 691.3L216.9 682.8L220.1 691.4L223.4 682.8L226.6 711.6L229.9 710.2L233.1 707.4L236.4 711.7L239.6 727.7L242.9 682.8L246.1 693.9L249.4 706.2L252.6 689.5L255.9 693.6L259.1 714.1L262.4 707.5L265.6 682.8L268.9 721.2L272.1 684L275.4 696.6L278.6 703.1L281.9 682.8L285.1 720.4L288.4 704.3L291.6 701L294.9 708.8L298.1 698L301.3 708.2L304.6 702.8L307.8 682.8L311.1 682.8L314.3 706.9L317.6 686.1L320.8 708.7L324.1 694.9L327.3 712.5L330.6 682.8L333.8 705.4L337.1 697.4L340.3 702.6L343.6 704.2L346.8 704.1L350.1 705L353.3 707.9L356.6 693.8L359.8 725.9L363.1 706.6L366.3 691.1L369.6 705.6L372.8 683.9L376.1 721.5L379.3 700L382.6 706.4L385.8 707.1L389.1 715.8L392.3 701.1L395.6 703.9L398.8 722.3L402.1 704.8L405.3 713.5L408.6 712.9"/>
<path d="M132.4 687.2L135.7 682.8L138.9 682.8L142.2 690.9L145.4 682.8L148.6 682.8L151.9 737.7L155.1 697.8L158.4 711.4L161.6 697.6L164.9 708.2L168.1 699.3L171.4 711.3L174.6 699.4L177.9 701.6L181.1 682.8L184.4 711.9L187.6 697L190.9 695.9L194.1 702.2L197.4 701.1L200.6 697.6L203.9 716.9L207.1 686.6L210.4 682.8L213.6 697.2L216.9 682.8L220.1 694L223.4 719.8L226.6 722.1L229.9 682.8L233.1 706L236.4 682.8L239.6 700.4L242.9 717.9L246.1 686.6L249.4 716.4L252.6 696.9L255.9 734.2L259.1 689L262.4 686.7L265.6 719.4L268.9 713.1L272.1 705.6L275.4 682.8L278.6 697.4L281.9 688.6L285.1 718.4L288.4 704.4L291.6 686.3L294.9 685.7L298.1 682.8L301.3 689.9L304.6 693.8L307.8 704.1L311.1 712.5L314.3 686.8L317.6 721.7L320.8 682.8L324.1 697.5L327.3 712.6L330.6 696.9L333.8 708.5L337.1 710.9L340.3 691.6L343.6 705.3L346.8 721L350.1 683.3L353.3 718.8L356.6 702.1L359.8 684.5L363.1 713.6L366.3 712L369.6 694.8L372.8 712.7L376.1 714.7L379.3 708.3L382.6 709.7L385.8 721.4L389.1 722.5L392.3 713.1L395.6 686.1L398.8 700.7L402.1 711.2L405.3 734.2L408.6 725.5"/>
<path d="M132.4 722.1L135.7 702.9L138.9 704.6L142.2 696L145.4 719.6L148.6 683.3L151.9 706.1L155.1 698.7L158.4 693.2L161.6 710.7L164.9 710.7L168.1 706.5L171.4 694.9L174.6 682.8L177.9 682.8L181.1 682.8L184.4 682.8L187.6 707.5L190.9 719.9L194.1 682.8L197.4 718.5L200.6 728.7L203.9 717.5L207.1 727.5L210.4 704.1L213.6 697.4L216.9 706.3L220.1 714.1L223.4 711L226.6 705.1L229.9 713.3L233.1 690.2L236.4 709.2L239.6 682.8L242.9 722.1L246.1 719.7L249.4 731.8L252.6 682.8L255.9 689.7L259.1 685.1L262.4 682.8L265.6 682.8L268.9 713.9L272.1 695.7L275.4 693.9L278.6 682.8L281.9 700.6L285.1 727.9L288.4 699.3L291.6 710.4L294.9 682.8L298.1 720.4L301.3 699.9L304.6 697.5L307.8 704.9L311.1 694.4L314.3 705.7L317.6 703L320.8 696.8L324.1 684.1L327.3 687.1L330.6 718.7L333.8 722.6L337.1 698.6L340.3 698.4L343.6 695L346.8 708.6L350.1 723.4L353.3 707.6L356.6 697.2L359.8 723.2L363.1 720.8L366.3 682.8L369.6 691.7L372.8 727.6L376.1 714.6L379.3 707.7L382.6 715.2L385.8 692.5L389.1 694.7L392.3 712.6L395.6 716.4L398.8 745.2L402.1 716.4L405.3 723L408.6 742.5"/>
<path d="M132.4 688L135.7 693.1L138.9 700L142.2 706L145.4 705L148.6 715L151.9 684L155.1 682.8L158.4 700.7L161.6 682.8L164.9 725.4L168.1 689.4L171.4 691.7L174.6 709.1L177.9 705.8L181.1 712L184.4 700.6L187.6 683.7L190.9 697.2L194.1 689.5L197.4 682.8L200.6 696.5L203.9 715.7L207.1 688.3L210.4 693.5L213.6 693.3L216.9 713.4L220.1 682.8L223.4 710.8L226.6 703.4L229.9 699.4L233.1 688.6L236.4 692.8L239.6 726.9L242.9 703.1L246.1 691.9L249.4 708.4L252.6 682.8L255.9 714.1L259.1 698L262.4 739.4L265.6 735L268.9 710.2L272.1 704.7L275.4 689.1L278.6 705.1L281.9 708.5L285.1 682.8L288.4 682.8L291.6 705.1L294.9 690.2L298.1 705.6L301.3 701.1L304.6 697.1L307.8 694.7L311.1 706.2L314.3 715.9L317.6 727.9L320.8 696.5L324.1 700.7L327.3 704.4L330.6 682.8L333.8 682.8L337.1 696.7L340.3 706.6L343.6 713.5L346.8 694.3L350.1 710.4L353.3 700L356.6 696.7L359.8 720.2L363.1 682.8L366.3 682.8L369.6 725.7L372.8 706.1L376.1 718.4L379.3 704.9L382.6 696.2L385.8 690.5L389.1 682.8L392.3 715L395.6 696.6L398.8 716.8L402.1 719.9L405.3 715L408.6 718.1"/>
<path d="M132.4 716.8L135.7 699L138.9 700.6L142.2 696.9L145.4 721.7L148.6 721.3L151.9 690.8L155.1 705.3L158.4 697.6L161.6 688.7L164.9 685.8L168.1 726.3L171.4 706.5L174.6 682.8L177.9 715.1L181.1 728.3L184.4 701.1L187.6 700.9L190.9 700.4L194.1 711.9L197.4 690.9L200.6 705.6L203.9 682.8L207.1 718.6L210.4 686.3L213.6 697.8L216.9 707L220.1 713.5L223.4 691.7L226.6 690.5L229.9 722.4L233.1 692L236.4 683.3L239.6 689.1L242.9 709L246.1 707.4L249.4 710L252.6 700.3L255.9 690L259.1 705.4L262.4 712L265.6 683.3L268.9 690.9L272.1 696.8L275.4 718.7L278.6 690.7L281.9 697.5L285.1 696.3L288.4 700.8L291.6 705.8L294.9 682.8L298.1 682.8L301.3 710.3L304.6 682.8L307.8 702.3L311.1 702.6L314.3 704.3L317.6 687.1L320.8 706.5L324.1 708.7L327.3 713.1L330.6 722.7L333.8 689.6L337.1 690.4L340.3 695.3L343.6 701L346.8 719.4L350.1 713L353.3 703.3L356.6 729.8L359.8 714.6L363.1 690.1L366.3 720.9L369.6 682.8L372.8 687.8L376.1 700.3L379.3 699.3L382.6 705L385.8 707.9L389.1 698L392.3 700.9L395.6 722.4L398.8 722.9L402.1 712.2L405.3 703.6L408.6 717.1"/>
<path d="M132.4 682.8L135.7 682.8L138.9 712.1L142.2 709.8L145.4 694.9L148.6 726.2L151.9 698.1L155.1 709.4L158.4 707.3L161.6 697.3L164.9 701.5L168.1 722.5L171.4 712.3L174.6 682.8L177.9 708.4L181.1 682.8L184.4 684L187.6 708.8L190.9 682.8L194.1 717L197.4 694L200.6 708.8L203.9 704.8L207.1 713.5L210.4 723.6L213.6 682.8L216.9 700.6L220.1 701.8L223.4 718.8L226.6 709.7L229.9 696.3L233.1 682.8L236.4 682.8L239.6 683.7L242.9 702.2L246.1 699.9L249.4 717.2L252.6 699.1L255.9 708.7L259.1 682.8L262.4 705L265.6 693.7L268.9 691.9L272.1 716.5L275.4 694.5L278.6 694.8L281.9 697.1L285.1 682.8L288.4 682.8L291.6 725.2L294.9 699.3L298.1 702.8L301.3 702.5L304.6 687.6L307.8 693.9L311.1 683.8L314.3 699.2L317.6 700.9L320.8 717.5L324.1 722.3L327.3 686.9L330.6 714.6L333.8 698.7L337.1 731.2L340.3 702.9L343.6 716.8L346.8 697L350.1 719.9L353.3 691L356.6 685L359.8 682.8L363.1 706.9L366.3 695.5L369.6 699.6L372.8 693.2L376.1 706.3L379.3 706L382.6 690.4L385.8 737L389.1 743.6L392.3 716.6L395.6 721L398.8 728.9L402.1 727.1L405.3 704.5L408.6 721.7"/>
<path d="M132.4 722.2L135.7 692.8L138.9 693.8L142.2 686.4L145.4 694.5L148.6 682.8L151.9 699.8L155.1 716.5L158.4 705.5L161.6 698.7L164.9 701.1L168.1 701.1L171.4 683.3L174.6 682.8L177.9 728L181.1 710.3L184.4 682.8L187.6 727L190.9 692.6L194.1 713.4L197.4 698.2L200.6 690.7L203.9 713.6L207.1 696.6L210.4 682.8L213.6 712.8L216.9 700.5L220.1 698.1L223.4 698.7L226.6 708.1L229.9 723.5L233.1 717.8L236.4 701.4L239.6 699.3L242.9 688.7L246.1 725L249.4 682.8L252.6 682.8L255.9 694.9L259.1 701.8L262.4 705.8L265.6 695.6L268.9 730.1L272.1 717.2L275.4 682.8L278.6 682.8L281.9 682.8L285.1 718.4L288.4 689.7L291.6 682.8L294.9 694.6L298.1 683.7L301.3 700.4L304.6 705.6L307.8 682.8L311.1 701L314.3 699.6L317.6 693L320.8 710L324.1 689.7L327.3 713.8L330.6 703.1L333.8 699L337.1 720.9L340.3 715.6L343.6 698.3L346.8 682.8L350.1 705.7L353.3 695.1L356.6 710.4L359.8 706.4L363.1 703.9L366.3 696.8L369.6 718.8L372.8 730.3L376.1 727.2L379.3 689.8L382.6 701.7L385.8 711.1L389.1 682.8L392.3 728.6L395.6 696L398.8 733.8L402.1 707.4L405.3 722.2L408.6 690.4"/>
<path d="M132.4 682.8L135.7 682.9L138.9 682.8L142.2 682.8L145.4 692.1L148.6 705.5L151.9 711.1L155.1 684.2L158.4 682.8L161.6 692.3L164.9 682.8L168.1 682.8L171.4 689.4L174.6 713.2L177.9 701.4L181.1 682.8L184.4 727.1L187.6 682.8L190.9 698.2L194.1 683.4L197.4 711.7L200.6 703.7L203.9 716.2L207.1 702.5L210.4 699.1L213.6 720.1L216.9 682.8L220.1 682.8L223.4 682.8L226.6 696.1L229.9 690.4L233.1 686.6L236.4 704.9L239.6 703.1L242.9 689.7L246.1 682.8L249.4 726.1L252.6 697.4L255.9 686L259.1 699.7L262.4 704.6L265.6 689.5L268.9 710.7L272.1 698.2L275.4 685.8L278.6 711.9L281.9 689.1L285.1 714.9L288.4 696.7L291.6 691.7L294.9 715.5L298.1 696.3L301.3 706.7L304.6 714.2L307.8 691.7L311.1 686.8L314.3 705.2L317.6 717.7L320.8 682.8L324.1 706.1L327.3 719.8L330.6 695.4L333.8 719.8L337.1 693.3L340.3 689.4L343.6 696.8L346.8 715.3L350.1 694.8L353.3 693.2L356.6 703.8L359.8 717.6L363.1 682.8L366.3 718L369.6 718.2L372.8 690.6L376.1 705.3L379.3 713.1L382.6 708.1L385.8 736.4L389.1 712L392.3 703.4L395.6 706L398.8 723.5L402.1 704L405.3 706.6L408.6 708.6"/>
</g>
<g fill="none" stroke="rgb(242,204,153)" stroke-opacity="0.5" stroke-width="1.25" stroke-linejoin="round">
<path d="M411 741.3L414.2 726.7L417.5 703.6L420.7 725.8L424 687.5L427.2 719.4L430.5 731.5L433.7 733L437 735L440.3 731.3L443.5 719.2L446.8 727.7L450 728.5L453.3 712.7L456.5 733.4L459.8 722.2L463 751.3L466.3 773.1L469.5 773L472.8 783.8L476 740.8L479.3 739.7L482.5 755.4L485.8 736.3L489 761.4L492.3 745.3L495.5 759.3L498.8 749.2L502 780.4L505.3 776.5L508.5 774.3L511.8 743.6L515 778.4L518.3 754.5L521.5 743.5L524.8 769L528 788.1L531.3 750.5L534.5 786.9L537.8 770.4L541 774.6L544.3 790.5L547.5 774.4L550.8 768.2L554.1 799.4L557.3 744.5L560.6 802L563.8 767.9L567.1 820.1L570.3 775.3L573.6 824.9L576.8 769L580.1 840.5L583.3 808.1L586.6 803.3L589.8 804L593.1 836.4L596.3 810.6L599.6 834.2L602.8 825.6L606.1 800L609.3 867.8L612.6 822.5L615.8 838.8L619.1 843.1L622.3 842.6L625.6 896.9L628.8 860.6L632.1 843.6L635.3 858.1L638.6 855.1L641.8 829.5L645.1 907.4"/>
<path d="M411 707.1L414.2 737.3L417.5 721.6L420.7 732.6L424 722.3L427.2 717.3L430.5 758.2L433.7 724.7L437 716.8L440.3 736.4L443.5 750.3L446.8 715.8L450 726.3L453.3 746.1L456.5 748.2L459.8 745.1L463 737.2L466.3 743.1L469.5 732.1L472.8 751.5L476 747.6L479.3 751.2L482.5 743.1L485.8 760.4L489 753.2L492.3 743.8L495.5 777.4L498.8 759.4L502 751.9L505.3 756.1L508.5 785.8L511.8 762.3L515 764.1L518.3 749.7L521.5 757.4L524.8 755.7L528 758.1L531.3 756.7L534.5 767.6L537.8 755.4L541 788.9L544.3 794.8L547.5 765.8L550.8 785.6L554.1 766L557.3 787.2L560.6 788.8L563.8 761L567.1 754.7L570.3 802.5L573.6 803.2L576.8 794.2L580.1 789.1L583.3 789.9L586.6 761.3L589.8 838.9L593.1 767.6L596.3 815.7L599.6 810L602.8 824.2L606.1 793.4L609.3 800.2L612.6 832.8L615.8 799.9L619.1 831.7L622.3 803.9L625.6 845.7L628.8 856L632.1 845.2L635.3 864.6L638.6 823.6L641.8 840.2L645.1 852.7"/>
<path d="M411 735.6L414.2 709.4L417.5 716.7L420.7 733.8L424 721.5L427.2 730.3L430.5 707.9L433.7 739.8L437 724.9L440.3 733.1L443.5 735.3L446.8 704.6L450 745.6L453.3 723.7L456.5 746.4L459.8 728.8L463 741.5L466.3 716L469.5 722.5L472.8 755.3L476 732.4L479.3 745.7L482.5 740.9L485.8 730.5L489 744.9L492.3 747.4L495.5 759.3L498.8 745.8L502 743.5L505.3 775.6L508.5 779.6L511.8 757.5L515 742L518.3 762.8L521.5 751.5L524.8 782.8L528 765.6L531.3 759L534.5 764.7L537.8 757.1L541 772.8L544.3 758.7L547.5 778.9L550.8 789.3L554.1 782.1L557.3 764.1L560.6 783.9L563.8 777.4L567.1 767.8L570.3 788L573.6 807.2L576.8 795.7L580.1 789.8L583.3 788.4L586.6 800.7L589.8 813.6L593.1 808.2L596.3 834.7L599.6 830.5L602.8 838.1L606.1 810.5L609.3 826.4L612.6 820L615.8 832.8L619.1 835.6L622.3 901.2L625.6 811.4L628.8 851.7L632.1 830.6L635.3 859.5L638.6 864.1L641.8 902.3L645.1 858.8"/>
<path d="M411 707.9L414.2 720.6L417.5 720.5L420.7 691.9L424 745.4L427.2 707.2L430.5 742.7L433.7 743.7L437 745L440.3 729.5L443.5 716.4L446.8 719.9L450 748.2L453.3 724.3L456.5 736.6L459.8 728.9L463 732.9L466.3 750.6L469.5 726.9L472.8 738.8L476 740.7L479.3 745.8L482.5 741.9L485.8 733.4L489 744.1L492.3 746.7L495.5 781.8L498.8 764.4L502 751.7L505.3 758.2L508.5 755.4L511.8 783.6L515 754L518.3 745.5L521.5 823.4L524.8 750.8L528 759.6L531.3 755.8L534.5 777.2L537.8 761.9L541 764.2L544.3 795.7L547.5 803.1L550.8 781.3L554.1 759.6L557.3 788.6L560.6 769.1L563.8 790.8L567.1 797L570.3 773.5L573.6 810L576.8 888L580.1 796.3L583.3 784L586.6 824.4L589.8 794.5L593.1 809.6L596.3 792L599.6 791L602.8 792.8L606.1 785.9L609.3 809.6L612.6 855.7L615.8 853.3L619.1 810.3L622.3 817.2L625.6 884.3L628.8 865.1L632.1 845.4L635.3 838.7L638.6 846.6L641.8 787.7L645.1 845.1"/>
<path d="M411 745L414.2 738.5L417.5 713.8L420.7 728.5L424 727.7L427.2 711.4L430.5 710.6L433.7 719.6L437 728L440.3 745.4L443.5 729.6L446.8 729L450 727.1L453.3 748L456.5 754.6L459.8 736.7L463 736.9L466.3 741L469.5 746.7L472.8 758.6L476 758.5L479.3 733.8L482.5 741.7L485.8 740.9L489 758.6L492.3 736.8L495.5 729.2L498.8 753.2L502 746.4L505.3 749.8L508.5 757L511.8 746.1L515 756.9L518.3 743.1L521.5 744L524.8 769.1L528 762.7L531.3 786.9L534.5 774.4L537.8 761.2L541 766.9L544.3 763.4L547.5 776.1L550.8 784.5L554.1 774L557.3 782.2L560.6 763.7L563.8 808.4L567.1 801.7L570.3 810.1L573.6 773.8L576.8 789.8L580.1 784.7L583.3 832.9L586.6 799.8L589.8 855.2L593.1 816.2L596.3 799L599.6 842.1L602.8 857.5L606.1 814.3L609.3 805.4L612.6 819.5L615.8 799L619.1 805.5L622.3 784.9L625.6 826.4L628.8 809.4L632.1 848.4L635.3 856.2L638.6 887L641.8 863.6L645.1 856.6"/>
<path d="M411 733.1L414.2 708.1L417.5 691.9L420.7 701.2L424 714L427.2 725.3L430.5 734.7L433.7 714.3L437 740L440.3 731.6L443.5 734.7L446.8 716.5L450 727L453.3 703.8L456.5 731.4L459.8 728.2L463 749.2L466.3 752L469.5 726.6L472.8 753.7L476 759.2L479.3 739.7L482.5 770.2L485.8 736.1L489 731.1L492.3 750.5L495.5 777.1L498.8 759.9L502 730.9L505.3 748.7L508.5 777L511.8 748.4L515 753.8L518.3 744.6L521.5 789.8L524.8 787.8L528 750.2L531.3 744.9L534.5 779.1L537.8 778.3L541 774.8L544.3 779.9L547.5 772.6L550.8 792.3L554.1 790.8L557.3 803.5L560.6 795.3L563.8 777L567.1 784.9L570.3 787.2L573.6 794.1L576.8 783.4L580.1 784.4L583.3 796.9L586.6 796.5L589.8 804L593.1 843.7L596.3 840.9L599.6 804.9L602.8 818.9L606.1 812.7L609.3 800.6L612.6 834.8L615.8 782.8L619.1 834.5L622.3 827.8L625.6 809.9L628.8 854.5L632.1 870.5L635.3 854.1L638.6 868.2L641.8 828.7L645.1 875.3"/>
<path d="M411 735.3L414.2 702.6L417.5 746.2L420.7 695.8L424 730.6L427.2 710.2L430.5 723.1L433.7 725.4L437 724.8L440.3 739.7L443.5 721.8L446.8 730.6L450 745.7L453.3 727.3L456.5 703.9L459.8 725.6L463 731.8L466.3 724.6L469.5 746L472.8 741.2L476 733.4L479.3 735.4L482.5 724.2L485.8 738.3L489 775.9L492.3 728.3L495.5 779L498.8 750.6L502 748.9L505.3 747.2L508.5 741.9L511.8 765.8L515 750.7L518.3 748L521.5 757.2L524.8 784L528 759.6L531.3 765.2L534.5 791L537.8 755.8L541 787.8L544.3 819.5L547.5 775L550.8 750.6L554.1 790.4L557.3 772.9L560.6 801.7L563.8 793L567.1 794.6L570.3 776.4L573.6 813.7L576.8 801.2L580.1 804.5L583.3 808.8L586.6 812L589.8 809.3L593.1 805L596.3 779.8L599.6 802.4L602.8 808.9L606.1 844.6L609.3 843.7L612.6 800.3L615.8 813.4L619.1 815.6L622.3 843.7L625.6 848.5L628.8 859.4L632.1 827.4L635.3 839.7L638.6 919.5L641.8 823.8L645.1 909.7"/>
<path d="M411 727.1L414.2 729.9L417.5 719.2L420.7 718.1L424 730.8L427.2 717.1L430.5 721.3L433.7 724L437 732.1L440.3 726.4L443.5 723.3L446.8 738.2L450 733.7L453.3 714.9L456.5 730.7L459.8 754L463 746.3L466.3 759.5L469.5 718.2L472.8 747.3L476 720.8L479.3 753L482.5 735.5L485.8 744.4L489 756.1L492.3 740.6L495.5 743.3L498.8 747.8L502 764.2L505.3 776.3L508.5 749.3L511.8 746.3L515 756.8L518.3 742.6L521.5 741.8L524.8 768.9L528 760.2L531.3 794.3L534.5 757.6L537.8 796.5L541 795.9L544.3 773.5L547.5 780.2L550.8 737.7L554.1 779.2L557.3 779.8L560.6 766.3L563.8 811.1L567.1 755.7L570.3 804.8L573.6 792.4L576.8 797.4L580.1 773.7L583.3 813.7L586.6 794.9L589.8 809.2L593.1 827.6L596.3 794.5L599.6 761.6L602.8 824.4L606.1 823.8L609.3 812.8L612.6 808L615.8 805.4L619.1 833.4L622.3 852.4L625.6 831.3L628.8 880.4L632.1 840.4L635.3 869.9L638.6 855.3L641.8 859.3L645.1 897.4"/>
<path d="M411 726.8L414.2 734.6L417.5 734.3L420.7 720.1L424 731.8L427.2 727.4L430.5 730.2L433.7 740.1L437 729.4L440.3 731.3L443.5 736L446.8 719.8L450 744.6L453.3 746.5L456.5 708.2L459.8 746.4L463 733.2L466.3 728.5L469.5 749.9L472.8 731.9L476 749.5L479.3 737.2L482.5 729.7L485.8 774.5L489 741.1L492.3 737.3L495.5 748.7L498.8 781.3L502 734L505.3 774.3L508.5 751L511.8 762.7L515 756.7L518.3 775.4L521.5 751L524.8 792.8L528 763.5L531.3 751.8L534.5 775.1L537.8 787L541 788.7L544.3 797L547.5 775.5L550.8 804.3L554.1 793L557.3 767.6L560.6 774.2L563.8 776.2L567.1 788.9L570.3 798.1L573.6 786.9L576.8 793.2L580.1 815.4L583.3 821.6L586.6 838.2L589.8 756.1L593.1 798.7L596.3 800.1L599.6 806.7L602.8 802.3L606.1 803.1L609.3 839.7L612.6 858.2L615.8 804.9L619.1 853.7L622.3 788.5L625.6 860.4L628.8 894.6L632.1 876.6L635.3 831L638.6 837.9L641.8 852.6L645.1 908.6"/>
<path d="M411 723.3L414.2 721.6L417.5 726.3L420.7 706.7L424 695.8L427.2 713.1L430.5 717.2L433.7 732.6L437 728.3L440.3 774.3L443.5 722.7L446.8 723.9L450 752.4L453.3 732.6L456.5 761.1L459.8 763.3L463 754.4L466.3 750.1L469.5 721.1L472.8 763.1L476 749.7L479.3 755.5L482.5 760.5L485.8 750.9L489 739.5L492.3 746.6L495.5 741.6L498.8 769.5L502 755.1L505.3 759.3L508.5 755L511.8 758.5L515 743.6L518.3 762.2L521.5 747.6L524.8 768L528 766L531.3 778.9L534.5 791.3L537.8 782L541 780.4L544.3 796.3L547.5 771.4L550.8 777.7L554.1 785.6L557.3 761.1L560.6 770.9L563.8 829.2L567.1 799L570.3 798.5L573.6 807.3L576.8 793.8L580.1 793.2L583.3 798.8L586.6 830.5L589.8 846.8L593.1 801L596.3 811.7L599.6 829.2L602.8 798.5L606.1 825L609.3 849.6L612.6 855.9L615.8 894.3L619.1 827.6L622.3 842.3L625.6 872.3L628.8 858.5L632.1 884.9L635.3 856.8L638.6 816.1L641.8 840.2L645.1 820.6"/>
<path d="M411 721.6L414.2 737.3L417.5 728.1L420.7 714.6L424 698.4L427.2 721L430.5 715.8L433.7 721.3L437 728.6L440.3 763.1L443.5 723.4L446.8 722.3L450 714.9L453.3 745.7L456.5 721.2L459.8 712.2L463 735.6L466.3 742.7L469.5 724.4L472.8 742L476 725.1L479.3 763.6L482.5 729.6L485.8 746.6L489 738.4L492.3 745L495.5 758L498.8 746.2L502 752.7L505.3 775.4L508.5 800.2L511.8 772.4L515 758.3L518.3 763L521.5 744.7L524.8 748.2L528 754L531.3 777.6L534.5 769.9L537.8 767.8L541 818.7L544.3 779.5L547.5 793.8L550.8 785.9L554.1 777.3L557.3 790.5L560.6 757.4L563.8 788.9L567.1 813.6L570.3 827.2L573.6 789.9L576.8 825.4L580.1 816.8L583.3 796.5L586.6 779.3L589.8 815.4L593.1 884L596.3 840.2L599.6 826.1L602.8 790.5L606.1 811.6L609.3 830.4L612.6 858.1L615.8 772.2L619.1 846.7L622.3 807.9L625.6 838.3L628.8 823.3L632.1 875.4L635.3 862.5L638.6 914.6L641.8 900L645.1 845.9"/>
<path d="M411 691.5L414.2 715.1L417.5 711.9L420.7 720.7L424 712.1L427.2 711.9L430.5 733.6L433.7 731.6L437 718.7L440.3 734.2L443.5 716.8L446.8 730.9L450 745.6L453.3 725.2L456.5 715.4L459.8 736.9L463 736.1L466.3 764.3L469.5 737.8L472.8 734.3L476 730.3L479.3 716.2L482.5 733.4L485.8 747.8L489 738.3L492.3 759.3L495.5 766.6L498.8 763.9L502 745.2L505.3 746.2L508.5 772.8L511.8 750.2L515 748.9L518.3 751.4L521.5 781.9L524.8 737.1L528 786.8L531.3 784.9L534.5 798.5L537.8 780.4L541 816.2L544.3 793L547.5 765.3L550.8 755.9L554.1 776.5L557.3 789.1L560.6 785.4L563.8 806.2L567.1 815.3L570.3 754.6L573.6 792.3L576.8 794.4L580.1 810.7L583.3 788.7L586.6 830.7L589.8 808.6L593.1 839.3L596.3 799.5L599.6 812.6L602.8 792L606.1 800.6L609.3 812.4L612.6 810.8L615.8 834.7L619.1 843.3L622.3 837.3L625.6 843.2L628.8 815.6L632.1 835L635.3 844.3L638.6 838.4L641.8 882L645.1 883.5"/>
<path d="M411 707.2L414.2 711.7L417.5 716.8L420.7 719.3L424 741L427.2 716.2L430.5 714.3L433.7 731.9L437 735L440.3 744.3L443.5 714.5L446.8 725.9L450 733.3L453.3 732.3L456.5 711.7L459.8 738.9L463 760.9L466.3 745.4L469.5 736.2L472.8 728.1L476 731.6L479.3 742.8L482.5 733.3L485.8 736.4L489 728.2L492.3 756.9L495.5 764.1L498.8 751L502 761.5L505.3 756.7L508.5 783.6L511.8 756L515 755.3L518.3 741.8L521.5 758.1L524.8 755.1L528 760.1L531.3 793.4L534.5 782.4L537.8 788.2L541 779.6L544.3 764.5L547.5 776.7L550.8 793.9L554.1 761.9L557.3 775.9L560.6 777.4L563.8 804.5L567.1 791.1L570.3 805.4L573.6 804.4L576.8 789.1L580.1 800.8L583.3 780.5L586.6 795.4L589.8 818.2L593.1 816.6L596.3 818.6L599.6 815.2L602.8 837.6L606.1 834.9L609.3 820.5L612.6 788.5L615.8 906.8L619.1 893.8L622.3 817.8L625.6 886L628.8 838.5L632.1 882.3L635.3 827.7L638.6 859.8L641.8 845.7L645.1 890.4"/>
<path d="M411 730.1L414.2 719.5L417.5 690.9L420.7 719.9L424 707.8L427.2 741.7L430.5 716.4L433.7 701.8L437 725.1L440.3 711.7L443.5 734.1L446.8 714.7L450 737.2L453.3 710.7L456.5 749L459.8 733.5L463 751.4L466.3 734.5L469.5 769.6L472.8 739.2L476 754.7L479.3 742.7L482.5 762.2L485.8 728.3L489 729.5L492.3 759.1L495.5 742.6L498.8 739.9L502 760.1L505.3 755.4L508.5 726.9L511.8 759.3L515 748.9L518.3 743.8L521.5 771.2L524.8 770.1L528 790.1L531.3 761.4L534.5 757L537.8 816.4L541 789.8L544.3 790.5L547.5 763.7L550.8 768.5L554.1 789.2L557.3 734.3L560.6 758.1L563.8 789.6L567.1 761.2L570.3 804.3L573.6 787L576.8 765.5L580.1 795.3L583.3 799.6L586.6 800.6L589.8 817.2L593.1 777.4L596.3 798.3L599.6 823.5L602.8 820.3L606.1 821.4L609.3 889L612.6 810.2L615.8 809.7L619.1 844.7L622.3 828.7L625.6 865.2L628.8 835.8L632.1 894.7L635.3 828.3L638.6 848.4L641.8 882.6L645.1 864.9"/>
<path d="M411 728.5L414.2 726.9L417.5 729.1L420.7 702.1L424 732L427.2 719.1L430.5 726L433.7 716.3L437 733.2L440.3 739.2L443.5 732.2L446.8 737.2L450 733.4L453.3 728.1L456.5 738.9L459.8 731.8L463 739L466.3 744.4L469.5 753.9L472.8 768.5L476 762.4L479.3 745.9L482.5 734L485.8 752.3L489 737.3L492.3 739L495.5 728.4L498.8 772.8L502 771.8L505.3 742.7L508.5 761.8L511.8 764.8L515 781.9L518.3 781.9L521.5 748.9L524.8 767.7L528 747.3L531.3 768.4L534.5 772.3L537.8 768.4L541 760.1L544.3 774.2L547.5 818.1L550.8 767.5L554.1 776.2L557.3 799L560.6 796.3L563.8 780.6L567.1 822.4L570.3 822.4L573.6 797.9L576.8 802.1L580.1 796.8L583.3 814.9L586.6 812.4L589.8 834.6L593.1 779.2L596.3 835L599.6 813.7L602.8 855.3L606.1 851.3L609.3 816.9L612.6 823.7L615.8 817.1L619.1 809.2L622.3 833.7L625.6 866.8L628.8 839.4L632.1 812.1L635.3 851.1L638.6 829.4L641.8 861L645.1 888.2"/>
<path d="M411 730.5L414.2 733.8L417.5 708.1L420.7 687.4L424 719.9L427.2 716.2L430.5 732.8L433.7 737.2L437 722.9L440.3 728.4L443.5 739.6L446.8 721.3L450 704L453.3 735.5L456.5 733.4L459.8 727.3L463 759.3L466.3 735.3L469.5 729.4L472.8 745L476 771.1L479.3 730.1L482.5 756.2L485.8 730.2L489 760.2L492.3 744.8L495.5 746.6L498.8 763.4L502 792.4L505.3 733.1L508.5 756L511.8 747.4L515 774.9L518.3 759L521.5 748L524.8 775.2L528 778.3L531.3 767.3L534.5 784.3L537.8 777.3L541 792L544.3 762.6L547.5 788.7L550.8 793.1L554.1 762L557.3 848.3L560.6 808.8L563.8 790.4L567.1 782.8L570.3 787.6L573.6 791.5L576.8 803.7L580.1 776.2L583.3 782.9L586.6 833.2L589.8 783.3L593.1 854.7L596.3 807.8L599.6 786.8L602.8 799.5L606.1 861.8L609.3 824.1L612.6 799.7L615.8 859.9L619.1 844.5L622.3 821.3L625.6 813.8L628.8 803.3L632.1 846.9L635.3 865.4L638.6 905.1L641.8 906.5L645.1 897.6"/>
<path d="M411 699.3L414.2 710.3L417.5 725.4L420.7 715.2L424 721.9L427.2 713.7L430.5 722.2L433.7 742.1L437 734L440.3 709.9L443.5 721.4L446.8 715.5L450 710.7L453.3 745.2L456.5 731.2L459.8 770.7L463 750.8L466.3 745.2L469.5 732.6L472.8 732.8L476 756.9L479.3 738L482.5 768.2L485.8 762.4L489 765.4L492.3 754.9L495.5 741.1L498.8 772.8L502 746.6L505.3 757L508.5 772.8L511.8 754.5L515 751.8L518.3 741.6L521.5 778.8L524.8 791.5L528 757.2L531.3 790.9L534.5 806.2L537.8 805.4L541 796.5L544.3 770.8L547.5 758.1L550.8 767.9L554.1 787.7L557.3 810.2L560.6 808.1L563.8 786.4L567.1 804.2L570.3 787.7L573.6 766.7L576.8 786.5L580.1 824.7L583.3 822.7L586.6 811L589.8 811.7L593.1 867.8L596.3 826.8L599.6 812.7L602.8 793.2L606.1 810.1L609.3 834L612.6 814.8L615.8 844.1L619.1 823.7L622.3 919L625.6 836.4L628.8 876.1L632.1 830.7L635.3 864.7L638.6 891.9L641.8 870.5L645.1 817.8"/>
<path d="M411 739.9L414.2 729.3L417.5 708.3L420.7 714L424 730.9L427.2 710.4L430.5 732.5L433.7 712.6L437 729.1L440.3 740.4L443.5 722.4L446.8 732.6L450 737.5L453.3 753.2L456.5 750.4L459.8 738.1L463 745.4L466.3 733L469.5 734.3L472.8 736.3L476 737.8L479.3 757.5L482.5 740.3L485.8 735.5L489 738.8L492.3 749.6L495.5 759.1L498.8 745L502 739.6L505.3 758.5L508.5 774L511.8 744.4L515 750.3L518.3 732.6L521.5 798.9L524.8 746.7L528 750.5L531.3 772.5L534.5 764.9L537.8 784.5L541 762.5L544.3 779.4L547.5 780.2L550.8 785.1L554.1 810.5L557.3 778.1L560.6 765.2L563.8 793.5L567.1 779.7L570.3 810L573.6 870L576.8 795.8L580.1 771.6L583.3 775.6L586.6 793.2L589.8 804.8L593.1 769.6L596.3 800.5L599.6 818.6L602.8 803.9L606.1 841.5L609.3 823.6L612.6 862.4L615.8 809L619.1 841.9L622.3 768.8L625.6 820.3L628.8 870.1L632.1 833.4L635.3 834L638.6 821.6L641.8 909.2L645.1 904.6"/>
<path d="M411 715.8L414.2 721.2L417.5 716.8L420.7 700.3L424 723.9L427.2 711.4L430.5 711.3L433.7 742.1L437 725.8L440.3 713.8L443.5 734L446.8 728.3L450 734.9L453.3 728.2L456.5 735.1L459.8 737.1L463 728.2L466.3 768.3L469.5 741.7L472.8 709.5L476 759.1L479.3 724.4L482.5 748.6L485.8 769.9L489 745L492.3 749L495.5 769.7L498.8 761.8L502 760.9L505.3 753L508.5 759.1L511.8 732.6L515 750.3L518.3 755.6L521.5 769.1L524.8 768.6L528 749L531.3 757.6L534.5 738.5L537.8 768.2L541 800.9L544.3 779.7L547.5 764.4L550.8 776.1L554.1 770.7L557.3 759.1L560.6 763L563.8 780.2L567.1 805.6L570.3 780.1L573.6 779.1L576.8 769.6L580.1 794.2L583.3 780.9L586.6 841.4L589.8 805.3L593.1 749.4L596.3 840.4L599.6 817.4L602.8 812.7L606.1 818.9L609.3 801.7L612.6 798.4L615.8 804.9L619.1 822.7L622.3 842.7L625.6 892.8L628.8 849.9L632.1 865.6L635.3 874.9L638.6 831.3L641.8 823.7L645.1 833.8"/>
<path d="M411 736.5L414.2 698.6L417.5 723.7L420.7 706.2L424 755.1L427.2 700.6L430.5 705L433.7 719.3L437 710.6L440.3 736.5L443.5 738.6L446.8 742L450 760.2L453.3 717.4L456.5 732.1L459.8 727.6L463 729.8L466.3 740.9L469.5 770.5L472.8 729L476 777.1L479.3 747.7L482.5 736.7L485.8 730.6L489 761.9L492.3 752.5L495.5 749.4L498.8 744.1L502 750.4L505.3 750.3L508.5 760.4L511.8 733.2L515 759.5L518.3 773.1L521.5 772L524.8 742.4L528 768.3L531.3 773.1L534.5 789.7L537.8 786.5L541 793.1L544.3 775.5L547.5 789.1L550.8 773.4L554.1 769.9L557.3 755.3L560.6 784.1L563.8 781.4L567.1 766.6L570.3 818.1L573.6 785.1L576.8 801.3L580.1 803.7L583.3 797.1L586.6 807.5L589.8 826.5L593.1 792.8L596.3 784.8L599.6 838.9L602.8 829.2L606.1 802.8L609.3 845L612.6 795.2L615.8 827.7L619.1 839.4L622.3 836.5L625.6 854.8L628.8 830.3L632.1 801L635.3 832.7L638.6 876.2L641.8 859.1L645.1 863.9"/>
<path d="M411 712.7L414.2 732.6L417.5 711.2L420.7 721.9L424 724L427.2 707.3L430.5 733.4L433.7 733.5L437 734.7L440.3 710.5L443.5 744.1L446.8 724.5L450 730.1L453.3 736.2L456.5 744.3L459.8 726.7L463 744.8L466.3 737L469.5 737.9L472.8 741L476 732L479.3 742.8L482.5 761.3L485.8 733.4L489 728.4L492.3 772.4L495.5 734.1L498.8 747.9L502 744.5L505.3 758.7L508.5 753.6L511.8 764.6L515 749.5L518.3 742.9L521.5 797.7L524.8 762.2L528 775.1L531.3 751.4L534.5 759.9L537.8 764.2L541 792.1L544.3 766.1L547.5 785.5L550.8 770.7L554.1 764.7L557.3 793L560.6 783.9L563.8 769.3L567.1 804.3L570.3 771.3L573.6 802.2L576.8 792.2L580.1 845.5L583.3 812L586.6 851.6L589.8 819.6L593.1 800.6L596.3 827.7L599.6 786.2L602.8 793L606.1 816.5L609.3 857.7L612.6 846.1L615.8 795.3L619.1 782.9L622.3 844.2L625.6 802.3L628.8 813.7L632.1 827.6L635.3 821.3L638.6 833L641.8 849.9L645.1 894.5"/>
<path d="M411 708.4L414.2 717L417.5 723.1L420.7 724.4L424 718.2L427.2 709.1L430.5 720.3L433.7 708.5L437 724.5L440.3 744.7L443.5 734.6L446.8 691.9L450 738L453.3 737.9L456.5 726.3L459.8 743.2L463 749.3L466.3 734.4L469.5 734.7L472.8 726.3L476 759.3L479.3 715.3L482.5 748.2L485.8 741.1L489 749.6L492.3 745.1L495.5 750.6L498.8 740.8L502 740.5L505.3 781.1L508.5 754.1L511.8 778.7L515 767.9L518.3 760.5L521.5 763.9L524.8 760.2L528 782.8L531.3 767.1L534.5 764.6L537.8 782.6L541 774.4L544.3 787.1L547.5 767.5L550.8 774.4L554.1 792.4L557.3 796.9L560.6 761.7L563.8 782.9L567.1 774.5L570.3 806.5L573.6 776.6L576.8 765.2L580.1 778.2L583.3 781.1L586.6 855.4L589.8 795.4L593.1 823.5L596.3 795.9L599.6 822.3L602.8 846.1L606.1 840.6L609.3 851.3L612.6 845.1L615.8 819.5L619.1 842.5L622.3 839.1L625.6 828.5L628.8 903.4L632.1 818.6L635.3 813.3L638.6 842.3L641.8 890.2L645.1 852"/>
<path d="M411 719.7L414.2 708L417.5 733.9L420.7 722.1L424 720.6L427.2 738.4L430.5 711.4L433.7 747.5L437 737.9L440.3 712.4L443.5 724.4L446.8 736.3L450 717.4L453.3 719.8L456.5 751.6L459.8 773.7L463 763.9L466.3 745.6L469.5 740.2L472.8 729.2L476 756.1L479.3 737.5L482.5 744.1L485.8 748.5L489 762.4L492.3 759.6L495.5 724.7L498.8 745.2L502 768.2L505.3 776L508.5 771.4L511.8 774L515 742.6L518.3 757.5L521.5 761.5L524.8 776.8L528 769.6L531.3 762.5L534.5 787.2L537.8 772.9L541 786.5L544.3 755.8L547.5 779.6L550.8 786.5L554.1 802.9L557.3 781.6L560.6 755.5L563.8 766.6L567.1 814.3L570.3 812.5L573.6 789.2L576.8 781.1L580.1 820.6L583.3 793L586.6 803.2L589.8 781.5L593.1 761.8L596.3 815.5L599.6 858.4L602.8 811.1L606.1 794.1L609.3 852.3L612.6 800.8L615.8 779.4L619.1 818.6L622.3 844.7L625.6 821L628.8 843.1L632.1 845.6L635.3 851L638.6 903.6L641.8 863L645.1 882.4"/>
<path d="M411 735L414.2 713.1L417.5 729.7L420.7 710.9L424 720.6L427.2 717.7L430.5 735.8L433.7 739.7L437 717.6L440.3 715.2L443.5 713L446.8 717.6L450 722.6L453.3 729.5L456.5 720.6L459.8 760.5L463 758.3L466.3 767.8L469.5 745.9L472.8 752L476 742.1L479.3 762.1L482.5 752.3L485.8 745.7L489 756L492.3 780.2L495.5 777.8L498.8 753.8L502 729L505.3 719.9L508.5 758.8L511.8 757.7L515 756.2L518.3 764.7L521.5 768.8L524.8 751.4L528 760.1L531.3 796.8L534.5 809.6L537.8 775.6L541 779.3L544.3 795.4L547.5 785.5L550.8 778.9L554.1 776.8L557.3 809.7L560.6 769.8L563.8 798.2L567.1 775.9L570.3 805.1L573.6 801.1L576.8 794.5L580.1 807.6L583.3 775.7L586.6 793.1L589.8 801L593.1 812.6L596.3 812.5L599.6 803.4L602.8 821.6L606.1 830.9L609.3 885.6L612.6 829.9L615.8 837.9L619.1 842.4L622.3 832.4L625.6 834.8L628.8 869.5L632.1 842.6L635.3 840.3L638.6 862.4L641.8 910.9L645.1 834.5"/>
<path d="M411 714L414.2 723.1L417.5 727.8L420.7 743.3L424 750.1L427.2 713.3L430.5 734.8L433.7 756.8L437 745.1L440.3 719.2L443.5 721.7L446.8 733.4L450 745.5L453.3 720.2L456.5 746.1L459.8 728.1L463 752.1L466.3 750.3L469.5 748.1L472.8 759.5L476 747.1L479.3 749.6L482.5 765.7L485.8 741.6L489 744L492.3 735.7L495.5 780.8L498.8 745.3L502 770L505.3 759.8L508.5 768.6L511.8 755.2L515 756.8L518.3 775.8L521.5 763.8L524.8 750L528 767.2L531.3 752.5L534.5 781.4L537.8 788.8L541 781.1L544.3 807.5L547.5 807.4L550.8 774.8L554.1 796.9L557.3 776.9L560.6 783.6L563.8 783.1L567.1 795L570.3 774.6L573.6 790.6L576.8 775.8L580.1 832.2L583.3 794.4L586.6 804.4L589.8 868L593.1 797L596.3 825.1L599.6 777.4L602.8 827.4L606.1 811.4L609.3 875.5L612.6 842.8L615.8 852.9L619.1 842.8L622.3 869L625.6 817.4L628.8 896.3L632.1 873.4L635.3 810.9L638.6 875.4L641.8 864.3L645.1 917.4"/>
<path d="M411 715.8L414.2 720.5L417.5 726.5L420.7 718.2L424 746.6L427.2 728.2L430.5 716.5L433.7 733.1L437 726.1L440.3 754.3L443.5 716.1L446.8 710.1L450 764.5L453.3 733.5L456.5 751.5L459.8 737.5L463 737.3L466.3 748.6L469.5 743.5L472.8 736.8L476 724L479.3 752.3L482.5 767.9L485.8 767.8L489 735.3L492.3 776.2L495.5 737.9L498.8 749.7L502 758.2L505.3 760.8L508.5 752L511.8 757.4L515 762.5L518.3 764.1L521.5 775.2L524.8 780.8L528 774.3L531.3 763.3L534.5 787.9L537.8 776.1L541 768.1L544.3 748.6L547.5 785.2L550.8 793.2L554.1 800L557.3 768.8L560.6 782L563.8 763L567.1 799.6L570.3 801.5L573.6 782.6L576.8 809.7L580.1 823.5L583.3 828.5L586.6 793.1L589.8 812.7L593.1 837.6L596.3 812.2L599.6 812.1L602.8 817L606.1 847.7L609.3 819L612.6 787.7L615.8 850.3L619.1 914.9L622.3 856.8L625.6 888.6L628.8 861.1L632.1 847.6L635.3 829.7L638.6 882.8L641.8 866.6L645.1 902.9"/>
<path d="M411 722.9L414.2 730.3L417.5 696.7L420.7 726.7L424 732.7L427.2 727.3L430.5 744.9L433.7 729.9L437 739.5L440.3 706.8L443.5 741.6L446.8 744L450 723L453.3 706.4L456.5 721.9L459.8 736.2L463 767.2L466.3 724.8L469.5 748L472.8 753.6L476 755.5L479.3 737.7L482.5 756.1L485.8 731.4L489 727.2L492.3 752.2L495.5 743.1L498.8 726L502 776L505.3 770.4L508.5 771L511.8 748.2L515 749.5L518.3 739.7L521.5 761.9L524.8 759.8L528 769.4L531.3 796.6L534.5 765.5L537.8 771.2L541 756.6L544.3 809.7L547.5 802.8L550.8 744.9L554.1 745L557.3 815.3L560.6 820.3L563.8 803L567.1 824.2L570.3 774L573.6 797.3L576.8 816L580.1 797.3L583.3 788.4L586.6 804.4L589.8 794.5L593.1 857L596.3 806.8L599.6 804.5L602.8 783.1L606.1 860.9L609.3 818.1L612.6 841.5L615.8 827.1L619.1 842.9L622.3 842.1L625.6 831L628.8 862.5L632.1 828.3L635.3 863.5L638.6 875.4L641.8 888.4L645.1 842.6"/>
<path d="M411 752.4L414.2 722.3L417.5 705.2L420.7 699.5L424 723.2L427.2 719.4L430.5 732.9L433.7 709.3L437 727L440.3 735.3L443.5 742.7L446.8 708.9L450 724.2L453.3 721.6L456.5 730.7L459.8 731L463 742.8L466.3 726.3L469.5 746.1L472.8 722.8L476 744.8L479.3 777.8L482.5 731.1L485.8 775.3L489 771.1L492.3 745.7L495.5 760.7L498.8 763.2L502 741.2L505.3 729.2L508.5 756.2L511.8 741.4L515 766.3L518.3 736.2L521.5 795L524.8 802.5L528 757.9L531.3 741.6L534.5 777L537.8 764.7L541 774.3L544.3 755.9L547.5 756.3L550.8 786.7L554.1 755.6L557.3 749.4L560.6 789.5L563.8 798.1L567.1 786.8L570.3 775.2L573.6 827.8L576.8 788.5L580.1 812.6L583.3 779.4L586.6 780.9L589.8 812.1L593.1 845.1L596.3 791.6L599.6 803.6L602.8 809.6L606.1 856.1L609.3 818.4L612.6 833.6L615.8 851.8L619.1 851.9L622.3 885.3L625.6 809.6L628.8 853.9L632.1 858.5L635.3 816.2L638.6 864.6L641.8 867.8L645.1 855.3"/>
<path d="M411 709.2L414.2 736L417.5 722.2L420.7 717.9L424 724.7L427.2 713.4L430.5 726.2L433.7 735.2L437 716.2L440.3 727L443.5 726.7L446.8 732.8L450 726.4L453.3 731.2L456.5 726L459.8 723.2L463 734.2L466.3 717.2L469.5 748.7L472.8 747.8L476 733.8L479.3 732.4L482.5 732.6L485.8 731.5L489 735.3L492.3 760L495.5 748.7L498.8 767.7L502 761.9L505.3 763.3L508.5 742.4L511.8 787.5L515 754.7L518.3 728.1L521.5 756.9L524.8 756.9L528 777.9L531.3 755.3L534.5 773.6L537.8 766.8L541 798.2L544.3 774.5L547.5 787.2L550.8 795.9L554.1 763.3L557.3 786.3L560.6 779.6L563.8 819.3L567.1 805L570.3 780.6L573.6 833.2L576.8 786.1L580.1 797.4L583.3 804.9L586.6 818.7L589.8 795.6L593.1 804.5L596.3 804.5L599.6 820.8L602.8 801.9L606.1 811.2L609.3 789.7L612.6 870.5L615.8 841.6L619.1 867.5L622.3 820.4L625.6 798.3L628.8 801.8L632.1 812.6L635.3 867.7L638.6 848.9L641.8 843L645.1 827.1"/>
<path d="M411 741.6L414.2 700.9L417.5 715.4L420.7 715.2L424 718.9L427.2 717.4L430.5 728L433.7 767.3L437 743.9L440.3 732.9L443.5 714.3L446.8 753.4L450 755.7L453.3 724.1L456.5 740.8L459.8 704.8L463 728.1L466.3 755.5L469.5 717.3L472.8 753.1L476 763.5L479.3 726.4L482.5 743.1L485.8 771.8L489 789.5L492.3 754L495.5 778.4L498.8 743.4L502 745.9L505.3 765.3L508.5 773.7L511.8 763.7L515 778L518.3 774.9L521.5 785.5L524.8 778.3L528 772.6L531.3 776.2L534.5 773.4L537.8 779.4L541 801.2L544.3 803L547.5 808.9L550.8 799.8L554.1 798.9L557.3 771.4L560.6 777.6L563.8 782.6L567.1 784.1L570.3 756.6L573.6 812.8L576.8 780.7L580.1 788.8L583.3 792.6L586.6 845.5L589.8 821.7L593.1 849.1L596.3 815.2L599.6 839.8L602.8 843.3L606.1 820.6L609.3 828L612.6 788.6L615.8 805.9L619.1 838.6L622.3 783.6L625.6 854.2L628.8 853.9L632.1 831.7L635.3 879L638.6 879L641.8 899.2L645.1 877.2"/>
<path d="M411 727.9L414.2 723.9L417.5 702.6L420.7 719.8L424 719.9L427.2 722.2L430.5 724.2L433.7 741L437 727.1L440.3 719.6L443.5 736.9L446.8 704.5L450 713.9L453.3 750.2L456.5 713.7L459.8 739.3L463 727.5L466.3 748.4L469.5 745.2L472.8 758.8L476 754.4L479.3 763.7L482.5 732.7L485.8 771.7L489 744.8L492.3 765.5L495.5 751L498.8 772.3L502 761.5L505.3 761L508.5 770.6L511.8 759.3L515 758.3L518.3 783.1L521.5 771.2L524.8 765.2L528 763.8L531.3 792.3L534.5 761L537.8 772.5L541 760.4L544.3 771.3L547.5 776.5L550.8 784.9L554.1 776.2L557.3 800.4L560.6 752.6L563.8 830.4L567.1 806L570.3 804.4L573.6 781L576.8 818L580.1 787.4L583.3 802.9L586.6 811.9L589.8 822.6L593.1 823.4L596.3 797.2L599.6 793L602.8 854.9L606.1 843.3L609.3 838L612.6 838.6L615.8 844.6L619.1 791.5L622.3 843.1L625.6 875.7L628.8 852.8L632.1 874.3L635.3 869.6L638.6 853L641.8 841.8L645.1 869.3"/>
<path d="M411 734.6L414.2 700.7L417.5 733.8L420.7 697.7L424 751.7L427.2 719.9L430.5 727.6L433.7 724.4L437 743.7L440.3 721.5L443.5 750.8L446.8 765.3L450 735L453.3 723.2L456.5 747L459.8 728L463 739.5L466.3 744.2L469.5 758.8L472.8 731.1L476 759.4L479.3 755.8L482.5 745.9L485.8 761.2L489 755L492.3 749.8L495.5 730.1L498.8 724.7L502 757.9L505.3 770.7L508.5 749.3L511.8 757.3L515 785.3L518.3 775.4L521.5 739.8L524.8 776L528 766.7L531.3 781.6L534.5 775.4L537.8 761.1L541 815.7L544.3 744.3L547.5 764.1L550.8 800.4L554.1 775.2L557.3 787.2L560.6 765L563.8 802.6L567.1 780.8L570.3 773.6L573.6 773.8L576.8 818.2L580.1 796.2L583.3 816.7L586.6 812.7L589.8 803.3L593.1 786.5L596.3 817.6L599.6 829.9L602.8 794.5L606.1 806.6L609.3 800.1L612.6 777.1L615.8 833.6L619.1 846.8L622.3 834.6L625.6 849L628.8 848.9L632.1 881.9L635.3 875.1L638.6 888.2L641.8 835.3L645.1 881.4"/>
<path d="M411 716.6L414.2 704L417.5 724.2L420.7 697.9L424 706.4L427.2 734.3L430.5 731.6L433.7 704.3L437 731.8L440.3 729.2L443.5 723.5L446.8 715.4L450 727L453.3 741.2L456.5 758.3L459.8 746.8L463 729.4L466.3 747.7L469.5 770.6L472.8 739.4L476 728.8L479.3 760.8L482.5 736L485.8 747.6L489 755.1L492.3 748.9L495.5 752.4L498.8 763.4L502 765.2L505.3 761.4L508.5 771.9L511.8 763.9L515 748.5L518.3 787.5L521.5 766L524.8 770.8L528 786.3L531.3 768.3L534.5 752.4L537.8 748.5L541 770.2L544.3 798.3L547.5 785.1L550.8 787.7L554.1 768.5L557.3 758.6L560.6 775L563.8 757.7L567.1 778L570.3 801.7L573.6 781.3L576.8 770.7L580.1 806.9L583.3 809.9L586.6 805.5L589.8 773.6L593.1 822L596.3 803.6L599.6 824.9L602.8 841.5L606.1 828.1L609.3 849.4L612.6 838.5L615.8 813.9L619.1 815.8L622.3 889L625.6 903.8L628.8 836.1L632.1 854.7L635.3 864.3L638.6 884.2L641.8 813.1L645.1 893"/>
<path d="M411 720.5L414.2 721.6L417.5 714.6L420.7 740.1L424 717.7L427.2 747L430.5 747L433.7 722.9L437 742.9L440.3 744.7L443.5 725.6L446.8 705L450 729.8L453.3 738.7L456.5 768.3L459.8 756.7L463 758.4L466.3 744.9L469.5 756.4L472.8 734L476 737.3L479.3 730.3L482.5 731.9L485.8 747.7L489 784.1L492.3 736L495.5 760.1L498.8 756.7L502 731.9L505.3 756.5L508.5 733.9L511.8 778.9L515 773L518.3 750.2L521.5 756.5L524.8 756.4L528 760.5L531.3 784.4L534.5 756.7L537.8 768.4L541 760.1L544.3 801.9L547.5 782.1L550.8 798.3L554.1 764.5L557.3 742.2L560.6 792.1L563.8 794.4L567.1 811.4L570.3 792.4L573.6 807.9L576.8 814.3L580.1 789.8L583.3 766.9L586.6 820.1L589.8 811.8L593.1 800.7L596.3 788.4L599.6 857.9L602.8 822.2L606.1 823.3L609.3 800.1L612.6 806.7L615.8 832.6L619.1 801.5L622.3 871.9L625.6 831.5L628.8 882.1L632.1 851.1L635.3 828.7L638.6 921.8L641.8 857.5L645.1 850.7"/>
<path d="M411 730.4L414.2 723.2L417.5 718.4L420.7 694.3L424 699.4L427.2 732.3L430.5 715.7L433.7 734.5L437 715.6L440.3 731.5L443.5 705L446.8 726.8L450 752.3L453.3 733.9L456.5 726.7L459.8 732.5L463 740.3L466.3 765.5L469.5 741.3L472.8 748.5L476 738.5L479.3 752.6L482.5 750.7L485.8 737.5L489 728.2L492.3 748.1L495.5 770.5L498.8 745.2L502 748.4L505.3 774.3L508.5 757.5L511.8 733.3L515 782.8L518.3 759.3L521.5 752.7L524.8 757.9L528 776.2L531.3 762.1L534.5 801.6L537.8 779.5L541 786.6L544.3 783.9L547.5 769.1L550.8 779.5L554.1 809.3L557.3 772.3L560.6 776.5L563.8 792.7L567.1 780L570.3 809.6L573.6 773L576.8 802.7L580.1 781.5L583.3 796L586.6 798.9L589.8 867.3L593.1 797.6L596.3 835L599.6 824.7L602.8 802.8L606.1 842.3L609.3 817.7L612.6 787.5L615.8 787.2L619.1 834.7L622.3 841.5L625.6 802.4L628.8 845.6L632.1 837.1L635.3 864.1L638.6 837.9L641.8 859.6L645.1 860.9"/>
<path d="M411 724.3L414.2 731.5L417.5 745.9L420.7 699.5L424 723.1L427.2 707.3L430.5 707.3L433.7 704.8L437 718.3L440.3 726.7L443.5 722.5L446.8 731.2L450 731.9L453.3 735.4L456.5 730.3L459.8 736.5L463 740.9L466.3 729.5L469.5 720.2L472.8 721.3L476 748.6L479.3 729.2L482.5 751.8L485.8 738L489 737.2L492.3 745.3L495.5 751.3L498.8 776.1L502 745L505.3 746.5L508.5 761.5L511.8 770.2L515 752.4L518.3 748.7L521.5 765L524.8 763.3L528 772L531.3 748.7L534.5 778.7L537.8 770.5L541 791.7L544.3 773L547.5 782.3L550.8 770.3L554.1 812.8L557.3 755.8L560.6 762.2L563.8 771.2L567.1 744.2L570.3 780.9L573.6 822.4L576.8 806.3L580.1 816.9L583.3 796.6L586.6 791.2L589.8 801.3L593.1 782.5L596.3 776.7L599.6 837.6L602.8 814L606.1 850.1L609.3 787.2L612.6 821.1L615.8 790.1L619.1 869.4L622.3 835.9L625.6 813.6L628.8 814.8L632.1 879.1L635.3 816.8L638.6 848.7L641.8 854.2L645.1 830.7"/>
<path d="M411 735.7L414.2 740.8L417.5 709.6L420.7 719L424 728.5L427.2 725.9L430.5 730.5L433.7 712L437 725.3L440.3 709.1L443.5 724.2L446.8 735.4L450 741.4L453.3 703.6L456.5 733.5L459.8 715.4L463 746L466.3 741.6L469.5 740.2L472.8 754.8L476 747.5L479.3 733.4L482.5 738.4L485.8 750.7L489 728L492.3 747.2L495.5 756.6L498.8 738.6L502 770.8L505.3 771.9L508.5 766.3L511.8 756L515 751.3L518.3 766.3L521.5 766.1L524.8 775.8L528 757.5L531.3 778.3L534.5 788.3L537.8 757.7L541 776.3L544.3 777.8L547.5 773.4L550.8 792.2L554.1 771.5L557.3 791.6L560.6 785.1L563.8 798.7L567.1 786.7L570.3 780.5L573.6 803.7L576.8 793.5L580.1 813L583.3 792.2L586.6 793.8L589.8 820.4L593.1 809.3L596.3 806.9L599.6 828.6L602.8 812.3L606.1 821.7L609.3 829.7L612.6 798.1L615.8 849.2L619.1 829.2L622.3 829L625.6 839.4L628.8 826.6L632.1 797.2L635.3 850.3L638.6 845.3L641.8 905.1L645.1 909"/>
<path d="M411 710.7L414.2 721.1L417.5 731.9L420.7 722.8L424 718L427.2 714.8L430.5 709.9L433.7 738.7L437 734.4L440.3 729.3L443.5 726.6L446.8 753.4L450 736.8L453.3 749.2L456.5 716.8L459.8 723.3L463 730.4L466.3 747.1L469.5 734.2L472.8 760.4L476 746.1L479.3 758.2L482.5 739.4L485.8 759.5L489 745.9L492.3 750.4L495.5 740.3L498.8 731.2L502 739.2L505.3 760.3L508.5 763.4L511.8 738.6L515 742.1L518.3 741.1L521.5 768.5L524.8 750.3L528 754.6L531.3 776.7L534.5 762.6L537.8 780.1L541 788.1L544.3 770.7L547.5 754L550.8 771.9L554.1 814.3L557.3 764.2L560.6 803.5L563.8 776L567.1 777.4L570.3 820L573.6 785.5L576.8 762L580.1 776.9L583.3 787.9L586.6 794.6L589.8 833.4L593.1 828.3L596.3 810.2L599.6 824.3L602.8 807.9L606.1 786.6L609.3 818.4L612.6 817.1L615.8 848.7L619.1 838.5L622.3 866.8L625.6 832.2L628.8 834.5L632.1 833.9L635.3 827.2L638.6 889.8L641.8 862.4L645.1 829.9"/>
<path d="M411 709.6L414.2 742.2L417.5 748.7L420.7 736.7L424 721.6L427.2 740.3L430.5 721.1L433.7 713.4L437 727L440.3 714.5L443.5 724.1L446.8 760.8L450 738L453.3 733.2L456.5 742.5L459.8 728.3L463 743.7L466.3 725.1L469.5 722.2L472.8 735.6L476 729.9L479.3 716.7L482.5 736.9L485.8 733.4L489 738L492.3 771.7L495.5 760.8L498.8 766.7L502 750.1L505.3 742.7L508.5 747.5L511.8 784.4L515 721.2L518.3 751.2L521.5 762.1L524.8 741.8L528 783.4L531.3 757.9L534.5 769.6L537.8 797.3L541 789.5L544.3 774.9L547.5 775.1L550.8 801.9L554.1 809.5L557.3 788.7L560.6 751.9L563.8 778.3L567.1 811.9L570.3 780.5L573.6 787.6L576.8 779.4L580.1 791L583.3 821.8L586.6 819L589.8 789L593.1 836.6L596.3 785.6L599.6 837.4L602.8 839.1L606.1 794.3L609.3 782.1L612.6 848.6L615.8 843.6L619.1 837.7L622.3 819.9L625.6 854L628.8 807.8L632.1 869.4L635.3 917.7L638.6 854.9L641.8 890.4L645.1 841.4"/>
<path d="M411 721.7L414.2 715.4L417.5 724.3L420.7 715.1L424 700.6L427.2 733.9L430.5 708.8L433.7 742.9L437 712.4L440.3 738.8L443.5 732.5L446.8 723.8L450 744.9L453.3 734.4L456.5 754.3L459.8 743.8L463 758.3L466.3 712.7L469.5 759L472.8 739L476 742.1L479.3 728.4L482.5 734.9L485.8 743.2L489 750.9L492.3 752.3L495.5 747.6L498.8 755.3L502 766.3L505.3 749.9L508.5 751.1L511.8 774.6L515 763.3L518.3 746.4L521.5 770.5L524.8 768.4L528 803.2L531.3 784.2L534.5 784.3L537.8 770.8L541 762.7L544.3 777.4L547.5 773.8L550.8 772L554.1 796.5L557.3 764.9L560.6 811.7L563.8 771L567.1 770.9L570.3 810.6L573.6 788.6L576.8 783.4L580.1 806.1L583.3 793.6L586.6 806.7L589.8 800.4L593.1 811.1L596.3 795.8L599.6 830.5L602.8 808.9L606.1 820.9L609.3 774.4L612.6 833.6L615.8 812.5L619.1 825L622.3 827.6L625.6 827L628.8 817.4L632.1 870.4L635.3 835.1L638.6 850.9L641.8 845.8L645.1 841.2"/>
</g>
<g fill="none" stroke="rgb(153,204,242)" stroke-opacity="0.5" stroke-width="1.25" stroke-linejoin="round">
<path d="M722.2 815.1L725.4 735.4L728.7 770.6L731.9 727.6L735.2 710.3L738.4 714.5L741.6 773L744.9 695.2L748.1 699.6L751.4 737L754.6 769.7L757.8 729.7L761.1 788.4L764.3 747.5L767.6 744L770.8 804.5L774.1 774.8L777.3 738.6L780.5 740.9L783.8 786.3L787 794.8L790.3 742L793.5 749.9L796.7 778.1L800 731.8L803.2 762.7L806.5 750.9L809.7 750.6L812.9 721.8L816.2 684.8L819.4 752.7L822.7 723.9L825.9 766.7L829.1 740.6L832.4 748.8L835.6 806.5L838.9 781.6L842.1 741.7L845.3 789.9L848.6 743.6L851.8 717.1L855.1 761.1L858.3 761.3L861.6 803.1L864.8 801.9L868 800.8L871.3 746.6L874.5 768L877.8 711.9L881 775L884.2 753.9L887.5 691.3L890.7 779.4L894 778.4L897.2 706.2L900.4 696.2L903.7 751.5L906.9 758.2L910.2 753.2L913.4 807.4L916.6 829.7L919.9 750L923.1 740.5L926.4 742.6L929.6 823.4L932.8 758.1L936.1 766.3L939.3 776.5L942.6 784.6L945.8 760.8L949.1 811.2L952.3 762.8L955.5 766.3L958.8 720.5L962 732.1L965.3 733.3L968.5 778.2L971.7 720.8L975 739.6L978.2 723.5L981.5 654.4L984.7 734.6L987.9 785.2L991.2 689.1L994.4 763.7L997.7 684.9"/>
<path d="M722.2 766.1L725.4 752L728.7 789.7L731.9 751.2L735.2 755.5L738.4 789.1L741.6 790L744.9 750.9L748.1 768.1L751.4 803.1L754.6 769.6L757.8 723.9L761.1 758.6L764.3 709.5L767.6 825.9L770.8 763.9L774.1 711.9L777.3 740.4L780.5 773.7L783.8 786L787 748.3L790.3 740.3L793.5 728.3L796.7 774.9L800 795.9L803.2 762L806.5 751.3L809.7 761.8L812.9 734.4L816.2 745.1L819.4 778.2L822.7 771L825.9 774.8L829.1 736.4L832.4 788.8L835.6 731.1L838.9 802.9L842.1 766.4L845.3 774.5L848.6 735.4L851.8 754.9L855.1 735.8L858.3 767.4L861.6 719.4L864.8 808.5L868 773.5L871.3 791.5L874.5 767.6L877.8 782.5L881 745.5L884.2 734.6L887.5 743.9L890.7 716.4L894 791.7L897.2 744L900.4 757.2L903.7 738.1L906.9 770.5L910.2 793.5L913.4 753.9L916.6 792.4L919.9 759.8L923.1 755.9L926.4 706.9L929.6 731.5L932.8 798.8L936.1 781.5L939.3 823.1L942.6 735.1L945.8 776L949.1 707.2L952.3 721.2L955.5 729.8L958.8 729.3L962 755.3L965.3 785.1L968.5 753.6L971.7 702.9L975 779.9L978.2 744.6L981.5 690.9L984.7 776L987.9 734.8L991.2 761.7L994.4 711.3L997.7 709.5"/>
<path d="M722.2 796.5L725.4 709.7L728.7 764.8L731.9 784.7L735.2 772.1L738.4 760L741.6 748.6L744.9 745.3L748.1 804.4L751.4 769.8L754.6 761.9L757.8 728.1L761.1 772.2L764.3 783L767.6 686.1L770.8 815.8L774.1 791.5L777.3 750.4L780.5 706.5L783.8 847.1L787 778.3L790.3 739.7L793.5 714.6L796.7 783L800 700.2L803.2 752.8L806.5 737.2L809.7 721.4L812.9 729.9L816.2 736.3L819.4 791.8L822.7 778L825.9 801.4L829.1 729.7L832.4 809.1L835.6 776.1L838.9 806.1L842.1 764.6L845.3 783.1L848.6 729L851.8 798.7L855.1 764.3L858.3 746L861.6 771.2L864.8 774.6L868 711.2L871.3 772.3L874.5 738.3L877.8 762.4L881 772.3L884.2 841.2L887.5 770.3L890.7 719.9L894 784.1L897.2 719L900.4 732L903.7 740.6L906.9 784.4L910.2 815.4L913.4 787.2L916.6 715.9L919.9 754.1L923.1 776.3L926.4 679.3L929.6 747.1L932.8 845.3L936.1 702.8L939.3 717.9L942.6 716.7L945.8 796.7L949.1 784.4L952.3 772.4L955.5 802.8L958.8 734.2L962 685.6L965.3 755.8L968.5 695.6L971.7 761.9L975 752.9L978.2 738.1L981.5 782.4L984.7 743.6L987.9 695L991.2 711.5L994.4 753.6L997.7 705.3"/>
<path d="M722.2 804.5L725.4 750.6L728.7 772.7L731.9 725.9L735.2 752.9L738.4 712.3L741.6 739.7L744.9 777.2L748.1 735L751.4 730.9L754.6 786.1L757.8 782.9L761.1 723L764.3 766.1L767.6 773.2L770.8 732.6L774.1 740.6L777.3 751.4L780.5 813.5L783.8 764.2L787 753.7L790.3 673L793.5 771.7L796.7 781L800 722.7L803.2 780.1L806.5 759.8L809.7 786.8L812.9 753.1L816.2 760.3L819.4 847.5L822.7 827.9L825.9 734.9L829.1 710.2L832.4 779.6L835.6 780.5L838.9 768.7L842.1 770.7L845.3 816.8L848.6 665.8L851.8 729.8L855.1 782.9L858.3 782.2L861.6 792.9L864.8 750.1L868 827.6L871.3 923.7L874.5 802.7L877.8 783.6L881 724.3L884.2 745.6L887.5 718.4L890.7 762L894 719.6L897.2 753.5L900.4 742.6L903.7 761.6L906.9 682.9L910.2 722.4L913.4 764.8L916.6 777.1L919.9 707.1L923.1 767.2L926.4 840.8L929.6 750.7L932.8 731.9L936.1 685.1L939.3 695.3L942.6 731.9L945.8 735.5L949.1 766.3L952.3 802.9L955.5 730.9L958.8 758.8L962 791.3L965.3 753.6L968.5 751.5L971.7 743.5L975 692.3L978.2 686.9L981.5 761.2L984.7 773.9L987.9 767.3L991.2 769.2L994.4 784L997.7 773.7"/>
<path d="M722.2 770.1L725.4 766.4L728.7 691.6L731.9 789.3L735.2 761.7L738.4 764.9L741.6 794L744.9 716.3L748.1 759L751.4 732.8L754.6 807.9L757.8 716L761.1 739.7L764.3 771.3L767.6 811.6L770.8 757.9L774.1 719L777.3 732.9L780.5 771.9L783.8 782.3L787 715.8L790.3 792.7L793.5 730.8L796.7 717.9L800 749.5L803.2 715L806.5 708.4L809.7 751.1L812.9 677.3L816.2 745.4L819.4 723.1L822.7 773L825.9 732L829.1 789.5L832.4 775.4L835.6 779.5L838.9 769.6L842.1 746.1L845.3 777.8L848.6 777.5L851.8 762L855.1 770.4L858.3 775L861.6 767.3L864.8 755.5L868 772.1L871.3 774.5L874.5 793.5L877.8 807.6L881 758.5L884.2 749.1L887.5 824.2L890.7 761L894 766.3L897.2 731L900.4 778.4L903.7 698L906.9 731.8L910.2 752.4L913.4 743.4L916.6 765.2L919.9 788.3L923.1 761.9L926.4 747.4L929.6 685.7L932.8 735.2L936.1 787.6L939.3 800.4L942.6 772.5L945.8 777.3L949.1 778.3L952.3 700.6L955.5 748.3L958.8 736.5L962 762.7L965.3 771.6L968.5 745.9L971.7 800.3L975 728L978.2 713L981.5 717.5L984.7 663.7L987.9 752.7L991.2 715.9L994.4 747.6L997.7 735.5"/>
<path d="M722.2 796.5L725.4 704.4L728.7 747.2L731.9 742.5L735.2 763.4L738.4 727.1L741.6 724.7L744.9 791.9L748.1 706.7L751.4 762.9L754.6 717.4L757.8 777.6L761.1 739.4L764.3 741.4L767.6 722.6L770.8 694.7L774.1 817.9L777.3 749.8L780.5 806.7L783.8 782.8L787 721.1L790.3 734.9L793.5 773.8L796.7 746.3L800 732.2L803.2 762.4L806.5 772.1L809.7 796.1L812.9 806.1L816.2 758.5L819.4 748.5L822.7 751.5L825.9 682L829.1 804L832.4 818.2L835.6 646.4L838.9 766.1L842.1 754.9L845.3 756.4L848.6 700.9L851.8 752.3L855.1 693.2L858.3 782L861.6 803.8L864.8 810.9L868 713.7L871.3 729.7L874.5 750.1L877.8 809.6L881 757.9L884.2 812L887.5 760.4L890.7 781L894 718.6L897.2 700.7L900.4 737L903.7 724.1L906.9 704.6L910.2 774.6L913.4 814.8L916.6 731L919.9 743.7L923.1 792.4L926.4 758.7L929.6 782.7L932.8 782.1L936.1 785.7L939.3 787.4L942.6 762.1L945.8 717.8L949.1 788.3L952.3 711.3L955.5 766.2L958.8 769.2L962 842.9L965.3 761.2L968.5 762L971.7 729L975 729.8L978.2 684.3L981.5 667.6L984.7 723.7L987.9 737.2L991.2 719.8L994.4 720.2L997.7 715.2"/>
<path d="M722.2 841.5L725.4 737.1L728.7 826.8L731.9 731.4L735.2 748.9L738.4 759.4L741.6 780.1L744.9 806.4L748.1 788.4L751.4 798L754.6 766.1L757.8 756.1L761.1 755.2L764.3 721.5L767.6 830.9L770.8 757.4L774.1 741.3L777.3 718.9L780.5 752.5L783.8 731L787 789.7L790.3 794.5L793.5 737.7L796.7 791.3L800 784.5L803.2 765.2L806.5 756.7L809.7 750.6L812.9 784.8L816.2 705.9L819.4 787.6L822.7 762.8L825.9 691L829.1 750.8L832.4 770.8L835.6 785.7L838.9 767.1L842.1 744.3L845.3 774.7L848.6 762.2L851.8 657.1L855.1 724.9L858.3 752.4L861.6 754.2L864.8 777.6L868 838.5L871.3 770L874.5 757.2L877.8 763.9L881 737.8L884.2 743.4L887.5 733.6L890.7 780.6L894 749.1L897.2 758.4L900.4 775.8L903.7 731.7L906.9 773.2L910.2 813.8L913.4 756.6L916.6 765.9L919.9 787.8L923.1 794.7L926.4 768.3L929.6 752.6L932.8 778L936.1 712.9L939.3 725.1L942.6 736.4L945.8 764L949.1 717.1L952.3 754.9L955.5 709.8L958.8 722.9L962 716.4L965.3 755.1L968.5 806.9L971.7 689.4L975 742L978.2 726.7L981.5 750.2L984.7 709.9L987.9 759.6L991.2 667.8L994.4 760.4L997.7 772.1"/>
<path d="M722.2 754.2L725.4 761.6L728.7 725.3L731.9 742.3L735.2 746.2L738.4 675.4L741.6 788L744.9 778L748.1 815.5L751.4 755.4L754.6 757.5L757.8 794.3L761.1 699L764.3 773.8L767.6 742.8L770.8 823.5L774.1 756.8L777.3 789.4L780.5 746.8L783.8 661.5L787 802L790.3 790.5L793.5 793.2L796.7 737.5L800 797.4L803.2 722.5L806.5 721.6L809.7 791.8L812.9 780.2L816.2 822.2L819.4 739.6L822.7 780.9L825.9 782L829.1 799.6L832.4 732.2L835.6 768.5L838.9 751.6L842.1 793.4L845.3 869.5L848.6 785.1L851.8 816.1L855.1 784.4L858.3 755.9L861.6 788L864.8 775.2L868 767.7L871.3 802L874.5 795.5L877.8 743.7L881 705L884.2 749L887.5 775.4L890.7 813.8L894 776.9L897.2 778.1L900.4 804.4L903.7 808.9L906.9 735L910.2 757.1L913.4 792.2L916.6 744.6L919.9 726.4L923.1 745.6L926.4 764.2L929.6 801.2L932.8 749.3L936.1 725.8L939.3 743.4L942.6 788.7L945.8 699.2L949.1 769.7L952.3 787.7L955.5 756L958.8 742.1L962 713.8L965.3 714.1L968.5 747.5L971.7 788.9L975 759.5L978.2 724.7L981.5 697L984.7 696.7L987.9 774.8L991.2 695.6L994.4 768.3L997.7 734.4"/>
<path d="M722.2 821.3L725.4 775.6L728.7 748.9L731.9 758.1L735.2 747.7L738.4 726.7L741.6 757L744.9 758.1L748.1 722.4L751.4 754L754.6 783.2L757.8 758.3L761.1 725.8L764.3 812.6L767.6 735.9L770.8 801.7L774.1 778.3L777.3 796.9L780.5 773.8L783.8 733L787 799.9L790.3 735.4L793.5 716.7L796.7 704.4L800 773.9L803.2 740.3L806.5 735.2L809.7 715.9L812.9 821.2L816.2 786.2L819.4 801.2L822.7 775.7L825.9 807.7L829.1 750.1L832.4 816.9L835.6 767.9L838.9 754.5L842.1 806.2L845.3 787.1L848.6 776.8L851.8 715.9L855.1 736.7L858.3 729.9L861.6 756.7L864.8 782.4L868 743.7L871.3 776.5L874.5 745.8L877.8 762.8L881 793.7L884.2 808.7L887.5 828.9L890.7 777L894 784.6L897.2 814.5L900.4 722.7L903.7 739.1L906.9 793.7L910.2 803.4L913.4 838.1L916.6 826L919.9 813.7L923.1 787.2L926.4 770.1L929.6 809.9L932.8 711.5L936.1 750L939.3 711.6L942.6 754.5L945.8 668.8L949.1 775.3L952.3 752L955.5 807L958.8 711.2L962 739.7L965.3 773.4L968.5 697.9L971.7 739.1L975 671.3L978.2 801.2L981.5 711.8L984.7 734.5L987.9 746.8L991.2 681.4L994.4 713.4L997.7 675"/>
<path d="M722.2 802.8L725.4 809.7L728.7 692.3L731.9 754.1L735.2 713.1L738.4 776.1L741.6 781.5L744.9 790.3L748.1 777.2L751.4 710.2L754.6 715.5L757.8 754.1L761.1 782.3L764.3 733.1L767.6 743.6L770.8 776.1L774.1 769.2L777.3 794L780.5 728.4L783.8 783.5L787 760.1L790.3 759.9L793.5 755.3L796.7 732.5L800 804.6L803.2 735.7L806.5 762.6L809.7 764.7L812.9 734L816.2 770.2L819.4 775.2L822.7 821L825.9 741L829.1 784.2L832.4 786.9L835.6 799.4L838.9 745.3L842.1 786.8L845.3 730.5L848.6 772.4L851.8 801L855.1 815.2L858.3 699.1L861.6 766.1L864.8 789.1L868 716.6L871.3 859.1L874.5 787.9L877.8 717.7L881 879.3L884.2 783.1L887.5 701.5L890.7 738.6L894 748.4L897.2 757.2L900.4 826.7L903.7 748.5L906.9 742.6L910.2 765.3L913.4 789.3L916.6 772.5L919.9 713.4L923.1 784.7L926.4 736.7L929.6 738.9L932.8 849.2L936.1 696.6L939.3 754L942.6 725.9L945.8 778.8L949.1 771.5L952.3 722.5L955.5 752.7L958.8 742.8L962 767L965.3 687.6L968.5 762.8L971.7 754L975 739.3L978.2 722.4L981.5 765.6L984.7 753.5L987.9 744.6L991.2 742.1L994.4 757.3L997.7 751.7"/>
<path d="M722.2 751.3L725.4 723.5L728.7 753.2L731.9 735.2L735.2 742.2L738.4 759.2L741.6 812L744.9 764L748.1 765.1L751.4 792.6L754.6 738.9L757.8 749.4L761.1 704L764.3 733.4L767.6 780.1L770.8 750.4L774.1 756L777.3 812.6L780.5 823.7L783.8 774L787 634L790.3 718.6L793.5 761.7L796.7 716.1L800 757.8L803.2 739.5L806.5 744.4L809.7 749.5L812.9 796.3L816.2 755.3L819.4 820L822.7 753.8L825.9 820.2L829.1 732.8L832.4 777.3L835.6 756L838.9 733.4L842.1 846.7L845.3 774.1L848.6 730.9L851.8 713.7L855.1 782.2L858.3 790.2L861.6 782.2L864.8 754.5L868 755.8L871.3 732.3L874.5 757L877.8 756.8L881 791.6L884.2 791L887.5 724.7L890.7 700.8L894 829.6L897.2 759.9L900.4 741.6L903.7 772.9L906.9 728.9L910.2 744.3L913.4 687.4L916.6 743.5L919.9 803.1L923.1 775.4L926.4 749.3L929.6 760.2L932.8 781.3L936.1 780.6L939.3 723.5L942.6 744L945.8 753.6L949.1 780.5L952.3 734L955.5 776.5L958.8 779.3L962 744.3L965.3 752.8L968.5 785.9L971.7 701.2L975 739.5L978.2 741.2L981.5 808.8L984.7 668.6L987.9 707.4L991.2 688.2L994.4 696.2L997.7 733"/>
<path d="M722.2 749.4L725.4 752.1L728.7 760.4L731.9 745.4L735.2 783.2L738.4 771.9L741.6 733.7L744.9 742.3L748.1 762.5L751.4 740.3L754.6 769.6L757.8 753.4L761.1 740.9L764.3 745.9L767.6 720.2L770.8 768.2L774.1 744.6L777.3 732.6L780.5 751.5L783.8 837.1L787 792.6L790.3 734.1L793.5 726.5L796.7 770.5L800 724.9L803.2 791.8L806.5 725.1L809.7 795.5L812.9 822.3L816.2 748.8L819.4 785.1L822.7 791.4L825.9 844.6L829.1 845.4L832.4 741.4L835.6 810.5L838.9 802.4L842.1 787.1L845.3 787.4L848.6 728.4L851.8 735.7L855.1 761.2L858.3 727.2L861.6 792.1L864.8 783.4L868 825.7L871.3 741.2L874.5 824.5L877.8 786.2L881 784.8L884.2 769.4L887.5 765.5L890.7 747.8L894 744.7L897.2 806.4L900.4 701.6L903.7 806.3L906.9 775.3L910.2 776.2L913.4 809.4L916.6 767.2L919.9 767.6L923.1 781.6L926.4 764.3L929.6 801.9L932.8 799.4L936.1 752.6L939.3 774.2L942.6 734.1L945.8 768L949.1 765.8L952.3 709.8L955.5 770.6L958.8 780.8L962 722.2L965.3 703.7L968.5 752.6L971.7 728.4L975 711L978.2 740.5L981.5 714L984.7 739.5L987.9 774.9L991.2 752.3L994.4 741.8L997.7 698.7"/>
<path d="M722.2 832.1L725.4 755.7L728.7 826.6L731.9 743.2L735.2 764.2L738.4 727.4L741.6 777.5L744.9 719.9L748.1 761.8L751.4 822.3L754.6 785.2L757.8 720.3L761.1 794.5L764.3 724.7L767.6 749.9L770.8 746.5L774.1 755.3L777.3 758.1L780.5 690.9L783.8 803.6L787 754.3L790.3 725.3L793.5 772L796.7 799.6L800 727.4L803.2 778.6L806.5 746.9L809.7 764.9L812.9 738.4L816.2 763L819.4 785.6L822.7 719.2L825.9 740.9L829.1 747L832.4 749.5L835.6 713.4L838.9 747.1L842.1 739.2L845.3 780.5L848.6 758.9L851.8 766.1L855.1 774.6L858.3 750.8L861.6 745.6L864.8 797.7L868 757.3L871.3 752.4L874.5 829.6L877.8 723.5L881 798.6L884.2 810.8L887.5 749.4L890.7 745.9L894 781.8L897.2 733L900.4 705.8L903.7 804.9L906.9 811.2L910.2 720.9L913.4 791.5L916.6 766.9L919.9 752L923.1 777.6L926.4 748.5L929.6 753.2L932.8 768.1L936.1 761.1L939.3 678.5L942.6 798L945.8 773.3L949.1 793.4L952.3 745.3L955.5 733.8L958.8 776.8L962 766.3L965.3 773.7L968.5 773.6L971.7 716.2L975 703.2L978.2 728.2L981.5 753.7L984.7 729.2L987.9 718.5L991.2 742.9L994.4 674.5L997.7 723.2"/>
<path d="M722.2 715.8L725.4 817.8L728.7 707.9L731.9 818.5L735.2 789.4L738.4 800.5L741.6 791.4L744.9 748.2L748.1 759.6L751.4 817.1L754.6 724.5L757.8 751.2L761.1 793.5L764.3 738.9L767.6 817.3L770.8 725.4L774.1 742.8L777.3 761.2L780.5 740.5L783.8 758.9L787 757L790.3 751.5L793.5 772.8L796.7 763.1L800 770.6L803.2 763.1L806.5 752.3L809.7 773.7L812.9 769.1L816.2 789.1L819.4 821.6L822.7 748.5L825.9 827.8L829.1 795L832.4 804.4L835.6 752.7L838.9 778L842.1 790.2L845.3 763L848.6 787.9L851.8 728L855.1 738.9L858.3 797.8L861.6 794.2L864.8 726.5L868 787.9L871.3 779.1L874.5 805.7L877.8 768.6L881 771.1L884.2 734.3L887.5 756.1L890.7 751.6L894 786.7L897.2 694.6L900.4 765.5L903.7 803.5L906.9 670.1L910.2 783.3L913.4 780.3L916.6 762.4L919.9 762.1L923.1 728.8L926.4 788.3L929.6 768.6L932.8 704.6L936.1 769.3L939.3 714.8L942.6 722.6L945.8 761.7L949.1 739L952.3 751.1L955.5 770L958.8 749.4L962 756.8L965.3 687.5L968.5 802.4L971.7 767.7L975 713L978.2 724L981.5 785.3L984.7 699.8L987.9 679.5L991.2 804L994.4 773.1L997.7 736.2"/>
<path d="M722.2 837.9L725.4 773L728.7 785.7L731.9 773.8L735.2 781.7L738.4 731.7L741.6 762.3L744.9 769L748.1 721.2L751.4 720.2L754.6 752.8L757.8 809.5L761.1 754.2L764.3 793.2L767.6 797.7L770.8 804.9L774.1 785.3L777.3 702.2L780.5 695.3L783.8 730.2L787 745.9L790.3 751.1L793.5 744.1L796.7 737L800 777.1L803.2 716.1L806.5 767.2L809.7 778.1L812.9 698.4L816.2 763.7L819.4 761.1L822.7 782.3L825.9 778.5L829.1 693.1L832.4 830.6L835.6 768.5L838.9 796.9L842.1 804.8L845.3 736L848.6 756.9L851.8 753.6L855.1 835.6L858.3 723.5L861.6 828.8L864.8 803.8L868 766.8L871.3 738.7L874.5 768L877.8 791.5L881 740.2L884.2 771.7L887.5 780.4L890.7 787.6L894 757.7L897.2 779.5L900.4 791.9L903.7 703.7L906.9 719.1L910.2 717L913.4 743L916.6 784.9L919.9 768.5L923.1 764.2L926.4 743.8L929.6 795.4L932.8 711.8L936.1 704.3L939.3 775.5L942.6 746.4L945.8 787.1L949.1 783L952.3 780.2L955.5 738.6L958.8 738.1L962 693.5L965.3 737.8L968.5 746.6L971.7 722.4L975 726.5L978.2 738.6L981.5 768.5L984.7 711.1L987.9 713L991.2 731.8L994.4 748.3L997.7 788"/>
<path d="M722.2 814.2L725.4 682.4L728.7 708.5L731.9 728.9L735.2 675.9L738.4 784.8L741.6 731.4L744.9 715.4L748.1 746.8L751.4 768.5L754.6 742.2L757.8 753.2L761.1 788.2L764.3 722.2L767.6 753.2L770.8 698.5L774.1 723.1L777.3 788.6L780.5 736.1L783.8 731.1L787 780.1L790.3 737.7L793.5 788.2L796.7 811.2L800 830.4L803.2 744.3L806.5 756.2L809.7 739L812.9 809.8L816.2 775.7L819.4 856.4L822.7 748.1L825.9 759.3L829.1 669.2L832.4 741.5L835.6 742.4L838.9 777.9L842.1 805.4L845.3 739.8L848.6 752.5L851.8 777.9L855.1 756.5L858.3 785.5L861.6 827.3L864.8 751.6L868 777.7L871.3 808.2L874.5 774.5L877.8 819.3L881 757.3L884.2 800.3L887.5 765.9L890.7 782.5L894 746L897.2 792.9L900.4 729.4L903.7 801.3L906.9 755.2L910.2 769L913.4 810.2L916.6 715.2L919.9 777.2L923.1 763.2L926.4 744.1L929.6 788.3L932.8 760.7L936.1 812.3L939.3 736.6L942.6 808.9L945.8 798.9L949.1 766.8L952.3 727.4L955.5 763.3L958.8 715.7L962 724.2L965.3 719.3L968.5 759.8L971.7 697.2L975 750.5L978.2 718.5L981.5 770.5L984.7 749.8L987.9 714L991.2 743.8L994.4 737.1L997.7 708.3"/>
<path d="M722.2 773.9L725.4 753.8L728.7 731.2L731.9 716.2L735.2 763.3L738.4 706.6L741.6 776.4L744.9 785L748.1 740.8L751.4 774.2L754.6 731.3L757.8 777.4L761.1 862.8L764.3 773.5L767.6 753.3L770.8 758L774.1 719.9L777.3 732.8L780.5 752.2L783.8 745L787 756.9L790.3 796.1L793.5 714.7L796.7 726.7L800 759.9L803.2 715.6L806.5 717L809.7 773.8L812.9 770.5L816.2 767.5L819.4 729.1L822.7 780.8L825.9 788.6L829.1 745.1L832.4 765.4L835.6 753.9L838.9 754.4L842.1 756L845.3 778.5L848.6 732L851.8 815.5L855.1 780.8L858.3 755.6L861.6 849L864.8 776.6L868 698.4L871.3 806.3L874.5 795.7L877.8 765.8L881 770L884.2 744.5L887.5 721.3L890.7 728.9L894 850.8L897.2 736.8L900.4 769.7L903.7 825.6L906.9 732.8L910.2 757.2L913.4 751.3L916.6 712.2L919.9 767.1L923.1 770.5L926.4 752.1L929.6 753.3L932.8 781.3L936.1 770.6L939.3 816.7L942.6 778.1L945.8 777.3L949.1 733.8L952.3 705.9L955.5 806.2L958.8 729.8L962 768.1L965.3 740.6L968.5 722.2L971.7 748.8L975 793L978.2 778.5L981.5 723.6L984.7 721.5L987.9 670.5L991.2 698.4L994.4 712.5L997.7 724.6"/>
<path d="M722.2 796.8L725.4 744.8L728.7 803.5L731.9 727.2L735.2 780.6L738.4 731.6L741.6 750.5L744.9 764.3L748.1 780.9L751.4 739.1L754.6 743.8L757.8 749.3L761.1 768.1L764.3 806.4L767.6 779.7L770.8 750.7L774.1 755.4L777.3 798.7L780.5 808.3L783.8 800.5L787 756.2L790.3 728.6L793.5 737.2L796.7 753L800 725.8L803.2 749.3L806.5 820.1L809.7 772.5L812.9 782.5L816.2 730.1L819.4 810.7L822.7 755.3L825.9 767.5L829.1 770L832.4 770L835.6 750.5L838.9 787L842.1 845.3L845.3 758.8L848.6 789.3L851.8 729.3L855.1 774.5L858.3 748.7L861.6 826.3L864.8 763L868 794L871.3 777.1L874.5 740.5L877.8 773.2L881 772.3L884.2 793.8L887.5 756.5L890.7 712.5L894 740.5L897.2 744.4L900.4 792L903.7 757.9L906.9 788.9L910.2 755.2L913.4 781.9L916.6 794.8L919.9 759.6L923.1 702.7L926.4 800.9L929.6 756.8L932.8 790.8L936.1 666.8L939.3 753.7L942.6 755.8L945.8 739.1L949.1 752.1L952.3 719.1L955.5 737.2L958.8 772.9L962 740.3L965.3 763.9L968.5 761.9L971.7 720.6L975 737.4L978.2 637.7L981.5 756.7L984.7 786.5L987.9 736L991.2 721.9L994.4 802.7L997.7 717.9"/>
<path d="M722.2 761.7L725.4 748.4L728.7 698.6L731.9 806.5L735.2 795L738.4 799.4L741.6 780.6L744.9 753.3L748.1 739.8L751.4 737.8L754.6 781.3L757.8 787.9L761.1 785.6L764.3 727L767.6 820.7L770.8 737.3L774.1 765.2L777.3 755.8L780.5 748.3L783.8 697.1L787 718.5L790.3 738.4L793.5 793.1L796.7 735.7L800 768.5L803.2 717.2L806.5 736.3L809.7 800L812.9 814.5L816.2 771.4L819.4 781.7L822.7 770.1L825.9 759.4L829.1 764.7L832.4 799.5L835.6 744.2L838.9 730.4L842.1 794.2L845.3 748.9L848.6 772L851.8 727.9L855.1 769.5L858.3 752L861.6 759.5L864.8 795.9L868 750.5L871.3 697.5L874.5 736L877.8 760.5L881 823.3L884.2 752.3L887.5 722.7L890.7 746L894 802.7L897.2 769.2L900.4 782.5L903.7 784.7L906.9 806.3L910.2 722.4L913.4 811L916.6 779.8L919.9 723.5L923.1 776.2L926.4 807.4L929.6 755.1L932.8 796.9L936.1 685.4L939.3 708.1L942.6 773.4L945.8 755.5L949.1 778.1L952.3 766.8L955.5 794.6L958.8 713.7L962 704L965.3 778.8L968.5 761.8L971.7 745.5L975 733.3L978.2 790.1L981.5 719.7L984.7 746.7L987.9 785.2L991.2 721.8L994.4 715.8L997.7 718.8"/>
<path d="M722.2 725.4L725.4 799.7L728.7 799.3L731.9 820.2L735.2 761L738.4 781.8L741.6 789.3L744.9 818.8L748.1 771.9L751.4 782.6L754.6 741.2L757.8 773.9L761.1 765.1L764.3 798.8L767.6 786.9L770.8 731.1L774.1 737.1L777.3 774.2L780.5 755.1L783.8 781L787 798.7L790.3 722.4L793.5 778.1L796.7 723.8L800 761L803.2 754.6L806.5 718.9L809.7 693.3L812.9 745L816.2 725.7L819.4 771.3L822.7 771.6L825.9 797.2L829.1 782.3L832.4 710.5L835.6 714.8L838.9 739.5L842.1 772.8L845.3 777.7L848.6 740.5L851.8 773.6L855.1 735.4L858.3 803.9L861.6 765.4L864.8 760.4L868 758L871.3 775L874.5 826.4L877.8 778.7L881 805.1L884.2 745.7L887.5 785.2L890.7 793.5L894 806.3L897.2 733.2L900.4 744L903.7 772.7L906.9 780.3L910.2 740.4L913.4 777.6L916.6 816.1L919.9 696.9L923.1 717.6L926.4 758.6L929.6 781.4L932.8 765.5L936.1 770.6L939.3 804L942.6 745.9L945.8 730.7L949.1 805.8L952.3 702.4L955.5 798.1L958.8 805.3L962 761.5L965.3 726.8L968.5 759.2L971.7 729.7L975 807.5L978.2 759.4L981.5 746.4L984.7 750.1L987.9 756.3L991.2 776.4L994.4 746.8L997.7 707"/>
<path d="M722.2 779.5L725.4 731.5L728.7 726.1L731.9 769L735.2 745.8L738.4 762.5L741.6 788.1L744.9 794.3L748.1 764.2L751.4 749.4L754.6 783.8L757.8 737.2L761.1 815.1L764.3 749.5L767.6 799.8L770.8 734.3L774.1 797L777.3 777.1L780.5 763.5L783.8 806.3L787 778.8L790.3 764.6L793.5 762.4L796.7 770.4L800 768.2L803.2 735.6L806.5 731.7L809.7 760.2L812.9 723L816.2 705.3L819.4 795.8L822.7 753.2L825.9 844.3L829.1 774.2L832.4 798.5L835.6 796L838.9 771.6L842.1 768.9L845.3 724.2L848.6 730.9L851.8 724.3L855.1 722.6L858.3 723.8L861.6 788L864.8 718.2L868 827.7L871.3 750.6L874.5 792.2L877.8 782.9L881 788.1L884.2 765.7L887.5 757.5L890.7 772.4L894 802.1L897.2 785.3L900.4 777.3L903.7 726.3L906.9 733.4L910.2 768.4L913.4 810.1L916.6 811.9L919.9 738.1L923.1 767.1L926.4 747.4L929.6 736.6L932.8 768.6L936.1 771.8L939.3 764.2L942.6 688.3L945.8 793.6L949.1 694.2L952.3 787.3L955.5 814.9L958.8 864.4L962 705.3L965.3 726.1L968.5 755.6L971.7 759.7L975 724.9L978.2 773.9L981.5 728.9L984.7 734.7L987.9 736L991.2 764.7L994.4 750.3L997.7 680.7"/>
<path d="M722.2 813.6L725.4 731.5L728.7 738.1L731.9 736.4L735.2 753.8L738.4 786.6L741.6 785.2L744.9 716.6L748.1 756L751.4 799.9L754.6 790.8L757.8 766.7L761.1 740.5L764.3 781.9L767.6 752.2L770.8 721.8L774.1 691.6L777.3 777.1L780.5 806.1L783.8 835L787 803.7L790.3 774.8L793.5 759.7L796.7 758.9L800 783.5L803.2 721.8L806.5 755.9L809.7 751.7L812.9 780.2L816.2 783.4L819.4 700.5L822.7 719.8L825.9 765.5L829.1 782.1L832.4 742.9L835.6 771.2L838.9 766.1L842.1 760.4L845.3 750.3L848.6 772.6L851.8 801.2L855.1 745.3L858.3 785.9L861.6 786L864.8 758.8L868 754.7L871.3 744.2L874.5 781.1L877.8 789.8L881 762.1L884.2 711.4L887.5 763.1L890.7 760.9L894 757.2L897.2 795.4L900.4 742.3L903.7 757.6L906.9 761.3L910.2 811.2L913.4 734.6L916.6 766.8L919.9 696.4L923.1 731.3L926.4 752.2L929.6 721.7L932.8 780.2L936.1 757.1L939.3 728.8L942.6 759.4L945.8 729.6L949.1 745.6L952.3 741.2L955.5 809.4L958.8 728.7L962 764.5L965.3 776.7L968.5 751.2L971.7 762L975 803.9L978.2 700.8L981.5 705L984.7 750.8L987.9 735.7L991.2 787.7L994.4 714.5L997.7 729.5"/>
<path d="M722.2 805.5L725.4 695.8L728.7 811.9L731.9 759L735.2 732L738.4 745.8L741.6 747.8L744.9 804.6L748.1 730.1L751.4 806.6L754.6 740.2L757.8 773.2L761.1 749.6L764.3 758.8L767.6 790.3L770.8 759.2L774.1 747.9L777.3 791L780.5 831.7L783.8 761.2L787 749.5L790.3 740.7L793.5 720.3L796.7 727.5L800 771.3L803.2 736.5L806.5 759.6L809.7 767.3L812.9 775.6L816.2 810.2L819.4 761.7L822.7 724.8L825.9 771.9L829.1 781.4L832.4 826.2L835.6 767.6L838.9 744.8L842.1 747.7L845.3 787.6L848.6 752.7L851.8 794.2L855.1 806.6L858.3 766.6L861.6 796.5L864.8 775.9L868 790.9L871.3 730.7L874.5 748.6L877.8 823L881 724.8L884.2 733.3L887.5 778.2L890.7 735.1L894 755.5L897.2 730.4L900.4 816L903.7 763.3L906.9 809.7L910.2 769.2L913.4 717.8L916.6 764.1L919.9 696.5L923.1 783.5L926.4 694.1L929.6 796.5L932.8 780.2L936.1 798.5L939.3 767.4L942.6 765.2L945.8 740.3L949.1 735.6L952.3 726.3L955.5 754.2L958.8 749.2L962 824.3L965.3 752.6L968.5 720.7L971.7 786L975 739L978.2 711.5L981.5 742.1L984.7 709.6L987.9 750.9L991.2 726.1L994.4 765.1L997.7 687.6"/>
<path d="M722.2 789.7L725.4 718.5L728.7 823.7L731.9 719.1L735.2 822.8L738.4 754.5L741.6 795.4L744.9 732.7L748.1 745L751.4 806.8L754.6 715L757.8 775.5L761.1 709.5L764.3 827.6L767.6 791.3L770.8 703.5L774.1 752.6L777.3 791.8L780.5 837.9L783.8 762.7L787 697.9L790.3 797L793.5 734.6L796.7 747.1L800 741.5L803.2 709.2L806.5 676.6L809.7 810.3L812.9 756L816.2 757.8L819.4 741.9L822.7 775.2L825.9 727.3L829.1 723.1L832.4 720.1L835.6 716.8L838.9 770.2L842.1 724.1L845.3 826.7L848.6 751.4L851.8 741.8L855.1 749.6L858.3 814L861.6 700.7L864.8 770L868 825.6L871.3 803.7L874.5 781L877.8 752.5L881 844.7L884.2 747.1L887.5 820.5L890.7 730.8L894 716.3L897.2 754.3L900.4 749.4L903.7 687.3L906.9 751.1L910.2 841L913.4 758.3L916.6 770L919.9 747.3L923.1 747.3L926.4 764.9L929.6 762.5L932.8 758.4L936.1 757.3L939.3 762.9L942.6 757.2L945.8 701L949.1 723.9L952.3 708.2L955.5 752.2L958.8 804L962 751.3L965.3 721.1L968.5 812.5L971.7 764.9L975 711.2L978.2 745.5L981.5 769.7L984.7 759.5L987.9 711.7L991.2 740.8L994.4 706.8L997.7 680.7"/>
<path d="M722.2 797.4L725.4 694.6L728.7 755.2L731.9 786.9L735.2 775.4L738.4 758.7L741.6 772L744.9 761.1L748.1 797.8L751.4 776.9L754.6 779.6L757.8 734L761.1 753.5L764.3 740.9L767.6 790.4L770.8 788.4L774.1 768L777.3 785.7L780.5 765.8L783.8 760.7L787 775.8L790.3 766.1L793.5 839.3L796.7 710.5L800 792.2L803.2 727.4L806.5 776.5L809.7 731.4L812.9 702.8L816.2 814.5L819.4 759.5L822.7 823.1L825.9 743.7L829.1 738.9L832.4 810.6L835.6 748.4L838.9 768.8L842.1 749.5L845.3 762.2L848.6 693.8L851.8 750.4L855.1 759.1L858.3 798.9L861.6 811.6L864.8 772.5L868 775.2L871.3 771.8L874.5 849L877.8 749.1L881 800.2L884.2 771.2L887.5 722.9L890.7 785.9L894 811.1L897.2 771.5L900.4 734.2L903.7 790L906.9 780.9L910.2 751.3L913.4 800.7L916.6 712.7L919.9 717.4L923.1 743.8L926.4 763.8L929.6 794.9L932.8 797.2L936.1 728.6L939.3 790.3L942.6 812L945.8 783.3L949.1 753.9L952.3 743.7L955.5 742L958.8 699.3L962 724.9L965.3 697.1L968.5 757.1L971.7 747.9L975 751.2L978.2 746.7L981.5 757.5L984.7 716.4L987.9 636L991.2 752.9L994.4 781.5L997.7 672.8"/>
<path d="M722.2 750.6L725.4 752L728.7 732.6L731.9 738.8L735.2 758.6L738.4 738.6L741.6 789.1L744.9 782.2L748.1 780.8L751.4 776.8L754.6 782.8L757.8 666.2L761.1 787.2L764.3 730.1L767.6 829.7L770.8 740L774.1 776.8L777.3 712.4L780.5 727.7L783.8 774.1L787 770.4L790.3 809.2L793.5 790.1L796.7 793.2L800 825.9L803.2 709.3L806.5 799.9L809.7 737.4L812.9 766.9L816.2 758.6L819.4 795.7L822.7 796.7L825.9 785.7L829.1 750.9L832.4 712.1L835.6 770.5L838.9 766.8L842.1 779.7L845.3 789.9L848.6 827.9L851.8 801.4L855.1 780.2L858.3 752.6L861.6 742L864.8 828.2L868 797.2L871.3 776.7L874.5 730.2L877.8 761.5L881 794.9L884.2 782.9L887.5 749.5L890.7 774.6L894 764.8L897.2 749.1L900.4 817.5L903.7 795.4L906.9 770.8L910.2 751L913.4 816.8L916.6 721.3L919.9 764.2L923.1 721.5L926.4 698.9L929.6 749.6L932.8 700.5L936.1 741.3L939.3 710.6L942.6 756.8L945.8 737L949.1 707.2L952.3 735.3L955.5 740.2L958.8 806.3L962 794.2L965.3 765L968.5 778.4L971.7 823.3L975 746.1L978.2 740.5L981.5 793.6L984.7 753.1L987.9 707.3L991.2 791.5L994.4 739.1L997.7 776.2"/>
<path d="M722.2 838.2L725.4 749.6L728.7 767.1L731.9 777.3L735.2 720.6L738.4 734.8L741.6 768.7L744.9 760.1L748.1 728.5L751.4 759.6L754.6 770.9L757.8 736.4L761.1 735.7L764.3 753.9L767.6 723.6L770.8 733.9L774.1 752.4L777.3 696.2L780.5 744.2L783.8 772.7L787 723.2L790.3 793.7L793.5 770.3L796.7 793.3L800 755.4L803.2 775.7L806.5 745.6L809.7 726.8L812.9 773.8L816.2 737.2L819.4 781.8L822.7 734.9L825.9 764.5L829.1 753.4L832.4 809.2L835.6 756.4L838.9 803.4L842.1 793.7L845.3 820.1L848.6 748.2L851.8 794.6L855.1 794.4L858.3 790.6L861.6 787.6L864.8 823.9L868 730L871.3 799.4L874.5 759.2L877.8 788.9L881 801.3L884.2 779.1L887.5 753.3L890.7 737.1L894 725.5L897.2 737.6L900.4 784.1L903.7 722.1L906.9 844.8L910.2 760.9L913.4 744.3L916.6 796L919.9 790.8L923.1 767.5L926.4 739.2L929.6 765.7L932.8 803L936.1 776.7L939.3 692.7L942.6 784.6L945.8 811.8L949.1 734.2L952.3 691.3L955.5 741.7L958.8 761.1L962 741.6L965.3 733.7L968.5 654.2L971.7 720.5L975 713.9L978.2 731L981.5 777.1L984.7 705.4L987.9 770.6L991.2 781.8L994.4 763.7L997.7 708.5"/>
<path d="M722.2 827.3L725.4 745.2L728.7 755.1L731.9 707.1L735.2 726.1L738.4 733.4L741.6 806.8L744.9 769L748.1 764L751.4 748.4L754.6 741.9L757.8 724.6L761.1 746.6L764.3 802.8L767.6 748.2L770.8 828L774.1 782.2L777.3 744.4L780.5 805.3L783.8 763.5L787 788.8L790.3 738.8L793.5 808.1L796.7 761.9L800 764.3L803.2 785.9L806.5 731.1L809.7 694.7L812.9 727.3L816.2 789.8L819.4 814.7L822.7 723L825.9 780.6L829.1 781.2L832.4 723.8L835.6 710.9L838.9 823.7L842.1 787.9L845.3 756.4L848.6 776.5L851.8 708.4L855.1 773.3L858.3 760.8L861.6 764.9L864.8 809.5L868 768.7L871.3 770.3L874.5 757.8L877.8 741.5L881 763.5L884.2 812L887.5 695.1L890.7 727.1L894 746.3L897.2 775.2L900.4 741.6L903.7 782.6L906.9 685.4L910.2 724L913.4 785.8L916.6 680.2L919.9 756.1L923.1 792L926.4 779.5L929.6 782.4L932.8 730.5L936.1 726L939.3 782.2L942.6 762L945.8 806.9L949.1 764.3L952.3 749.5L955.5 761L958.8 802.4L962 776.6L965.3 719.9L968.5 764.5L971.7 711.1L975 764.1L978.2 722.5L981.5 784.7L984.7 778.5L987.9 758.6L991.2 684.7L994.4 710.8L997.7 733.2"/>
<path d="M722.2 789.8L725.4 769.4L728.7 796.1L731.9 731.7L735.2 716.7L738.4 717L741.6 797L744.9 786.1L748.1 737.6L751.4 756.1L754.6 797.5L757.8 742.8L761.1 779.9L764.3 782.2L767.6 761.7L770.8 785.4L774.1 799.9L777.3 741.4L780.5 706.3L783.8 757.6L787 704.9L790.3 698.2L793.5 780L796.7 713L800 738.9L803.2 755.4L806.5 714.8L809.7 776.8L812.9 815.6L816.2 728.6L819.4 757.8L822.7 679.5L825.9 731.3L829.1 816.7L832.4 759.9L835.6 746.6L838.9 776.9L842.1 761.3L845.3 814.1L848.6 751.4L851.8 736.2L855.1 748.6L858.3 679.3L861.6 788L864.8 788.7L868 707.7L871.3 681.8L874.5 751.5L877.8 771.6L881 818.2L884.2 732.5L887.5 729.7L890.7 758.1L894 808.7L897.2 723.7L900.4 749.9L903.7 738.6L906.9 783.5L910.2 809.2L913.4 835L916.6 812.3L919.9 779.7L923.1 730.6L926.4 774.6L929.6 802.1L932.8 787.2L936.1 718.9L939.3 741.3L942.6 739.9L945.8 783L949.1 761.4L952.3 733.2L955.5 786L958.8 768.2L962 723.7L965.3 773.8L968.5 749L971.7 735L975 703L978.2 735L981.5 753.7L984.7 656.7L987.9 708.2L991.2 723.2L994.4 744.6L997.7 681.5"/>
<path d="M722.2 848.2L725.4 746.8L728.7 731L731.9 746.5L735.2 782.8L738.4 757.8L741.6 734.2L744.9 761.9L748.1 761.2L751.4 760.7L754.6 721.3L757.8 763.2L761.1 895.3L764.3 747.7L767.6 759.4L770.8 689.9L774.1 760.6L777.3 763.5L780.5 744.1L783.8 756L787 719L790.3 778.9L793.5 755.9L796.7 705.8L800 741.6L803.2 758.9L806.5 749.8L809.7 842.1L812.9 745.7L816.2 758L819.4 730.8L822.7 780.4L825.9 731.9L829.1 773.7L832.4 740.7L835.6 734L838.9 734.3L842.1 840.2L845.3 726.9L848.6 790.6L851.8 758.5L855.1 718.2L858.3 752.7L861.6 749.2L864.8 782.4L868 806.7L871.3 837.5L874.5 754.4L877.8 748.1L881 745.8L884.2 762.2L887.5 732.1L890.7 823.1L894 763.7L897.2 748.4L900.4 668.6L903.7 770.7L906.9 721.9L910.2 842.3L913.4 786.8L916.6 745.9L919.9 768.6L923.1 817.2L926.4 772.2L929.6 787.2L932.8 701.4L936.1 722.2L939.3 710.8L942.6 768.3L945.8 702.1L949.1 696.7L952.3 731.8L955.5 755.6L958.8 772.8L962 798.5L965.3 779.6L968.5 749.6L971.7 745.2L975 673.7L978.2 771.4L981.5 708.6L984.7 713.7L987.9 728.3L991.2 700.7L994.4 718.4L997.7 754.5"/>
<path d="M722.2 826.9L725.4 822.1L728.7 790.2L731.9 735.3L735.2 770L738.4 726L741.6 680.4L744.9 771.4L748.1 735.3L751.4 740.8L754.6 717.1L757.8 817.8L761.1 757.2L764.3 798.1L767.6 755.5L770.8 764.6L774.1 766.5L777.3 804.4L780.5 697.4L783.8 751.8L787 729.8L790.3 765.3L793.5 736.5L796.7 744.1L800 732.8L803.2 719.9L806.5 756.5L809.7 789.6L812.9 758.2L816.2 709.4L819.4 731.5L822.7 785.7L825.9 745.4L829.1 783.4L832.4 762.5L835.6 810.8L838.9 727.2L842.1 776.4L845.3 791.8L848.6 771.2L851.8 713.4L855.1 729.8L858.3 746.1L861.6 734.3L864.8 752.4L868 747.4L871.3 753.3L874.5 755.9L877.8 737.7L881 791.1L884.2 794.5L887.5 749.5L890.7 804.2L894 806.3L897.2 741.5L900.4 824L903.7 815L906.9 783.6L910.2 747L913.4 776L916.6 739.7L919.9 775.7L923.1 740.2L926.4 721.4L929.6 721.8L932.8 740.4L936.1 715.3L939.3 765.8L942.6 779.1L945.8 753.3L949.1 739.2L952.3 736.8L955.5 743.6L958.8 725.4L962 758.7L965.3 715.8L968.5 762.8L971.7 704.7L975 692.4L978.2 739.2L981.5 830.4L984.7 727.5L987.9 703.1L991.2 782.9L994.4 727.7L997.7 710.4"/>
<path d="M722.2 740.6L725.4 780L728.7 743.9L731.9 723.1L735.2 742.7L738.4 795.9L741.6 784.5L744.9 717.2L748.1 686.3L751.4 810.2L754.6 753.7L757.8 823.1L761.1 767.4L764.3 770.7L767.6 750.5L770.8 756.7L774.1 767.7L777.3 753.4L780.5 813.5L783.8 754.8L787 739.7L790.3 791.8L793.5 725.4L796.7 734.6L800 754.2L803.2 700.5L806.5 757L809.7 750.9L812.9 777.2L816.2 762.3L819.4 717.3L822.7 713.8L825.9 731.7L829.1 746.6L832.4 754.2L835.6 750.5L838.9 777.3L842.1 729.2L845.3 742.1L848.6 804.8L851.8 753.1L855.1 756L858.3 786L861.6 731.1L864.8 781.1L868 762.5L871.3 743.4L874.5 777.4L877.8 815.5L881 776L884.2 756L887.5 811.4L890.7 780.7L894 834.6L897.2 800.5L900.4 769.8L903.7 744.9L906.9 744.3L910.2 798.2L913.4 724.4L916.6 841.2L919.9 669L923.1 764.7L926.4 796L929.6 730L932.8 687.6L936.1 726.9L939.3 733.5L942.6 780.8L945.8 744.8L949.1 756.4L952.3 738.1L955.5 810.3L958.8 735.6L962 735.1L965.3 742L968.5 842.2L971.7 634.7L975 659L978.2 707.2L981.5 702.1L984.7 721.2L987.9 753.8L991.2 753.4L994.4 717L997.7 697.2"/>
<path d="M722.2 771.3L725.4 729.8L728.7 828.3L731.9 794.1L735.2 749.5L738.4 783.3L741.6 742L744.9 754L748.1 757.1L751.4 719.9L754.6 754.3L757.8 733.2L761.1 773.6L764.3 721.2L767.6 733.9L770.8 776.7L774.1 815.3L777.3 773.5L780.5 772.1L783.8 716.8L787 734.8L790.3 758.8L793.5 755.6L796.7 749.5L800 795.8L803.2 800.6L806.5 729.2L809.7 731.7L812.9 699.7L816.2 761L819.4 783.5L822.7 809.5L825.9 739.3L829.1 745.9L832.4 738.3L835.6 843.4L838.9 823.5L842.1 760.2L845.3 776.2L848.6 734.3L851.8 747.6L855.1 839.6L858.3 756.8L861.6 770L864.8 773.7L868 726L871.3 719.1L874.5 707.3L877.8 804.8L881 744.1L884.2 744.4L887.5 791.6L890.7 727.6L894 753.2L897.2 731.2L900.4 780.1L903.7 757.7L906.9 699.3L910.2 796.6L913.4 812.4L916.6 770.2L919.9 741.9L923.1 747.3L926.4 721.7L929.6 749.1L932.8 798.4L936.1 757.9L939.3 706.8L942.6 709.7L945.8 740.8L949.1 797.8L952.3 762.6L955.5 762.3L958.8 785.5L962 720.9L965.3 750.1L968.5 736.2L971.7 702.9L975 754.1L978.2 689.9L981.5 735.6L984.7 765.3L987.9 690.9L991.2 780.1L994.4 778.6L997.7 752.8"/>
<path d="M722.2 774L725.4 750L728.7 754.4L731.9 755.4L735.2 727L738.4 773L741.6 813L744.9 712.9L748.1 812.8L751.4 724.8L754.6 727.5L757.8 741.4L761.1 756.4L764.3 763.7L767.6 813.9L770.8 779.3L774.1 807.4L777.3 741L780.5 779.4L783.8 707.9L787 717.3L790.3 839.6L793.5 755.6L796.7 770.2L800 787.1L803.2 777.8L806.5 701.9L809.7 764.9L812.9 833.2L816.2 795.3L819.4 748.3L822.7 765.3L825.9 746.6L829.1 767.1L832.4 768.8L835.6 763.9L838.9 739.3L842.1 716.4L845.3 782.8L848.6 765.6L851.8 778.2L855.1 801L858.3 757.7L861.6 818.7L864.8 768.5L868 805.4L871.3 795.4L874.5 749.3L877.8 804.6L881 788.1L884.2 769.8L887.5 757.4L890.7 767.2L894 745.7L897.2 718.8L900.4 766.4L903.7 797.1L906.9 752.4L910.2 788.9L913.4 718.7L916.6 819.2L919.9 762L923.1 744.1L926.4 763.8L929.6 775.1L932.8 765.7L936.1 763.2L939.3 712.2L942.6 777.8L945.8 747L949.1 719.7L952.3 778.8L955.5 765.7L958.8 812.7L962 728L965.3 787.4L968.5 769.6L971.7 717.9L975 769.5L978.2 754.2L981.5 774.3L984.7 713.5L987.9 656.6L991.2 723.3L994.4 735.9L997.7 759.1"/>
<path d="M722.2 826L725.4 805.1L728.7 785.7L731.9 762.8L735.2 745L738.4 782.1L741.6 748.7L744.9 769L748.1 745.3L751.4 787.8L754.6 745.8L757.8 737.6L761.1 743.3L764.3 779.7L767.6 741L770.8 805.6L774.1 733.3L777.3 768.2L780.5 753.1L783.8 728.5L787 754.2L790.3 772L793.5 782.8L796.7 740.2L800 723.7L803.2 731.7L806.5 730.7L809.7 825.3L812.9 714.8L816.2 756.1L819.4 841.3L822.7 730.4L825.9 821.8L829.1 812.9L832.4 796.7L835.6 784.3L838.9 710.1L842.1 772.1L845.3 760.8L848.6 803.2L851.8 802.1L855.1 724.4L858.3 687.9L861.6 751.8L864.8 842.6L868 774.8L871.3 773.1L874.5 800L877.8 760.9L881 782.3L884.2 738.7L887.5 735.3L890.7 783.6L894 777.1L897.2 784L900.4 770.5L903.7 802.2L906.9 772.2L910.2 775L913.4 806.5L916.6 764.7L919.9 716.2L923.1 725.9L926.4 754.2L929.6 799.6L932.8 745L936.1 741L939.3 798.2L942.6 809.5L945.8 708.4L949.1 719.1L952.3 744.6L955.5 769.4L958.8 739.3L962 700.2L965.3 816L968.5 762.3L971.7 794.2L975 766.3L978.2 756.4L981.5 685.4L984.7 744.8L987.9 742.1L991.2 744L994.4 708.7L997.7 688.3"/>
<path d="M722.2 787.3L725.4 784.3L728.7 801.3L731.9 764.4L735.2 704L738.4 752.9L741.6 747.1L744.9 737L748.1 717.8L751.4 783.3L754.6 734.9L757.8 760.7L761.1 779.5L764.3 733.3L767.6 747.2L770.8 740L774.1 805.2L777.3 733.6L780.5 714L783.8 799.4L787 678.8L790.3 806.7L793.5 777.7L796.7 764.5L800 774.7L803.2 759.7L806.5 765.6L809.7 681.7L812.9 743.7L816.2 721.9L819.4 701.2L822.7 725.2L825.9 751L829.1 768.4L832.4 738.8L835.6 733.1L838.9 813.1L842.1 795.2L845.3 737.6L848.6 729.9L851.8 762.2L855.1 788.2L858.3 745.7L861.6 769.9L864.8 802.5L868 718.2L871.3 772.1L874.5 763.3L877.8 732.5L881 772.6L884.2 788.1L887.5 745.2L890.7 742.8L894 810.3L897.2 759.8L900.4 735.6L903.7 772.8L906.9 777.1L910.2 752.6L913.4 705.6L916.6 738L919.9 713.7L923.1 802.3L926.4 733.6L929.6 819.4L932.8 760.3L936.1 748.6L939.3 758.5L942.6 808.9L945.8 715.4L949.1 738.8L952.3 736.3L955.5 773.8L958.8 735.2L962 748.1L965.3 765.7L968.5 732.9L971.7 783.3L975 732.7L978.2 725.7L981.5 758.1L984.7 717.9L987.9 746.7L991.2 714.9L994.4 690.4L997.7 733.8"/>
<path d="M722.2 805.1L725.4 754.4L728.7 789.9L731.9 739.4L735.2 827.7L738.4 751.8L741.6 776.5L744.9 754.2L748.1 747.9L751.4 730.6L754.6 801.1L757.8 748.8L761.1 737.5L764.3 794.4L767.6 789.8L770.8 737L774.1 785.5L777.3 794.4L780.5 768.8L783.8 725.3L787 752.9L790.3 732L793.5 720.8L796.7 755.4L800 779.1L803.2 682.8L806.5 734.5L809.7 732.2L812.9 765.9L816.2 740L819.4 718.8L822.7 812.2L825.9 757L829.1 806.5L832.4 772.5L835.6 736L838.9 719.3L842.1 727.9L845.3 757.1L848.6 762.7L851.8 804.8L855.1 722.9L858.3 767.2L861.6 801.5L864.8 819.7L868 802.6L871.3 791.3L874.5 796.9L877.8 727.6L881 772.6L884.2 725.6L887.5 832.3L890.7 797.8L894 763.9L897.2 747.9L900.4 757.7L903.7 787.2L906.9 746.7L910.2 757.4L913.4 739.3L916.6 778.8L919.9 775.3L923.1 720.5L926.4 783.5L929.6 757.2L932.8 793L936.1 783.9L939.3 737.6L942.6 777.4L945.8 790.1L949.1 717.7L952.3 750.3L955.5 732.2L958.8 777.8L962 694.8L965.3 769.3L968.5 737.9L971.7 764.5L975 807L978.2 733.1L981.5 709L984.7 695.4L987.9 758.9L991.2 695.7L994.4 684.7L997.7 737.8"/>
<path d="M722.2 827.7L725.4 770.2L728.7 828.1L731.9 798.4L735.2 785.1L738.4 779L741.6 775.5L744.9 774.2L748.1 791.1L751.4 766.4L754.6 710.3L757.8 702.9L761.1 726.1L764.3 758.4L767.6 707.7L770.8 752.3L774.1 772.5L777.3 795.2L780.5 732.9L783.8 735.3L787 714.6L790.3 716.6L793.5 745.8L796.7 797.7L800 654.9L803.2 751.9L806.5 754.2L809.7 804.3L812.9 794.9L816.2 767.6L819.4 707L822.7 736.7L825.9 749.4L829.1 734.2L832.4 788.3L835.6 745.9L838.9 726L842.1 769.9L845.3 792.1L848.6 738.4L851.8 724.9L855.1 733.2L858.3 764.8L861.6 783.8L864.8 750.2L868 743.7L871.3 794.4L874.5 847.9L877.8 856.1L881 849L884.2 743.2L887.5 764.6L890.7 760.9L894 753.4L897.2 740.2L900.4 766.2L903.7 783.2L906.9 801.7L910.2 807.8L913.4 758.5L916.6 751L919.9 784.5L923.1 775.9L926.4 746.8L929.6 764.5L932.8 706.9L936.1 760L939.3 716.4L942.6 767.2L945.8 662.7L949.1 755.7L952.3 710.7L955.5 747.6L958.8 759.7L962 725.2L965.3 794.1L968.5 781.6L971.7 729.3L975 794.8L978.2 732L981.5 745.7L984.7 791.2L987.9 799.2L991.2 738L994.4 757.3L997.7 723.3"/>
<path d="M722.2 818.3L725.4 752.1L728.7 803.9L731.9 704.5L735.2 771.4L738.4 804.1L741.6 768.8L744.9 706.5L748.1 762.9L751.4 726.6L754.6 741.1L757.8 759.3L761.1 819.4L764.3 752.1L767.6 718.8L770.8 819.5L774.1 754L777.3 735.1L780.5 753L783.8 754.7L787 797.3L790.3 686.2L793.5 729.6L796.7 770.7L800 758.2L803.2 746.3L806.5 683.4L809.7 785L812.9 732.1L816.2 801.7L819.4 686.4L822.7 772L825.9 777.5L829.1 812.3L832.4 765L835.6 740.4L838.9 767.9L842.1 759.2L845.3 767.1L848.6 691.8L851.8 755.8L855.1 761.9L858.3 767.8L861.6 773L864.8 832L868 834L871.3 805.3L874.5 775.1L877.8 815.1L881 773.3L884.2 752L887.5 741.5L890.7 760.1L894 818.7L897.2 802.3L900.4 808.1L903.7 779.5L906.9 738.3L910.2 772.3L913.4 765.9L916.6 740.1L919.9 788.1L923.1 703.2L926.4 718.3L929.6 724.8L932.8 744.9L936.1 745.4L939.3 779.1L942.6 786.5L945.8 738.5L949.1 737.6L952.3 752.7L955.5 801.2L958.8 772.9L962 770.5L965.3 772.3L968.5 764L971.7 745.4L975 675.3L978.2 720.1L981.5 701.8L984.7 708.7L987.9 726L991.2 761.9L994.4 768.2L997.7 702.2"/>
<path d="M722.2 804.3L725.4 783.9L728.7 707.8L731.9 771.1L735.2 760.5L738.4 711.1L741.6 771.6L744.9 788L748.1 787.6L751.4 751.6L754.6 789L757.8 799.5L761.1 788.2L764.3 720.3L767.6 793.6L770.8 749.8L774.1 754L777.3 807.3L780.5 819.7L783.8 825.6L787 672.3L790.3 810.6L793.5 700.1L796.7 775.3L800 725.3L803.2 771L806.5 790.4L809.7 799.1L812.9 749.3L816.2 681.7L819.4 748.2L822.7 752.6L825.9 769.3L829.1 799.2L832.4 746.3L835.6 796.8L838.9 742.3L842.1 760.7L845.3 786.1L848.6 791.7L851.8 798.7L855.1 749.5L858.3 795.2L861.6 748.7L864.8 854.2L868 800.5L871.3 781.5L874.5 753.6L877.8 757.2L881 782.7L884.2 749L887.5 769.4L890.7 741.8L894 752.7L897.2 800.2L900.4 744.1L903.7 760.4L906.9 733.3L910.2 788L913.4 743.1L916.6 755.5L919.9 760.4L923.1 748.3L926.4 787.3L929.6 777.1L932.8 774.5L936.1 738L939.3 751.1L942.6 735.6L945.8 734.5L949.1 729.5L952.3 805.3L955.5 801.2L958.8 727.5L962 749.4L965.3 774.4L968.5 749.2L971.7 804.9L975 704.6L978.2 744L981.5 677.2L984.7 778.9L987.9 717.9L991.2 749.2L994.4 771L997.7 727.8"/>
</g>
<g fill="none" stroke="rgb(242,204,153)" stroke-opacity="0.5" stroke-width="1.25" stroke-linejoin="round">
<path d="M1000.1 711.2L1003.3 712.7L1006.6 772.4L1009.8 769.3L1013.1 717.4L1016.3 770L1019.5 711.2L1022.8 666.9L1026 701.6L1029.3 706L1032.5 732.7L1035.8 731L1039 701.4L1042.2 700.3L1045.5 707.4L1048.7 658.1L1052 721.4L1055.2 733.3L1058.5 710.8L1061.7 674.1L1064.9 699L1068.2 685.3L1071.4 692.8L1074.7 744.2L1077.9 698.9L1081.2 688L1084.4 722.3L1087.7 671.2L1090.9 751.2L1094.1 706.2L1097.4 712.3L1100.6 708.1L1103.9 676.2L1107.1 719.1L1110.4 713.4L1113.6 706L1116.8 683.8L1120.1 694.7L1123.3 740.6L1126.6 691.8L1129.8 716.9L1133.1 729.3L1136.3 687.6L1139.5 697.1L1142.8 710.3L1146 745.3L1149.3 719.6L1152.5 701.2L1155.8 711.6L1159 673.3L1162.2 730L1165.5 719.8L1168.7 719.3L1172 719L1175.2 726.8L1178.5 704.2L1181.7 777.8L1184.9 699.1L1188.2 726.5L1191.4 731.5L1194.7 694.5L1197.9 723.7L1201.2 712.3L1204.4 706.1L1207.6 693.1L1210.9 737.4L1214.1 758.8L1217.4 758.7L1220.6 738.9L1223.9 750.2L1227.1 699.3L1230.4 753.1L1233.6 732.5"/>
<path d="M1000.1 731.4L1003.3 739.8L1006.6 727.6L1009.8 713.1L1013.1 715.9L1016.3 772.6L1019.5 709.9L1022.8 718.1L1026 733.1L1029.3 754.3L1032.5 688.8L1035.8 717.6L1039 688.2L1042.2 704.9L1045.5 726L1048.7 668.8L1052 705.5L1055.2 700.5L1058.5 727.9L1061.7 701.2L1064.9 704.9L1068.2 694.2L1071.4 733.6L1074.7 715.9L1077.9 709.6L1081.2 633.1L1084.4 720.2L1087.7 685.4L1090.9 719.5L1094.1 702.8L1097.4 718.8L1100.6 689.1L1103.9 709.5L1107.1 698.4L1110.4 666.9L1113.6 712.9L1116.8 682.8L1120.1 696.1L1123.3 725.5L1126.6 739.2L1129.8 717L1133.1 710.2L1136.3 711.1L1139.5 687.7L1142.8 712.3L1146 717.8L1149.3 697.2L1152.5 725.6L1155.8 686.6L1159 718.8L1162.2 701.3L1165.5 702.7L1168.7 706.1L1172 705.7L1175.2 700.8L1178.5 725.8L1181.7 722.6L1184.9 799.2L1188.2 686.9L1191.4 722L1194.7 749.4L1197.9 767.8L1201.2 733.4L1204.4 759.5L1207.6 724L1210.9 760.1L1214.1 722.8L1217.4 711.8L1220.6 745.2L1223.9 735.6L1227.1 746.3L1230.4 735.6L1233.6 713.8"/>
<path d="M1000.1 706.4L1003.3 708.7L1006.6 701.3L1009.8 700.7L1013.1 718.9L1016.3 724.4L1019.5 698.2L1022.8 685.4L1026 694.8L1029.3 700.3L1032.5 712.6L1035.8 756.7L1039 704.4L1042.2 671.9L1045.5 744.3L1048.7 703.7L1052 691.1L1055.2 713L1058.5 693.9L1061.7 742.7L1064.9 696.9L1068.2 697.8L1071.4 693.9L1074.7 704.7L1077.9 695L1081.2 690L1084.4 697.7L1087.7 679.5L1090.9 721L1094.1 725.7L1097.4 680.3L1100.6 685.9L1103.9 713.5L1107.1 673.6L1110.4 680.7L1113.6 713.3L1116.8 699.3L1120.1 699.8L1123.3 658.6L1126.6 733.1L1129.8 705L1133.1 699.3L1136.3 758.7L1139.5 728.4L1142.8 667.4L1146 757.1L1149.3 695.4L1152.5 707.6L1155.8 684.7L1159 747.5L1162.2 713.8L1165.5 733.4L1168.7 749.3L1172 717.4L1175.2 678.8L1178.5 767.7L1181.7 713.3L1184.9 689.9L1188.2 715.3L1191.4 723.8L1194.7 720L1197.9 727.8L1201.2 745.8L1204.4 785.4L1207.6 757.4L1210.9 744.2L1214.1 794.7L1217.4 741.8L1220.6 807.4L1223.9 743.7L1227.1 712.8L1230.4 785.1L1233.6 743"/>
<path d="M1000.1 710.8L1003.3 720.7L1006.6 731.4L1009.8 737.7L1013.1 721.9L1016.3 700.3L1019.5 730.5L1022.8 725.2L1026 705.5L1029.3 729.4L1032.5 738.5L1035.8 679.5L1039 673.9L1042.2 697.6L1045.5 733.6L1048.7 675.5L1052 734.9L1055.2 693.3L1058.5 720.1L1061.7 692.2L1064.9 689.2L1068.2 694.3L1071.4 688.5L1074.7 676.7L1077.9 686.7L1081.2 692.9L1084.4 695.7L1087.7 669.8L1090.9 693.2L1094.1 608.3L1097.4 721L1100.6 713.4L1103.9 709.1L1107.1 708.6L1110.4 673.9L1113.6 693.4L1116.8 721L1120.1 706.6L1123.3 741.9L1126.6 764.7L1129.8 755.3L1133.1 692L1136.3 699.8L1139.5 699.2L1142.8 737.5L1146 719.7L1149.3 704.4L1152.5 689.6L1155.8 710.3L1159 704.4L1162.2 750.6L1165.5 789.1L1168.7 695.1L1172 684.5L1175.2 745L1178.5 744.9L1181.7 708.4L1184.9 731.3L1188.2 734L1191.4 708.2L1194.7 749.8L1197.9 719L1201.2 740.6L1204.4 772.8L1207.6 712.2L1210.9 764.6L1214.1 756.8L1217.4 783.8L1220.6 726L1223.9 752.9L1227.1 715.9L1230.4 746.8L1233.6 785"/>
<path d="M1000.1 769.5L1003.3 742L1006.6 707.5L1009.8 686.6L1013.1 735L1016.3 714L1019.5 732.4L1022.8 713.2L1026 713.6L1029.3 765.4L1032.5 690.9L1035.8 713.3L1039 738.7L1042.2 758.3L1045.5 687.3L1048.7 681.7L1052 692.8L1055.2 667.3L1058.5 681.7L1061.7 742L1064.9 682.5L1068.2 672.7L1071.4 695.9L1074.7 701.7L1077.9 685.8L1081.2 701.4L1084.4 728.8L1087.7 720L1090.9 698.4L1094.1 727.8L1097.4 748.6L1100.6 712.6L1103.9 663.9L1107.1 728.8L1110.4 692.5L1113.6 730.1L1116.8 686.9L1120.1 680.6L1123.3 687.1L1126.6 695.6L1129.8 751L1133.1 691.9L1136.3 701.8L1139.5 709.2L1142.8 675.7L1146 697.3L1149.3 687.5L1152.5 737.4L1155.8 679.4L1159 705.9L1162.2 719.8L1165.5 753.5L1168.7 745.3L1172 723.6L1175.2 700.2L1178.5 790.3L1181.7 757.8L1184.9 733.3L1188.2 691.5L1191.4 719.2L1194.7 703.6L1197.9 702.7L1201.2 714.2L1204.4 700.2L1207.6 701.3L1210.9 725.6L1214.1 724.4L1217.4 693L1220.6 732.5L1223.9 780L1227.1 738.7L1230.4 730.3L1233.6 729.5"/>
<path d="M1000.1 771.6L1003.3 739.8L1006.6 746.2L1009.8 731L1013.1 720.2L1016.3 775.6L1019.5 711.4L1022.8 661.4L1026 722.5L1029.3 740.8L1032.5 723.9L1035.8 730.3L1039 725.2L1042.2 721.9L1045.5 764.2L1048.7 747.7L1052 719L1055.2 709.3L1058.5 697.7L1061.7 677.8L1064.9 673.4L1068.2 675.7L1071.4 699.5L1074.7 691.8L1077.9 721.1L1081.2 704.7L1084.4 660.3L1087.7 662.7L1090.9 688.8L1094.1 762.8L1097.4 694.8L1100.6 712.3L1103.9 711.8L1107.1 692L1110.4 718.2L1113.6 659.3L1116.8 677.8L1120.1 661.3L1123.3 710.3L1126.6 763.1L1129.8 694.4L1133.1 678.8L1136.3 687.3L1139.5 704.5L1142.8 695.7L1146 718.1L1149.3 694.6L1152.5 696.5L1155.8 741L1159 743.1L1162.2 733.3L1165.5 700.6L1168.7 757.6L1172 804.4L1175.2 700.6L1178.5 747.7L1181.7 716.6L1184.9 733.2L1188.2 730.5L1191.4 748.1L1194.7 715.9L1197.9 734.8L1201.2 720.8L1204.4 744L1207.6 734.1L1210.9 724.8L1214.1 732.5L1217.4 728.2L1220.6 750.5L1223.9 746.9L1227.1 754.5L1230.4 697.8L1233.6 741"/>
<path d="M1000.1 700.9L1003.3 709.1L1006.6 752.2L1009.8 739.7L1013.1 723.7L1016.3 765.7L1019.5 753.4L1022.8 719.5L1026 738.5L1029.3 768.3L1032.5 698.3L1035.8 690.3L1039 693.9L1042.2 705.8L1045.5 707.9L1048.7 742.2L1052 689.8L1055.2 745.9L1058.5 745.3L1061.7 740.6L1064.9 703.3L1068.2 685.8L1071.4 741.6L1074.7 712.7L1077.9 700.1L1081.2 728.1L1084.4 716L1087.7 686.2L1090.9 719.6L1094.1 701.7L1097.4 702.1L1100.6 711.3L1103.9 690L1107.1 706.3L1110.4 689L1113.6 725.9L1116.8 705.1L1120.1 692.5L1123.3 726.7L1126.6 695.3L1129.8 689.9L1133.1 735.6L1136.3 694.2L1139.5 746.2L1142.8 729.8L1146 704.3L1149.3 697.5L1152.5 771.7L1155.8 715.8L1159 704.5L1162.2 706.4L1165.5 702.9L1168.7 786.3L1172 737.7L1175.2 728.2L1178.5 717.8L1181.7 715.6L1184.9 750.7L1188.2 680.6L1191.4 719.7L1194.7 714.6L1197.9 703L1201.2 761L1204.4 727.6L1207.6 770.2L1210.9 777L1214.1 718.3L1217.4 774.8L1220.6 757.1L1223.9 742.1L1227.1 787.8L1230.4 759.9L1233.6 757.7"/>
<path d="M1000.1 691.6L1003.3 754.9L1006.6 728.7L1009.8 760.8L1013.1 723.8L1016.3 760.3L1019.5 730.5L1022.8 735.9L1026 673.1L1029.3 726L1032.5 720.7L1035.8 716.1L1039 695.3L1042.2 678.3L1045.5 732.1L1048.7 712L1052 712.7L1055.2 736.6L1058.5 698.8L1061.7 744.4L1064.9 724.5L1068.2 714.6L1071.4 713.7L1074.7 752.7L1077.9 721.7L1081.2 726.8L1084.4 688L1087.7 717.6L1090.9 686.3L1094.1 684.6L1097.4 720.5L1100.6 695.8L1103.9 670.4L1107.1 684.1L1110.4 690.4L1113.6 723.8L1116.8 692.3L1120.1 728.8L1123.3 708.3L1126.6 689L1129.8 753.4L1133.1 705.6L1136.3 706.3L1139.5 695.5L1142.8 703.5L1146 704.5L1149.3 721.1L1152.5 738.7L1155.8 719.9L1159 698.6L1162.2 748.5L1165.5 719.5L1168.7 739.9L1172 673.9L1175.2 756.1L1178.5 715.3L1181.7 748L1184.9 700.2L1188.2 722.7L1191.4 771.9L1194.7 765.8L1197.9 742.5L1201.2 758.3L1204.4 695.6L1207.6 721.8L1210.9 739.5L1214.1 695L1217.4 730.8L1220.6 752.1L1223.9 769.9L1227.1 745.5L1230.4 784.1L1233.6 820.5"/>
<path d="M1000.1 717L1003.3 744.5L1006.6 749.6L1009.8 761.3L1013.1 681.3L1016.3 740.4L1019.5 710.6L1022.8 686.1L1026 688.1L1029.3 712.9L1032.5 734.5L1035.8 705.4L1039 684.5L1042.2 710.8L1045.5 747L1048.7 688.7L1052 722.3L1055.2 739.6L1058.5 706.7L1061.7 688.6L1064.9 683L1068.2 738.9L1071.4 725.7L1074.7 699.1L1077.9 711.5L1081.2 689.6L1084.4 702.4L1087.7 745.2L1090.9 722.4L1094.1 711.1L1097.4 725.8L1100.6 688.3L1103.9 715.9L1107.1 680.7L1110.4 651L1113.6 703.2L1116.8 691.3L1120.1 683.7L1123.3 671.6L1126.6 700.1L1129.8 699.2L1133.1 685.4L1136.3 696.3L1139.5 678.9L1142.8 687.7L1146 728.9L1149.3 687.8L1152.5 732.4L1155.8 683L1159 693.5L1162.2 794.1L1165.5 689.6L1168.7 747.8L1172 697.9L1175.2 727.9L1178.5 738.3L1181.7 743.5L1184.9 718.9L1188.2 709.9L1191.4 795.7L1194.7 746.2L1197.9 746.6L1201.2 716.3L1204.4 712.2L1207.6 747.9L1210.9 779.7L1214.1 722.3L1217.4 714.9L1220.6 767.2L1223.9 728.9L1227.1 758.8L1230.4 723.6L1233.6 745.2"/>
<path d="M1000.1 699L1003.3 713.6L1006.6 710.8L1009.8 726.5L1013.1 715.7L1016.3 733L1019.5 708.5L1022.8 740.2L1026 696.6L1029.3 712L1032.5 748.1L1035.8 719.4L1039 699.3L1042.2 702.1L1045.5 691.7L1048.7 735L1052 703.3L1055.2 703.7L1058.5 674.2L1061.7 725.4L1064.9 724.8L1068.2 734.6L1071.4 681.9L1074.7 730.2L1077.9 690.5L1081.2 711.7L1084.4 707.9L1087.7 722.8L1090.9 675.1L1094.1 696.6L1097.4 724.4L1100.6 748.2L1103.9 701.5L1107.1 716.1L1110.4 737.4L1113.6 696.7L1116.8 695L1120.1 696.8L1123.3 738.1L1126.6 700.8L1129.8 712.9L1133.1 697.5L1136.3 718.7L1139.5 754.9L1142.8 721.4L1146 727.1L1149.3 703.2L1152.5 701.4L1155.8 738.1L1159 744.8L1162.2 702.2L1165.5 716.9L1168.7 716.6L1172 711.8L1175.2 746.1L1178.5 703.9L1181.7 751.3L1184.9 764.1L1188.2 696.3L1191.4 735.4L1194.7 726.1L1197.9 710.2L1201.2 787.2L1204.4 777.5L1207.6 722.9L1210.9 731.6L1214.1 742.1L1217.4 776L1220.6 774.4L1223.9 750.5L1227.1 725.9L1230.4 714.2L1233.6 746.5"/>
<path d="M1000.1 735.2L1003.3 748.6L1006.6 771L1009.8 722L1013.1 722.9L1016.3 626.7L1019.5 718.9L1022.8 735.9L1026 664.8L1029.3 755.5L1032.5 731.6L1035.8 729.1L1039 742.3L1042.2 719.2L1045.5 679.9L1048.7 700.8L1052 751.4L1055.2 703.7L1058.5 709.7L1061.7 694L1064.9 699.7L1068.2 690.8L1071.4 684.5L1074.7 700.5L1077.9 691.4L1081.2 679.8L1084.4 737.2L1087.7 698L1090.9 715.7L1094.1 740.3L1097.4 753.6L1100.6 689.4L1103.9 719.7L1107.1 705.5L1110.4 686.8L1113.6 713.9L1116.8 691.4L1120.1 683.1L1123.3 703.5L1126.6 716.6L1129.8 724.2L1133.1 704.4L1136.3 741.6L1139.5 699.7L1142.8 694.9L1146 732.5L1149.3 694.8L1152.5 730L1155.8 734.1L1159 701.2L1162.2 705.4L1165.5 725.5L1168.7 740.6L1172 709.4L1175.2 715.7L1178.5 695.6L1181.7 730.1L1184.9 744.1L1188.2 748.9L1191.4 730.7L1194.7 746L1197.9 771.9L1201.2 757.4L1204.4 743.4L1207.6 737L1210.9 757L1214.1 747.7L1217.4 737.8L1220.6 772.4L1223.9 744.6L1227.1 770.2L1230.4 741.4L1233.6 782.4"/>
<path d="M1000.1 725L1003.3 714.6L1006.6 717.2L1009.8 771.2L1013.1 740.4L1016.3 757.5L1019.5 714L1022.8 710.5L1026 707.2L1029.3 734.5L1032.5 720L1035.8 729.1L1039 697.1L1042.2 776.4L1045.5 689.3L1048.7 830L1052 717.3L1055.2 744.9L1058.5 713L1061.7 737L1064.9 717.2L1068.2 682.9L1071.4 690.7L1074.7 678.4L1077.9 731.5L1081.2 701.7L1084.4 708.1L1087.7 709.5L1090.9 706.8L1094.1 699L1097.4 692.4L1100.6 680.9L1103.9 721.6L1107.1 715.3L1110.4 704.2L1113.6 726.1L1116.8 718.1L1120.1 711.9L1123.3 740.9L1126.6 668.6L1129.8 721.2L1133.1 661.9L1136.3 739.2L1139.5 730.5L1142.8 702.3L1146 713.9L1149.3 733.7L1152.5 708.9L1155.8 712.4L1159 736L1162.2 672.1L1165.5 734.6L1168.7 740.3L1172 742.3L1175.2 738.3L1178.5 696.1L1181.7 757.7L1184.9 703.5L1188.2 673.8L1191.4 739.9L1194.7 734.3L1197.9 741.6L1201.2 753.9L1204.4 780.4L1207.6 761.4L1210.9 714.4L1214.1 750.6L1217.4 754.6L1220.6 743L1223.9 746.2L1227.1 747.5L1230.4 769.6L1233.6 730.9"/>
<path d="M1000.1 670.1L1003.3 722.4L1006.6 712.4L1009.8 716.2L1013.1 744.7L1016.3 705.4L1019.5 724.1L1022.8 689.5L1026 692.8L1029.3 707.8L1032.5 703.5L1035.8 730.3L1039 694.6L1042.2 713L1045.5 707.4L1048.7 702.7L1052 725.4L1055.2 736.1L1058.5 727L1061.7 737.9L1064.9 704.4L1068.2 736.1L1071.4 731.1L1074.7 703.5L1077.9 737.7L1081.2 686.4L1084.4 686.2L1087.7 677.6L1090.9 716.5L1094.1 671.4L1097.4 730.1L1100.6 674.1L1103.9 700.2L1107.1 705L1110.4 715.4L1113.6 691.3L1116.8 719.4L1120.1 720.6L1123.3 702.6L1126.6 671.9L1129.8 734.8L1133.1 698.3L1136.3 700L1139.5 711.7L1142.8 661.2L1146 735.2L1149.3 687.6L1152.5 726.2L1155.8 715.4L1159 695.3L1162.2 727.5L1165.5 732.6L1168.7 722.3L1172 721.6L1175.2 731.3L1178.5 714.1L1181.7 702.2L1184.9 721.6L1188.2 690.2L1191.4 710.1L1194.7 747.3L1197.9 747.9L1201.2 731.7L1204.4 752.4L1207.6 730L1210.9 725.9L1214.1 750.7L1217.4 739.9L1220.6 744.1L1223.9 739.6L1227.1 807.8L1230.4 762.8L1233.6 771.9"/>
<path d="M1000.1 713.8L1003.3 737.9L1006.6 715.8L1009.8 714.7L1013.1 720.7L1016.3 726.7L1019.5 764.9L1022.8 697L1026 737L1029.3 728L1032.5 725.6L1035.8 772.4L1039 712.6L1042.2 680.9L1045.5 739.9L1048.7 726.8L1052 673L1055.2 722.3L1058.5 688.6L1061.7 701.6L1064.9 735.9L1068.2 683.4L1071.4 702.5L1074.7 734.1L1077.9 703.5L1081.2 694.3L1084.4 728.2L1087.7 728L1090.9 733.3L1094.1 758.5L1097.4 672.4L1100.6 666.2L1103.9 695.5L1107.1 671.3L1110.4 682.8L1113.6 678.2L1116.8 718.7L1120.1 723.7L1123.3 689.3L1126.6 766.3L1129.8 751L1133.1 690.5L1136.3 707.1L1139.5 703.1L1142.8 717.8L1146 727.5L1149.3 713.9L1152.5 721.4L1155.8 719L1159 728.1L1162.2 704L1165.5 724.8L1168.7 707.6L1172 719.5L1175.2 717L1178.5 730.1L1181.7 684.8L1184.9 694.5L1188.2 769.1L1191.4 740.5L1194.7 714.2L1197.9 744.4L1201.2 792.2L1204.4 768.9L1207.6 712.7L1210.9 727.2L1214.1 698.5L1217.4 719.8L1220.6 770.3L1223.9 783L1227.1 751.9L1230.4 718.2L1233.6 698.8"/>
<path d="M1000.1 722.6L1003.3 722.7L1006.6 726.5L1009.8 721.2L1013.1 774.9L1016.3 721.7L1019.5 728.3L1022.8 728.6L1026 754L1029.3 718.1L1032.5 718L1035.8 734.2L1039 715.8L1042.2 694.2L1045.5 708.8L1048.7 705.4L1052 687.3L1055.2 675.5L1058.5 691.6L1061.7 692.5L1064.9 722.3L1068.2 733.2L1071.4 650.6L1074.7 703.4L1077.9 700.8L1081.2 705.4L1084.4 721.3L1087.7 684.1L1090.9 650.4L1094.1 705.4L1097.4 702.1L1100.6 715.7L1103.9 718.1L1107.1 697.5L1110.4 717.2L1113.6 699.6L1116.8 711.5L1120.1 680.2L1123.3 709.4L1126.6 715.7L1129.8 692.7L1133.1 706.5L1136.3 757.8L1139.5 698L1142.8 677.2L1146 749.8L1149.3 765.2L1152.5 720.4L1155.8 725.2L1159 729.8L1162.2 710.8L1165.5 745.1L1168.7 720.3L1172 671.1L1175.2 714.9L1178.5 734.1L1181.7 770.3L1184.9 719.7L1188.2 710.1L1191.4 733.2L1194.7 727.6L1197.9 718.9L1201.2 766.7L1204.4 747.8L1207.6 716.7L1210.9 744.6L1214.1 758.5L1217.4 710L1220.6 710.1L1223.9 736.7L1227.1 736.4L1230.4 726.2L1233.6 736.3"/>
<path d="M1000.1 688L1003.3 772L1006.6 735.1L1009.8 736.5L1013.1 710.3L1016.3 740.8L1019.5 665.3L1022.8 695.8L1026 721.2L1029.3 706.3L1032.5 719.9L1035.8 672.9L1039 708.9L1042.2 723L1045.5 723.9L1048.7 706.2L1052 689L1055.2 738.7L1058.5 688.3L1061.7 690.1L1064.9 697.4L1068.2 707L1071.4 719L1074.7 682.2L1077.9 718.4L1081.2 714.8L1084.4 677.7L1087.7 713.6L1090.9 685.9L1094.1 731.4L1097.4 749.5L1100.6 671.5L1103.9 662.5L1107.1 685.2L1110.4 692.8L1113.6 701.9L1116.8 692.1L1120.1 732L1123.3 708.7L1126.6 722.1L1129.8 666.8L1133.1 715.5L1136.3 704.7L1139.5 708.4L1142.8 700L1146 742.5L1149.3 682.3L1152.5 727.9L1155.8 671.8L1159 720.8L1162.2 715.9L1165.5 759.5L1168.7 722.4L1172 728.7L1175.2 705.9L1178.5 731.2L1181.7 722.2L1184.9 718.2L1188.2 717.7L1191.4 736.5L1194.7 709.4L1197.9 729.8L1201.2 764.2L1204.4 757.6L1207.6 745L1210.9 704.9L1214.1 710.6L1217.4 709.3L1220.6 731.2L1223.9 736.9L1227.1 764.1L1230.4 736L1233.6 734.3"/>
<path d="M1000.1 741.5L1003.3 715L1006.6 691.9L1009.8 727.4L1013.1 701.7L1016.3 728L1019.5 745.9L1022.8 725.5L1026 697.5L1029.3 714.4L1032.5 702.8L1035.8 745.3L1039 733.5L1042.2 717.5L1045.5 725.6L1048.7 737.4L1052 694.6L1055.2 720.1L1058.5 748L1061.7 696.8L1064.9 733.5L1068.2 715.9L1071.4 685.3L1074.7 696.1L1077.9 675.8L1081.2 718.4L1084.4 686.7L1087.7 698.6L1090.9 699.9L1094.1 745L1097.4 722.8L1100.6 702.2L1103.9 751.4L1107.1 688.6L1110.4 721L1113.6 716.7L1116.8 709L1120.1 720.1L1123.3 686.7L1126.6 752.4L1129.8 720.3L1133.1 721.6L1136.3 725.8L1139.5 714.7L1142.8 780.7L1146 712.7L1149.3 694.2L1152.5 707L1155.8 654.7L1159 724.6L1162.2 708.3L1165.5 720.2L1168.7 711.7L1172 736.4L1175.2 777L1178.5 709.3L1181.7 749.3L1184.9 741.2L1188.2 744.4L1191.4 738.8L1194.7 756L1197.9 764.7L1201.2 727.7L1204.4 685.1L1207.6 747.6L1210.9 731.4L1214.1 773.4L1217.4 730.8L1220.6 751.8L1223.9 693.1L1227.1 758.6L1230.4 753.4L1233.6 784.4"/>
<path d="M1000.1 729.5L1003.3 739L1006.6 741.2L1009.8 683.1L1013.1 751.3L1016.3 735L1019.5 728.7L1022.8 726.7L1026 703.3L1029.3 717.4L1032.5 724.3L1035.8 730L1039 750.4L1042.2 725.2L1045.5 726.1L1048.7 693.9L1052 756L1055.2 742.8L1058.5 732.7L1061.7 680.6L1064.9 720.2L1068.2 679.6L1071.4 700.2L1074.7 687.3L1077.9 682.1L1081.2 711.7L1084.4 753.6L1087.7 689.6L1090.9 732.8L1094.1 697.5L1097.4 701.8L1100.6 708L1103.9 721.5L1107.1 690.2L1110.4 675.7L1113.6 692.7L1116.8 630L1120.1 634.2L1123.3 686L1126.6 712.4L1129.8 700.4L1133.1 695.1L1136.3 697L1139.5 689L1142.8 698.7L1146 709.8L1149.3 704.9L1152.5 717L1155.8 732.8L1159 683.8L1162.2 682.6L1165.5 757.2L1168.7 701.7L1172 702.9L1175.2 734L1178.5 720.7L1181.7 749.8L1184.9 722L1188.2 744.4L1191.4 737.6L1194.7 744.7L1197.9 721.8L1201.2 722.6L1204.4 743.1L1207.6 712.8L1210.9 775.4L1214.1 734.1L1217.4 733.7L1220.6 786.4L1223.9 730.7L1227.1 733.6L1230.4 763.4L1233.6 743.1"/>
<path d="M1000.1 718.1L1003.3 729L1006.6 748.7L1009.8 714.1L1013.1 757.3L1016.3 712.8L1019.5 726.4L1022.8 705L1026 750L1029.3 705.1L1032.5 789.2L1035.8 701.1L1039 728.5L1042.2 724.5L1045.5 728L1048.7 724.2L1052 678.9L1055.2 677.9L1058.5 706.4L1061.7 710L1064.9 683.5L1068.2 712.4L1071.4 744.8L1074.7 705.7L1077.9 723.6L1081.2 689.7L1084.4 767.8L1087.7 703.5L1090.9 711.4L1094.1 702.8L1097.4 701.1L1100.6 702.3L1103.9 715.5L1107.1 684.2L1110.4 721.8L1113.6 721.7L1116.8 696L1120.1 674.3L1123.3 696.6L1126.6 688.5L1129.8 758.5L1133.1 740.5L1136.3 721.7L1139.5 703.5L1142.8 731.6L1146 732L1149.3 763.3L1152.5 677.6L1155.8 730.8L1159 683.8L1162.2 773.9L1165.5 683.5L1168.7 704.5L1172 700.6L1175.2 716.8L1178.5 721.5L1181.7 749.9L1184.9 721.2L1188.2 729.5L1191.4 741.9L1194.7 700.7L1197.9 765L1201.2 711L1204.4 755.4L1207.6 752.4L1210.9 719.6L1214.1 766L1217.4 757.9L1220.6 757.1L1223.9 750.9L1227.1 757.9L1230.4 767.1L1233.6 780.4"/>
<path d="M1000.1 675.6L1003.3 776.8L1006.6 739.9L1009.8 736.3L1013.1 715.4L1016.3 721.3L1019.5 738.2L1022.8 695.4L1026 688.8L1029.3 742.2L1032.5 730.5L1035.8 710.9L1039 766L1042.2 724.9L1045.5 724.5L1048.7 710.7L1052 709.9L1055.2 692.7L1058.5 749.6L1061.7 674.7L1064.9 692.6L1068.2 666.1L1071.4 701.8L1074.7 708.2L1077.9 709.4L1081.2 723.2L1084.4 695.8L1087.7 717L1090.9 692.3L1094.1 680.9L1097.4 706.5L1100.6 725.5L1103.9 667.1L1107.1 688.1L1110.4 684.8L1113.6 718.5L1116.8 694.5L1120.1 707.4L1123.3 737L1126.6 718.8L1129.8 710.5L1133.1 691.2L1136.3 685.6L1139.5 701.6L1142.8 746.7L1146 690.4L1149.3 711.8L1152.5 695.6L1155.8 726.4L1159 740.7L1162.2 692.5L1165.5 724.5L1168.7 721.7L1172 709.4L1175.2 702.8L1178.5 737L1181.7 731.7L1184.9 765L1188.2 711.4L1191.4 734.7L1194.7 715.9L1197.9 720.5L1201.2 790.1L1204.4 769.2L1207.6 729.1L1210.9 738.2L1214.1 740.9L1217.4 783L1220.6 774.2L1223.9 743.6L1227.1 724.9L1230.4 741.4L1233.6 793"/>
<path d="M1000.1 700.2L1003.3 718.9L1006.6 691L1009.8 735.7L1013.1 728.2L1016.3 776.1L1019.5 680.1L1022.8 690.4L1026 691.3L1029.3 741.9L1032.5 722.9L1035.8 690.9L1039 731.4L1042.2 652.8L1045.5 745.1L1048.7 734.2L1052 672.2L1055.2 688L1058.5 676.1L1061.7 709.1L1064.9 714.4L1068.2 684.5L1071.4 747.7L1074.7 692.1L1077.9 722.7L1081.2 715.8L1084.4 714.7L1087.7 713.7L1090.9 701.2L1094.1 680.1L1097.4 683.1L1100.6 692.9L1103.9 725.7L1107.1 750.4L1110.4 708.4L1113.6 701.8L1116.8 697.7L1120.1 697.3L1123.3 677.1L1126.6 686.7L1129.8 716.5L1133.1 733.2L1136.3 751.2L1139.5 724.1L1142.8 691.3L1146 742.8L1149.3 722.9L1152.5 710.4L1155.8 764.4L1159 711.6L1162.2 753.3L1165.5 717.7L1168.7 727.3L1172 722.1L1175.2 726.2L1178.5 728.2L1181.7 731.2L1184.9 759.5L1188.2 729.6L1191.4 717L1194.7 688.6L1197.9 753.5L1201.2 783.2L1204.4 714.7L1207.6 745L1210.9 793.5L1214.1 725.7L1217.4 733.7L1220.6 771L1223.9 730.5L1227.1 724.8L1230.4 743.9L1233.6 681.1"/>
<path d="M1000.1 696.1L1003.3 743.8L1006.6 721.4L1009.8 714.1L1013.1 722.8L1016.3 717.9L1019.5 704.1L1022.8 706.2L1026 682.9L1029.3 728.3L1032.5 717.9L1035.8 732.9L1039 705.9L1042.2 759.2L1045.5 708.5L1048.7 697.4L1052 731.3L1055.2 684.7L1058.5 747.8L1061.7 761.6L1064.9 678.4L1068.2 672.6L1071.4 716.3L1074.7 718.7L1077.9 721.9L1081.2 681.2L1084.4 676.7L1087.7 655.7L1090.9 713.3L1094.1 677.7L1097.4 658.4L1100.6 705.6L1103.9 725.5L1107.1 711.1L1110.4 687.6L1113.6 722.7L1116.8 648.7L1120.1 700.6L1123.3 717L1126.6 701L1129.8 687.5L1133.1 692.6L1136.3 749.9L1139.5 689.8L1142.8 652.4L1146 712.6L1149.3 677.2L1152.5 708.4L1155.8 696.3L1159 707.1L1162.2 688.5L1165.5 736.4L1168.7 740.2L1172 723.4L1175.2 729.6L1178.5 734L1181.7 711L1184.9 719.5L1188.2 738L1191.4 722.9L1194.7 702.7L1197.9 676.3L1201.2 742.3L1204.4 768.8L1207.6 735.9L1210.9 738.1L1214.1 717.6L1217.4 733.8L1220.6 762.9L1223.9 793.7L1227.1 764.8L1230.4 751.1L1233.6 785.1"/>
<path d="M1000.1 753.2L1003.3 673.8L1006.6 714.5L1009.8 679.8L1013.1 673.3L1016.3 730.3L1019.5 715.5L1022.8 705L1026 730L1029.3 718.6L1032.5 727.5L1035.8 726.3L1039 697L1042.2 773.6L1045.5 734.4L1048.7 706.3L1052 715.6L1055.2 691.8L1058.5 716.3L1061.7 713.9L1064.9 686.7L1068.2 684.4L1071.4 783.8L1074.7 681.8L1077.9 739.9L1081.2 686.2L1084.4 694.2L1087.7 720.1L1090.9 676.5L1094.1 747.3L1097.4 726L1100.6 698.6L1103.9 759.1L1107.1 691.3L1110.4 740.6L1113.6 708.7L1116.8 719.9L1120.1 694.4L1123.3 689.8L1126.6 699.9L1129.8 733.9L1133.1 705.7L1136.3 706.1L1139.5 693.7L1142.8 661.4L1146 745.9L1149.3 717.1L1152.5 685.2L1155.8 706.4L1159 716.7L1162.2 704.5L1165.5 717L1168.7 721.8L1172 728.5L1175.2 723.1L1178.5 749.4L1181.7 746.5L1184.9 729.4L1188.2 732.4L1191.4 727L1194.7 755.3L1197.9 778.9L1201.2 748.3L1204.4 755.8L1207.6 765.9L1210.9 727.6L1214.1 735.4L1217.4 767.8L1220.6 752.4L1223.9 776.7L1227.1 753.8L1230.4 799.8L1233.6 770.1"/>
<path d="M1000.1 710.6L1003.3 701.1L1006.6 761.7L1009.8 715.4L1013.1 718L1016.3 710.8L1019.5 690.7L1022.8 741L1026 703.9L1029.3 722.4L1032.5 703.2L1035.8 699.6L1039 716.5L1042.2 710.2L1045.5 740.6L1048.7 730L1052 720.4L1055.2 754.2L1058.5 718.4L1061.7 690.4L1064.9 730L1068.2 751.8L1071.4 703.2L1074.7 740.9L1077.9 723.6L1081.2 703.8L1084.4 674.3L1087.7 690.4L1090.9 690.9L1094.1 724.7L1097.4 690.3L1100.6 725.8L1103.9 739.8L1107.1 702L1110.4 694.2L1113.6 690.6L1116.8 706.9L1120.1 693.4L1123.3 701.3L1126.6 701.7L1129.8 706.2L1133.1 753L1136.3 714.9L1139.5 694.1L1142.8 686.5L1146 724.9L1149.3 704.1L1152.5 720.8L1155.8 715.9L1159 698.4L1162.2 678.7L1165.5 720.6L1168.7 682.1L1172 741.4L1175.2 697.5L1178.5 716.1L1181.7 717.7L1184.9 703.4L1188.2 750.9L1191.4 715.9L1194.7 733.5L1197.9 740.6L1201.2 773.9L1204.4 760.9L1207.6 773.6L1210.9 763.5L1214.1 696.3L1217.4 753.5L1220.6 737L1223.9 748.3L1227.1 751.8L1230.4 779.9L1233.6 711.5"/>
<path d="M1000.1 728.9L1003.3 720L1006.6 702.1L1009.8 715.4L1013.1 732.4L1016.3 725.9L1019.5 720.2L1022.8 699.3L1026 719.8L1029.3 718L1032.5 698.4L1035.8 763.8L1039 686.6L1042.2 746.5L1045.5 694.8L1048.7 690.6L1052 719L1055.2 821L1058.5 680.3L1061.7 688.2L1064.9 729.1L1068.2 670L1071.4 752L1074.7 725.7L1077.9 730.6L1081.2 716.1L1084.4 687.1L1087.7 693.1L1090.9 718.9L1094.1 719.4L1097.4 727L1100.6 699.7L1103.9 698.6L1107.1 772.7L1110.4 677.2L1113.6 707.8L1116.8 678L1120.1 730.7L1123.3 692.9L1126.6 726.3L1129.8 748.5L1133.1 652.2L1136.3 691.4L1139.5 662.8L1142.8 671.4L1146 680.1L1149.3 691.5L1152.5 748.2L1155.8 709.8L1159 721.2L1162.2 758.1L1165.5 726.3L1168.7 721.2L1172 750.4L1175.2 730.8L1178.5 704.6L1181.7 675.3L1184.9 706L1188.2 723.8L1191.4 714.1L1194.7 745.8L1197.9 777.3L1201.2 758.7L1204.4 683L1207.6 723.9L1210.9 719.6L1214.1 760.3L1217.4 755.7L1220.6 743.6L1223.9 739.9L1227.1 739.9L1230.4 722.5L1233.6 746.5"/>
<path d="M1000.1 697.5L1003.3 716.2L1006.6 760.7L1009.8 716.5L1013.1 746.2L1016.3 735.6L1019.5 704.2L1022.8 731.4L1026 705.9L1029.3 734.3L1032.5 721.3L1035.8 749.5L1039 732.8L1042.2 715.1L1045.5 696.3L1048.7 767.4L1052 702.6L1055.2 713.1L1058.5 712.5L1061.7 698.9L1064.9 676.7L1068.2 695.1L1071.4 688L1074.7 728.9L1077.9 766.7L1081.2 691L1084.4 710.3L1087.7 725.2L1090.9 687.3L1094.1 684L1097.4 692.4L1100.6 740L1103.9 724.6L1107.1 687.3L1110.4 703.7L1113.6 707.7L1116.8 703.9L1120.1 658.1L1123.3 701.9L1126.6 715.1L1129.8 722.7L1133.1 711.1L1136.3 703.1L1139.5 700.4L1142.8 725.9L1146 789.7L1149.3 695.7L1152.5 744.7L1155.8 745.3L1159 708.8L1162.2 652.4L1165.5 737.5L1168.7 715.8L1172 705.4L1175.2 736.7L1178.5 708.3L1181.7 700.8L1184.9 749.6L1188.2 752.2L1191.4 762.9L1194.7 745.4L1197.9 735.7L1201.2 754.1L1204.4 771.2L1207.6 780.2L1210.9 762.1L1214.1 764L1217.4 736.1L1220.6 778.8L1223.9 798.2L1227.1 802.6L1230.4 755.8L1233.6 713.3"/>
<path d="M1000.1 702.9L1003.3 736.2L1006.6 709.5L1009.8 709.5L1013.1 777.9L1016.3 700.4L1019.5 693L1022.8 715.5L1026 715.7L1029.3 783.3L1032.5 736.1L1035.8 736.6L1039 729.7L1042.2 687L1045.5 673.8L1048.7 679.4L1052 702.5L1055.2 672.4L1058.5 732.7L1061.7 705.7L1064.9 719.3L1068.2 722.1L1071.4 710.7L1074.7 665.4L1077.9 687.6L1081.2 708.1L1084.4 674.2L1087.7 695.8L1090.9 678.8L1094.1 711.5L1097.4 717.3L1100.6 701.2L1103.9 719.9L1107.1 731.3L1110.4 701.2L1113.6 712.6L1116.8 726.4L1120.1 704.4L1123.3 704.8L1126.6 704.5L1129.8 697.2L1133.1 690.7L1136.3 728.7L1139.5 713.9L1142.8 694.2L1146 740.2L1149.3 744.2L1152.5 718.6L1155.8 695.9L1159 721.9L1162.2 719L1165.5 739.5L1168.7 728.1L1172 747L1175.2 700.4L1178.5 727L1181.7 716.2L1184.9 733.4L1188.2 710.7L1191.4 717.4L1194.7 702.5L1197.9 731.9L1201.2 783L1204.4 782.7L1207.6 725.2L1210.9 741.4L1214.1 746.5L1217.4 706.6L1220.6 762.3L1223.9 779.8L1227.1 746L1230.4 709.7L1233.6 716.6"/>
<path d="M1000.1 732.4L1003.3 716.4L1006.6 726.7L1009.8 738.6L1013.1 725.3L1016.3 720.6L1019.5 713.4L1022.8 673.6L1026 746.2L1029.3 755.7L1032.5 711.9L1035.8 727.9L1039 698.6L1042.2 733.1L1045.5 710.3L1048.7 699L1052 692.1L1055.2 735.5L1058.5 709.3L1061.7 718.5L1064.9 686.2L1068.2 775.5L1071.4 718L1074.7 673.9L1077.9 741.6L1081.2 680.2L1084.4 738.3L1087.7 730.4L1090.9 757.8L1094.1 691.9L1097.4 675.4L1100.6 714.4L1103.9 731.1L1107.1 714.2L1110.4 705.3L1113.6 753.5L1116.8 732.9L1120.1 681L1123.3 714.8L1126.6 684.3L1129.8 702.3L1133.1 670.2L1136.3 696.6L1139.5 685L1142.8 665.1L1146 710.5L1149.3 718.7L1152.5 703.1L1155.8 681.9L1159 752.9L1162.2 714.5L1165.5 713.1L1168.7 714.3L1172 744.9L1175.2 700L1178.5 727.6L1181.7 694.2L1184.9 750.1L1188.2 705.7L1191.4 710.6L1194.7 744.4L1197.9 742L1201.2 757.5L1204.4 753.6L1207.6 784.1L1210.9 723.2L1214.1 747.7L1217.4 759.9L1220.6 753.7L1223.9 780.2L1227.1 774.9L1230.4 759.2L1233.6 782.2"/>
<path d="M1000.1 706.3L1003.3 730.1L1006.6 717.4L1009.8 755.5L1013.1 708.4L1016.3 710.5L1019.5 731.5L1022.8 713.7L1026 689.1L1029.3 721.3L1032.5 754L1035.8 718.6L1039 688.6L1042.2 709.8L1045.5 685.8L1048.7 688.8L1052 726.3L1055.2 717.9L1058.5 743.3L1061.7 686.1L1064.9 697L1068.2 679L1071.4 730L1074.7 679.5L1077.9 683.2L1081.2 677.7L1084.4 719.7L1087.7 709.3L1090.9 708.1L1094.1 729.5L1097.4 708.5L1100.6 683.6L1103.9 763.6L1107.1 691.2L1110.4 688.8L1113.6 739.9L1116.8 703.9L1120.1 705.8L1123.3 670.8L1126.6 693.4L1129.8 688.5L1133.1 717.1L1136.3 708.7L1139.5 720.4L1142.8 687.3L1146 706.3L1149.3 721.7L1152.5 689.9L1155.8 693.5L1159 741L1162.2 706.5L1165.5 782.9L1168.7 746.9L1172 737.6L1175.2 720.6L1178.5 737.8L1181.7 725.2L1184.9 694.2L1188.2 714.5L1191.4 724.9L1194.7 752.8L1197.9 726.2L1201.2 683.8L1204.4 742.4L1207.6 728.2L1210.9 756L1214.1 742.5L1217.4 713.4L1220.6 711.8L1223.9 728.3L1227.1 728L1230.4 745.1L1233.6 734.3"/>
<path d="M1000.1 712.8L1003.3 737.2L1006.6 722.6L1009.8 710.4L1013.1 738.1L1016.3 752.4L1019.5 735.4L1022.8 679.1L1026 716.2L1029.3 715L1032.5 747.2L1035.8 665.1L1039 713.9L1042.2 715.7L1045.5 721.5L1048.7 700.9L1052 695.9L1055.2 707.9L1058.5 676.9L1061.7 706.2L1064.9 668.4L1068.2 684.5L1071.4 728.7L1074.7 710.1L1077.9 715.3L1081.2 733.2L1084.4 716.9L1087.7 710.9L1090.9 689.5L1094.1 682.5L1097.4 743.8L1100.6 683.6L1103.9 733.3L1107.1 716L1110.4 744.6L1113.6 690.7L1116.8 731.9L1120.1 685.8L1123.3 695.7L1126.6 755.9L1129.8 751.5L1133.1 712.5L1136.3 753.9L1139.5 723.2L1142.8 701.7L1146 739.8L1149.3 686.3L1152.5 689.5L1155.8 656.3L1159 719L1162.2 700.7L1165.5 714.2L1168.7 727.5L1172 718.4L1175.2 740.3L1178.5 727L1181.7 755.8L1184.9 687.2L1188.2 751.1L1191.4 760.7L1194.7 723.8L1197.9 772.2L1201.2 731.2L1204.4 797.8L1207.6 771.9L1210.9 754.8L1214.1 738.9L1217.4 757L1220.6 753.2L1223.9 745.3L1227.1 759.9L1230.4 784.5L1233.6 744.8"/>
<path d="M1000.1 701.2L1003.3 780.6L1006.6 736.9L1009.8 740.5L1013.1 723.2L1016.3 716.6L1019.5 748.7L1022.8 746.6L1026 704.9L1029.3 707.5L1032.5 727.8L1035.8 728.9L1039 707.9L1042.2 742.8L1045.5 718.5L1048.7 690.9L1052 702.7L1055.2 710L1058.5 713.9L1061.7 694.1L1064.9 721.8L1068.2 684.1L1071.4 720.6L1074.7 698.6L1077.9 685.4L1081.2 688.5L1084.4 673.5L1087.7 669L1090.9 672.9L1094.1 702.7L1097.4 703L1100.6 673.6L1103.9 692.5L1107.1 680.3L1110.4 722.8L1113.6 686.6L1116.8 702.8L1120.1 707.2L1123.3 717.6L1126.6 736.6L1129.8 700.4L1133.1 670.9L1136.3 727.6L1139.5 722.8L1142.8 664.9L1146 708.3L1149.3 719.1L1152.5 705.7L1155.8 711.4L1159 681.3L1162.2 697L1165.5 697L1168.7 766.6L1172 717.9L1175.2 714.4L1178.5 707.4L1181.7 723.5L1184.9 725.6L1188.2 719L1191.4 707.6L1194.7 710.4L1197.9 699.6L1201.2 698L1204.4 745.8L1207.6 720.9L1210.9 753.6L1214.1 732.4L1217.4 734.8L1220.6 736.5L1223.9 742L1227.1 798L1230.4 763L1233.6 731.7"/>
<path d="M1000.1 749.2L1003.3 817L1006.6 701.2L1009.8 680.1L1013.1 686.6L1016.3 743.1L1019.5 739.3L1022.8 690.2L1026 708.2L1029.3 691.7L1032.5 717.9L1035.8 741.5L1039 725L1042.2 706.3L1045.5 690.7L1048.7 712.2L1052 714.3L1055.2 696.2L1058.5 704.6L1061.7 726.2L1064.9 704.7L1068.2 675.7L1071.4 737.6L1074.7 696.7L1077.9 664.9L1081.2 732.7L1084.4 744.5L1087.7 711.4L1090.9 692.7L1094.1 673L1097.4 695.8L1100.6 656.4L1103.9 720.5L1107.1 718.2L1110.4 678.6L1113.6 750.7L1116.8 724.6L1120.1 738.2L1123.3 717.5L1126.6 742L1129.8 716.9L1133.1 684.2L1136.3 716.6L1139.5 680.1L1142.8 682.5L1146 709.1L1149.3 687.3L1152.5 685.1L1155.8 729L1159 706.7L1162.2 713.4L1165.5 726.7L1168.7 695.9L1172 721.1L1175.2 703.7L1178.5 736.6L1181.7 729.4L1184.9 723.4L1188.2 764.6L1191.4 735.2L1194.7 743.6L1197.9 734.7L1201.2 743.7L1204.4 769.8L1207.6 788.3L1210.9 747.9L1214.1 730.8L1217.4 735L1220.6 741.1L1223.9 776.7L1227.1 736.7L1230.4 720L1233.6 691"/>
<path d="M1000.1 711.5L1003.3 722.6L1006.6 721.4L1009.8 716.4L1013.1 723.1L1016.3 710.3L1019.5 719L1022.8 689.5L1026 705.5L1029.3 782.1L1032.5 733.1L1035.8 720.7L1039 712.3L1042.2 715.1L1045.5 743.8L1048.7 691.4L1052 703.7L1055.2 699.3L1058.5 737.2L1061.7 717.2L1064.9 687.3L1068.2 662.4L1071.4 724.2L1074.7 732.1L1077.9 691.5L1081.2 739.5L1084.4 673.8L1087.7 671.8L1090.9 666.4L1094.1 709.9L1097.4 695.6L1100.6 715.3L1103.9 646.7L1107.1 718.7L1110.4 700.6L1113.6 746L1116.8 713.8L1120.1 665.8L1123.3 744.3L1126.6 709.1L1129.8 738.3L1133.1 685.2L1136.3 722.7L1139.5 731.4L1142.8 729.3L1146 731.5L1149.3 685.2L1152.5 706.7L1155.8 690.4L1159 718.2L1162.2 679.3L1165.5 765.1L1168.7 706.9L1172 737.1L1175.2 700.6L1178.5 785.9L1181.7 768.9L1184.9 685.6L1188.2 688.2L1191.4 740.4L1194.7 695.6L1197.9 725.8L1201.2 760L1204.4 715.2L1207.6 721.3L1210.9 730.5L1214.1 736.8L1217.4 763.8L1220.6 759L1223.9 713.7L1227.1 722.7L1230.4 752.3L1233.6 780.2"/>
<path d="M1000.1 704.8L1003.3 704.8L1006.6 721.9L1009.8 714.7L1013.1 727.5L1016.3 722L1019.5 724.8L1022.8 696.1L1026 736.6L1029.3 739.7L1032.5 730.7L1035.8 718.5L1039 702.1L1042.2 689.7L1045.5 716.3L1048.7 703.5L1052 697.4L1055.2 744.6L1058.5 701.8L1061.7 740.5L1064.9 755.1L1068.2 734.9L1071.4 700.8L1074.7 712L1077.9 699.4L1081.2 708.9L1084.4 714L1087.7 674.4L1090.9 703.8L1094.1 703.8L1097.4 723.4L1100.6 708.2L1103.9 710.6L1107.1 699.1L1110.4 732.5L1113.6 695.1L1116.8 690.2L1120.1 699.1L1123.3 698.1L1126.6 681.8L1129.8 725.9L1133.1 735.9L1136.3 720L1139.5 709.2L1142.8 709.4L1146 737.1L1149.3 692.2L1152.5 718.7L1155.8 745.1L1159 694.9L1162.2 737.3L1165.5 683L1168.7 752.2L1172 765.6L1175.2 747L1178.5 742L1181.7 703.1L1184.9 704.7L1188.2 705.1L1191.4 747.7L1194.7 727.7L1197.9 761.9L1201.2 730.9L1204.4 758L1207.6 746.3L1210.9 741.5L1214.1 726.5L1217.4 762.1L1220.6 695.6L1223.9 807.9L1227.1 739L1230.4 762.4L1233.6 801.9"/>
<path d="M1000.1 691.2L1003.3 705.2L1006.6 758.5L1009.8 695.1L1013.1 722.5L1016.3 723.9L1019.5 729.3L1022.8 708.1L1026 732.3L1029.3 705.3L1032.5 720.8L1035.8 689.6L1039 731.1L1042.2 678L1045.5 721.8L1048.7 696L1052 744.8L1055.2 714.8L1058.5 719.9L1061.7 691.7L1064.9 712.6L1068.2 727.7L1071.4 722L1074.7 748L1077.9 706.2L1081.2 757.2L1084.4 677.1L1087.7 692.2L1090.9 703.6L1094.1 692.7L1097.4 721.2L1100.6 692.4L1103.9 681.8L1107.1 696.8L1110.4 675.1L1113.6 704.5L1116.8 707.4L1120.1 621.6L1123.3 725.6L1126.6 690.3L1129.8 703.3L1133.1 711.1L1136.3 711.7L1139.5 733.2L1142.8 736L1146 652.7L1149.3 775.8L1152.5 707.5L1155.8 716.7L1159 706.3L1162.2 697.2L1165.5 717.5L1168.7 725.2L1172 721L1175.2 748.4L1178.5 741.6L1181.7 706.1L1184.9 758.6L1188.2 741.6L1191.4 718.5L1194.7 745.2L1197.9 754.8L1201.2 731.8L1204.4 736L1207.6 682.3L1210.9 701.2L1214.1 726L1217.4 735L1220.6 765.9L1223.9 712.4L1227.1 729.9L1230.4 743.7L1233.6 722.5"/>
<path d="M1000.1 692.1L1003.3 750.8L1006.6 728.5L1009.8 757.5L1013.1 700.6L1016.3 749L1019.5 742.7L1022.8 763.3L1026 715.9L1029.3 754.6L1032.5 748.8L1035.8 716.8L1039 687.4L1042.2 697.6L1045.5 694.3L1048.7 701L1052 720L1055.2 730.2L1058.5 684.3L1061.7 713.6L1064.9 714.4L1068.2 720.1L1071.4 681.3L1074.7 670.6L1077.9 720.3L1081.2 696.8L1084.4 700.1L1087.7 739L1090.9 688.2L1094.1 663.2L1097.4 688.8L1100.6 735.7L1103.9 700.2L1107.1 717.2L1110.4 712.4L1113.6 758.5L1116.8 684.6L1120.1 705.9L1123.3 708.3L1126.6 701.7L1129.8 710.8L1133.1 669L1136.3 723.9L1139.5 678.5L1142.8 727.2L1146 707.7L1149.3 675.3L1152.5 702.7L1155.8 729.5L1159 691.5L1162.2 670.5L1165.5 715L1168.7 722.7L1172 713.9L1175.2 725.9L1178.5 756.9L1181.7 746.2L1184.9 751.2L1188.2 718.4L1191.4 777.9L1194.7 696.1L1197.9 699.6L1201.2 709.3L1204.4 729.9L1207.6 735.9L1210.9 717.9L1214.1 733.2L1217.4 761.4L1220.6 752.3L1223.9 749.1L1227.1 773.2L1230.4 781.4L1233.6 727.7"/>
<path d="M1000.1 710.6L1003.3 687.4L1006.6 708.6L1009.8 699.8L1013.1 711.4L1016.3 688.3L1019.5 711.9L1022.8 708.4L1026 684.3L1029.3 705.1L1032.5 736.7L1035.8 730.6L1039 693.3L1042.2 700.6L1045.5 701.9L1048.7 719.4L1052 724.1L1055.2 692.2L1058.5 696L1061.7 705.1L1064.9 686.6L1068.2 707L1071.4 673.4L1074.7 679.7L1077.9 744.6L1081.2 700.9L1084.4 679.9L1087.7 723.8L1090.9 703.4L1094.1 692.3L1097.4 705.2L1100.6 749.5L1103.9 694.5L1107.1 681.4L1110.4 712.6L1113.6 720.2L1116.8 679.2L1120.1 685.9L1123.3 742.2L1126.6 724L1129.8 742.2L1133.1 697.1L1136.3 712.5L1139.5 681.4L1142.8 653.2L1146 732.9L1149.3 684.4L1152.5 709.8L1155.8 691.3L1159 705.8L1162.2 700.5L1165.5 765.5L1168.7 722.4L1172 701.8L1175.2 718.4L1178.5 669.3L1181.7 731.3L1184.9 702.1L1188.2 748.3L1191.4 702.9L1194.7 761.8L1197.9 674.9L1201.2 714.9L1204.4 759.7L1207.6 744.3L1210.9 726.1L1214.1 754.3L1217.4 717.5L1220.6 765L1223.9 778.4L1227.1 787.9L1230.4 722.3L1233.6 782"/>
<path d="M1000.1 750.4L1003.3 726.3L1006.6 733L1009.8 729.4L1013.1 711.4L1016.3 718.4L1019.5 731.2L1022.8 732.6L1026 710L1029.3 680.1L1032.5 733.1L1035.8 671.8L1039 745.7L1042.2 730.9L1045.5 686.7L1048.7 729.4L1052 723.8L1055.2 693L1058.5 673.8L1061.7 729.7L1064.9 703.6L1068.2 689.9L1071.4 726.3L1074.7 681.9L1077.9 730.6L1081.2 744L1084.4 688.5L1087.7 686.7L1090.9 722.7L1094.1 695L1097.4 664L1100.6 726L1103.9 694.4L1107.1 733.3L1110.4 669.3L1113.6 711.7L1116.8 711.2L1120.1 708.9L1123.3 681.1L1126.6 673.3L1129.8 722.1L1133.1 731.5L1136.3 715.4L1139.5 718.7L1142.8 685.4L1146 687.2L1149.3 742.6L1152.5 754.5L1155.8 763.1L1159 720.3L1162.2 696.5L1165.5 663.8L1168.7 732.8L1172 747.7L1175.2 739.8L1178.5 744.3L1181.7 696.9L1184.9 754.5L1188.2 763.1L1191.4 802.9L1194.7 766.8L1197.9 775.4L1201.2 695.6L1204.4 706.1L1207.6 704.7L1210.9 765.6L1214.1 736.5L1217.4 718.8L1220.6 724.3L1223.9 758.5L1227.1 712.9L1230.4 759.6L1233.6 759.8"/>
<path d="M1000.1 775.3L1003.3 725.6L1006.6 690.5L1009.8 760.3L1013.1 730.3L1016.3 726.2L1019.5 706.6L1022.8 719.1L1026 698L1029.3 711.3L1032.5 711L1035.8 750.5L1039 736.7L1042.2 688.4L1045.5 711.5L1048.7 698.1L1052 711.2L1055.2 720.8L1058.5 703.6L1061.7 738.6L1064.9 736.6L1068.2 682.3L1071.4 707.3L1074.7 677L1077.9 671.4L1081.2 672.8L1084.4 680.3L1087.7 678.6L1090.9 717.8L1094.1 704.6L1097.4 690.2L1100.6 677.6L1103.9 712L1107.1 717.5L1110.4 736.9L1113.6 710.4L1116.8 713.6L1120.1 663.7L1123.3 694.1L1126.6 720.1L1129.8 690.2L1133.1 687.6L1136.3 774.7L1139.5 733.4L1142.8 701.1L1146 737.1L1149.3 718L1152.5 699.3L1155.8 708.7L1159 705.1L1162.2 742.1L1165.5 716.2L1168.7 722.4L1172 690.8L1175.2 696.6L1178.5 720.5L1181.7 716.9L1184.9 736.1L1188.2 737L1191.4 735.8L1194.7 706.6L1197.9 742.5L1201.2 701.5L1204.4 740L1207.6 746.6L1210.9 778.6L1214.1 724.7L1217.4 742.7L1220.6 742.1L1223.9 708.6L1227.1 770.9L1230.4 736L1233.6 763.9"/>
<path d="M1000.1 689.6L1003.3 735.1L1006.6 746.3L1009.8 720.3L1013.1 780.8L1016.3 733.3L1019.5 741.7L1022.8 668.3L1026 733.2L1029.3 684.7L1032.5 696.4L1035.8 697.4L1039 704L1042.2 761.6L1045.5 703.4L1048.7 708.7L1052 689.2L1055.2 701.1L1058.5 669.1L1061.7 709L1064.9 707.4L1068.2 668.1L1071.4 659.6L1074.7 680.2L1077.9 703.8L1081.2 678.5L1084.4 664.8L1087.7 708.6L1090.9 666.6L1094.1 712.1L1097.4 734.6L1100.6 654.4L1103.9 719.5L1107.1 717.7L1110.4 713.9L1113.6 742.5L1116.8 745.7L1120.1 705.6L1123.3 711L1126.6 707.3L1129.8 701.4L1133.1 739.9L1136.3 739.3L1139.5 714L1142.8 750.3L1146 756.4L1149.3 749.5L1152.5 723.6L1155.8 725.9L1159 767.6L1162.2 759.9L1165.5 747.3L1168.7 717.9L1172 716.5L1175.2 731.6L1178.5 731L1181.7 756.5L1184.9 750.9L1188.2 689.8L1191.4 743.5L1194.7 751.7L1197.9 712.1L1201.2 707.1L1204.4 739L1207.6 733.2L1210.9 785.2L1214.1 741.1L1217.4 772.1L1220.6 787.5L1223.9 780.6L1227.1 740.7L1230.4 754.8L1233.6 739.9"/>
</g>
<path d="M421 231.5L423.9 207.9L427.3 214.6L430.6 207.4L437.3 218.5L446.2 208.5L450.7 209.6L453.5 207.9L457.4 211.3L464.1 207.9L472.4 216.8L475.8 209.6L481.9 218L485.8 205.1L492 212.9L495.3 200.1L498.6 215.2L504.8 200.7L508.1 213.5L511.5 207.4L521 219.6L525.4 211.8L531 220.2L537.1 212.9L540.5 224.6L546.6 211.8L551.1 215.7L556.1 215.7L560 228.5L566.7 220.2L572.3 225.2L576.7 218.5L580.1 221.3L584.5 214.6L592.3 217.4L595.7 209.6L599 218L604.6 211.9L611.3 219.7L618 208L624.7 211.9L630.8 217.4L635.8 204.6L640.3 211.3L644.8 206.8L648.1 212.4L650.9 205.7L653.7 217.4L659.3 206.8L663.2 194.6L666 207.4L671.5 197.4L676 195.7L679.9 201.8L682.7 193.5L689.4 201.8L695.5 192.9" fill="none" stroke="#000" stroke-opacity="0.5" stroke-width="5" stroke-linejoin="round" stroke-linecap="butt"/>
<path d="M698.6 185.6L704.5 197.9L708.4 189L711.7 196.8L717.9 197.4L721.2 187.9L725.1 189.6L727.9 200.7L733.5 197.4L741.3 194.6L744.1 189.6L748 192.9L753.6 190.1L756.9 195.7L760.3 192.3L763.6 195.7L767 194L769.7 197.9L773.1 194L775.9 201.8L780.3 199.6L782.6 205.7L785.9 200.7L789.3 206.3L792 198.5L795.4 210.7L798.7 203.5L802.6 209.6L808.8 206.8L814.9 215.3L818.4 211.2L824.2 222L828.7 225.5L834.3 232.5L840.9 220.1L843.8 233.4L847.6 232.7L853.5 246.1L857.2 243.8L866.1 258.7L869.8 258L876.5 268.4L880.2 266.1L886.2 275.8L890.7 283.2L895.9 281.7L901.8 292.9L905.5 293.6L908.5 306.3L912.9 308.5L917.4 313.7L921.9 315.2L924.1 327.8L927.1 325.6L931.5 333.7" fill="none" stroke="#000" stroke-opacity="0.5" stroke-width="5" stroke-linejoin="round" stroke-linecap="butt"/>
<path d="M132.5 694L135.2 692.9L136.9 697.9L139.7 695.9L143.1 700.1L147 699.2L149.2 702.3L152.5 698.4L158.1 699.6L162 694.3L165.4 699.6L172.6 697.3L177.1 697.9L182.1 701.8L184.9 697.9L188.2 701.8L191.6 696.2L197.1 698.4L206.1 699.6L212.2 704L220.6 697.3L223.9 702.9L228.4 698.4L233.4 701.2L236.7 694.5L242.9 698.4L251.8 692.9L261.8 700.1L268.5 700.1L275.6 693.4L281.2 696.2L287.8 694.5L294 696.2L298.4 702.3L304.6 693.4L308.5 697.9L314.6 692.9L318 703.5L324.1 697.9L328 702.9L334.1 704L337.5 696.8L347 703.5L350.3 699.6L355.9 702.3L363.1 706.8L369.3 695.1L372.6 706.2L381.5 705.7L386 707.4L392.7 711.8L396 711.8L398.8 718L402.7 714.6L407.7 716.3" fill="none" stroke="#000" stroke-opacity="0.5" stroke-width="5" stroke-linejoin="round" stroke-linecap="butt"/>
<path d="M411.9 716.8L422.3 718.3L425.3 721.3L428.2 717.6L433.4 727.2L438.7 725.7L441.6 728.7L444.6 725.7L447.6 731L455 730.2L459.5 733.2L463.2 740.6L466.9 736.2L476.6 745.1L481.8 742.8L489.9 750.3L496.6 752.5L502.6 753.2L509.3 759.9L514.5 756.2L524.9 761.4L527.8 767.4L532 769.5L537.9 771.6L543.9 778.5L548.8 776.6L553.8 774.6L556.7 779.5L560.7 778.5L566.6 791.4L572.6 791.4L577.5 794.4L584.5 802.3L589.4 806.3L594.4 808.2L599.3 814.2L605.3 819.1L609.2 818.2L617.2 827.1L625.1 841.9L631 844.9L635 848.9L638 859.8L640.9 855.8L644.9 865.7" fill="none" stroke="#000" stroke-opacity="0.5" stroke-width="5" stroke-linejoin="round" stroke-linecap="butt"/>
<path d="M723 782.5L725.8 755.1L729.2 764.1L732.5 752.9L739.2 763.5L748.1 754.6L752 761.3L755.4 754L761.5 759L767.6 755.7L774.3 764.1L777.7 755.1L781.6 764.6L784.9 765.2L787.7 751.8L793.8 759.6L797.2 746.2L800.5 759L806.7 746.8L810 760.7L813.3 752.3L816.7 760.1L822.8 765.2L829 761.3L832.9 766.8L838.4 762.9L842.3 775.2L848.5 759L857.4 762.4L861.7 777L868.9 769.1L874.5 774.2L878.4 767.5L881.2 769.7L887.3 759.1L894 768.6L897.4 756.9L900.7 767.5L904.6 766.4L906.8 755.8L913.5 766.9L919.7 751.9L923 751.3L926.4 760.8L933 761.9L935.8 748.5L942.5 755.8L946.4 750.7L949.2 754.6L952 746.8L955.3 764.7L959.8 753.5L964.8 736.8L968.2 748.5L973.8 736.8L978.2 732.9L981.6 738.5L984.3 729.6L991 736.2L997.2 725.1" fill="none" stroke="#000" stroke-opacity="0.5" stroke-width="5" stroke-linejoin="round" stroke-linecap="butt"/>
<path d="M1000.8 716.9L1006.1 729.9L1010 720.3L1016.7 727.5L1023 710.6L1027.4 713L1030.3 723.6L1036.6 715.9L1042.4 714.5L1046.2 708.2L1049.6 708.2L1052.5 702.9L1058.8 708.2L1062.7 701.4L1069.4 702.4L1071.8 706.7L1074.7 699L1078.1 704.3L1082.5 701.4L1084.9 705.8L1087.8 700.9L1091.2 705.3L1094.1 695.6L1097.5 705.8L1100.4 698L1104.2 707.2L1110.5 700L1113.9 705.3L1120.2 696.6L1126.6 707.6L1132.7 704.4L1136.4 713.7L1142.4 700.7L1145.7 710.9L1149.4 710.9L1153.1 714.6L1158.7 710L1163.3 718.8L1168.4 725.8L1171.7 717.4L1178.2 726.7L1181.4 721.1L1188 723.4L1190.7 731.8L1196.8 729L1203.8 737.8L1207 730.9L1210.3 742L1214 735.1L1220 743.9L1223.3 741.1L1227 748.1L1229.8 746.2L1231.6 749L1233.5 746.7" fill="none" stroke="#000" stroke-opacity="0.5" stroke-width="5" stroke-linejoin="round" stroke-linecap="butt"/>
<text x="418" y="470" text-anchor="middle" class="tk">1920</text>
<text x="547.1" y="470" text-anchor="middle" class="tk">1960</text>
<text x="674.8" y="470" text-anchor="middle" class="tk">2000</text>
<text x="803.9" y="470" text-anchor="middle" class="tk">2040</text>
<text x="933" y="470" text-anchor="middle" class="tk">2080</text>
<text x="404.9" y="435.4" text-anchor="end" class="tk">1</text>
<text x="404.9" y="341.2" text-anchor="end" class="tk">1.5</text>
<text x="404.9" y="247" text-anchor="end" class="tk">2</text>
<text x="404.9" y="152.8" text-anchor="end" class="tk">2.5</text>
<text x="404.9" y="58.6" text-anchor="end" class="tk">3</text>
<text x="130.3" y="1007.8" text-anchor="middle" class="tk">1920</text>
<text x="259.7" y="1007.8" text-anchor="middle" class="tk">1960</text>
<text x="387.8" y="1007.8" text-anchor="middle" class="tk">2000</text>
<text x="517.2" y="1007.8" text-anchor="middle" class="tk">2040</text>
<text x="117.2" y="974.1" text-anchor="end" class="tk">100</text>
<text x="117.2" y="848.5" text-anchor="end" class="tk">150</text>
<text x="117.2" y="723" text-anchor="end" class="tk">200</text>
<text x="117.2" y="597.4" text-anchor="end" class="tk">250</text>
<text x="720.1" y="1007.8" text-anchor="middle" class="tk">1920</text>
<text x="849.2" y="1007.8" text-anchor="middle" class="tk">1960</text>
<text x="976.9" y="1007.8" text-anchor="middle" class="tk">2000</text>
<text x="1106" y="1007.8" text-anchor="middle" class="tk">2040</text>
<text x="1235.1" y="1007.8" text-anchor="middle" class="tk">2080</text>
<text x="1248.5" y="974.1" text-anchor="start" class="tk">4</text>
<text x="1248.5" y="879.9" text-anchor="start" class="tk">6</text>
<text x="1248.5" y="785.8" text-anchor="start" class="tk">8</text>
<text x="1248.5" y="691.6" text-anchor="start" class="tk">10</text>
<text x="1248.5" y="597.4" text-anchor="start" class="tk">12</text>
<text x="681.8" y="28.3" text-anchor="middle" class="ti">Total winter ice production</text>
<text x="392.5" y="568.8" text-anchor="middle" class="ti">Freezing area days, <tspan font-style="italic">"Usage"</tspan></text>
<text x="981.3" y="568.8" text-anchor="middle" class="ti">Growth rate,&#160; <tspan font-style="italic">"Efficiency"</tspan></text>
<text x="369.6" y="104.4" class="pl">a)</text>
<text x="81.6" y="646.2" class="pl">b)</text>
<text x="670.8" y="643" class="pl">c)</text>
<text x="610.8" y="396" style="font-size:34px;fill:rgb(153,204,242)">20C</text>
<text x="740" y="396" style="font-size:34px;fill:rgb(242,204,153)">RCP85</text>
<text transform="translate(338.4 233.4) rotate(-90)" text-anchor="middle" class="yl">x1000 km<tspan dy="-17.5" font-size="31.5">3</tspan></text>
<text transform="translate(40.1 772.2) rotate(-90)" text-anchor="middle" class="yl">x 1.25x10<tspan dy="-17.5" font-size="31.5">6</tspan><tspan dy="17.5"> km</tspan><tspan dy="-17.5" font-size="31.5">2</tspan><tspan dy="17.5"> day</tspan></text>
<text transform="translate(1336.3 772.8) rotate(-90)" text-anchor="middle" class="yl">mm/day</text>
</svg>
</body></html>
